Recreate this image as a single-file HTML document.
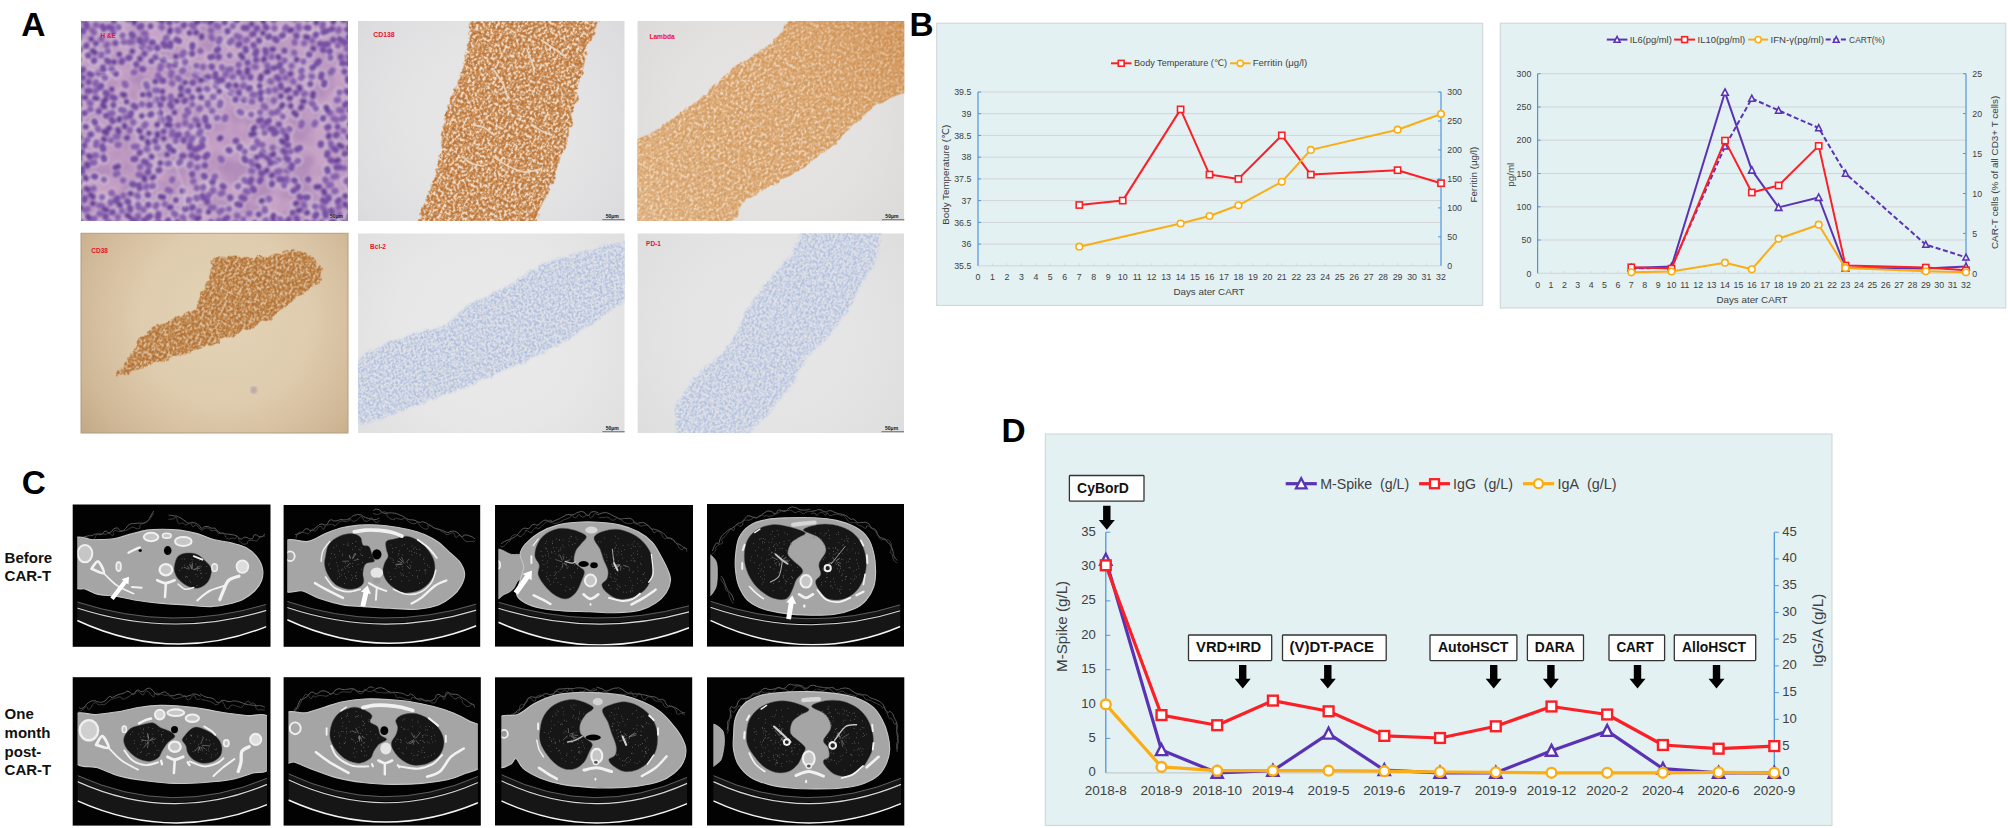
<!DOCTYPE html>
<html lang="en"><head><meta charset="utf-8"><title>Figure</title>
<style>
html,body{margin:0;padding:0;background:#fff;}
body{width:2008px;height:828px;overflow:hidden;font-family:'Liberation Sans','DejaVu Sans',sans-serif;}
svg{display:block;}
svg text{font-family:'Liberation Sans','DejaVu Sans',sans-serif;}
</style></head><body>
<svg width="2008" height="828" viewBox="0 0 2008 828">
<defs>
<clipPath id="c1"><rect x="81" y="21" width="267" height="200"/></clipPath>
<filter id="fHEbg" x="-5%" y="-5%" width="110%" height="110%" color-interpolation-filters="sRGB"><feTurbulence type="fractalNoise" baseFrequency="0.045" numOctaves="2" seed="5" result="n"/><feColorMatrix in="n" type="matrix" values="1 0 0 0 0 1 0 0 0 0 1 0 0 0 0 0 0 0 0 1" result="g"/><feComponentTransfer in="g" result="c"><feFuncR type="table" tableValues="0.678 0.682 0.690 0.694 0.698 0.702 0.710 0.714 0.725 0.737 0.749 0.761 0.769 0.780 0.784 0.788 0.792 0.792 0.796 0.800 0.804"/><feFuncG type="table" tableValues="0.529 0.533 0.541 0.545 0.549 0.553 0.561 0.565 0.576 0.588 0.600 0.612 0.624 0.635 0.639 0.643 0.647 0.655 0.659 0.663 0.667"/><feFuncB type="table" tableValues="0.718 0.722 0.722 0.725 0.729 0.733 0.733 0.737 0.745 0.749 0.757 0.765 0.769 0.776 0.780 0.780 0.784 0.784 0.788 0.788 0.792"/></feComponentTransfer><feComposite in="c" in2="SourceGraphic" operator="in"/></filter>
<filter id="fsoft" x="-2%" y="-2%" width="104%" height="104%"><feGaussianBlur stdDeviation="0.55"/></filter>
<filter id="fsoft2" x="-2%" y="-2%" width="104%" height="104%"><feGaussianBlur stdDeviation="0.8"/></filter>
<filter id="fCD138" x="-5%" y="-5%" width="110%" height="110%" color-interpolation-filters="sRGB"><feTurbulence type="fractalNoise" baseFrequency="0.40 0.36" numOctaves="2" seed="3" result="n"/><feColorMatrix in="n" type="matrix" values="1 0 0 0 0 1 0 0 0 0 1 0 0 0 0 0 0 0 0 1" result="g"/><feComponentTransfer in="g" result="c"><feFuncR type="table" tableValues="0.671 0.678 0.690 0.698 0.706 0.718 0.725 0.741 0.757 0.780 0.808 0.847 0.890 0.933 0.937 0.937 0.941 0.945 0.949 0.949 0.953"/><feFuncG type="table" tableValues="0.400 0.408 0.420 0.427 0.435 0.447 0.455 0.475 0.502 0.529 0.580 0.655 0.749 0.863 0.871 0.878 0.886 0.890 0.898 0.906 0.914"/><feFuncB type="table" tableValues="0.192 0.200 0.204 0.212 0.220 0.227 0.231 0.251 0.271 0.302 0.369 0.478 0.620 0.796 0.804 0.816 0.824 0.835 0.843 0.855 0.863"/></feComponentTransfer><feGaussianBlur in="c" stdDeviation="0.45" result="c"/><feTurbulence type="fractalNoise" baseFrequency="0.12" numOctaves="2" seed="14" result="n2"/><feDisplacementMap in="SourceGraphic" in2="n2" scale="7" xChannelSelector="R" yChannelSelector="G" result="d"/><feComposite in="c" in2="d" operator="in"/></filter>
<radialGradient id="g2" gradientUnits="userSpaceOnUse" cx="491" cy="121" r="190"><stop offset="0" stop-color="#e8e7e8"/><stop offset="0.45" stop-color="#e5e4e5"/><stop offset="0.8" stop-color="#dddcde"/><stop offset="1" stop-color="#d5d4d6"/></radialGradient>
<clipPath id="c2"><rect x="358" y="21" width="266.7" height="200"/></clipPath>
<filter id="fLam" x="-5%" y="-5%" width="110%" height="110%" color-interpolation-filters="sRGB"><feTurbulence type="fractalNoise" baseFrequency="0.38 0.34" numOctaves="2" seed="9" result="n"/><feColorMatrix in="n" type="matrix" values="1 0 0 0 0 1 0 0 0 0 1 0 0 0 0 0 0 0 0 1" result="g"/><feComponentTransfer in="g" result="c"><feFuncR type="table" tableValues="0.788 0.796 0.800 0.808 0.812 0.820 0.824 0.831 0.843 0.851 0.863 0.878 0.894 0.914 0.933 0.933 0.937 0.941 0.941 0.941 0.945"/><feFuncG type="table" tableValues="0.549 0.557 0.569 0.576 0.584 0.592 0.604 0.612 0.631 0.647 0.667 0.702 0.737 0.792 0.847 0.855 0.859 0.867 0.875 0.878 0.886"/><feFuncB type="table" tableValues="0.306 0.318 0.329 0.341 0.349 0.361 0.373 0.384 0.412 0.439 0.467 0.518 0.573 0.663 0.753 0.765 0.776 0.784 0.796 0.808 0.820"/></feComponentTransfer><feGaussianBlur in="c" stdDeviation="0.45" result="c"/><feTurbulence type="fractalNoise" baseFrequency="0.12" numOctaves="2" seed="20" result="n2"/><feDisplacementMap in="SourceGraphic" in2="n2" scale="6" xChannelSelector="R" yChannelSelector="G" result="d"/><feComposite in="c" in2="d" operator="in"/></filter>
<linearGradient id="g3" gradientUnits="userSpaceOnUse" x1="637" y1="221" x2="905" y2="21"><stop offset="0" stop-color="rgba(242,220,190,0.22)"/><stop offset="0.5" stop-color="rgba(220,170,110,0)"/><stop offset="1" stop-color="rgba(190,110,40,0.34)"/></linearGradient>
<radialGradient id="g3b" gradientUnits="userSpaceOnUse" cx="770" cy="121" r="190"><stop offset="0" stop-color="#e6e5e4"/><stop offset="0.5" stop-color="#e3e2e1"/><stop offset="0.85" stop-color="#dcdbda"/><stop offset="1" stop-color="#d6d5d4"/></radialGradient>
<clipPath id="c3"><rect x="637.3" y="21" width="267" height="200"/></clipPath>
<filter id="fCD38" x="-5%" y="-5%" width="110%" height="110%" color-interpolation-filters="sRGB"><feTurbulence type="fractalNoise" baseFrequency="0.40 0.36" numOctaves="2" seed="13" result="n"/><feColorMatrix in="n" type="matrix" values="1 0 0 0 0 1 0 0 0 0 1 0 0 0 0 0 0 0 0 1" result="g"/><feComponentTransfer in="g" result="c"><feFuncR type="table" tableValues="0.643 0.651 0.659 0.667 0.675 0.686 0.694 0.706 0.722 0.737 0.761 0.788 0.820 0.843 0.855 0.863 0.863 0.863 0.863 0.863 0.863"/><feFuncG type="table" tableValues="0.388 0.396 0.408 0.416 0.424 0.431 0.443 0.455 0.478 0.502 0.541 0.588 0.659 0.714 0.741 0.769 0.769 0.773 0.773 0.776 0.776"/><feFuncB type="table" tableValues="0.169 0.176 0.184 0.192 0.200 0.208 0.216 0.227 0.251 0.271 0.322 0.384 0.486 0.565 0.608 0.651 0.655 0.659 0.659 0.663 0.667"/></feComponentTransfer><feGaussianBlur in="c" stdDeviation="0.45" result="c"/><feTurbulence type="fractalNoise" baseFrequency="0.13" numOctaves="2" seed="24" result="n2"/><feDisplacementMap in="SourceGraphic" in2="n2" scale="8" xChannelSelector="R" yChannelSelector="G" result="d"/><feComposite in="c" in2="d" operator="in"/></filter>
<radialGradient id="g4" gradientUnits="userSpaceOnUse" cx="225" cy="318" r="190"><stop offset="0" stop-color="#e3d2b6"/><stop offset="0.45" stop-color="#dfccae"/><stop offset="0.8" stop-color="#cfb796"/><stop offset="1" stop-color="#bfa583"/></radialGradient>
<clipPath id="c4"><rect x="81" y="233.3" width="267" height="199.7"/></clipPath>
<filter id="fBcl" x="-5%" y="-5%" width="110%" height="110%" color-interpolation-filters="sRGB"><feTurbulence type="fractalNoise" baseFrequency="0.46 0.41" numOctaves="2" seed="21" result="n"/><feColorMatrix in="n" type="matrix" values="1 0 0 0 0 1 0 0 0 0 1 0 0 0 0 0 0 0 0 1" result="g"/><feComponentTransfer in="g" result="c"><feFuncR type="table" tableValues="0.627 0.639 0.647 0.659 0.671 0.678 0.690 0.702 0.733 0.761 0.800 0.839 0.875 0.886 0.886 0.890 0.894 0.898 0.898 0.902 0.906"/><feFuncG type="table" tableValues="0.702 0.710 0.718 0.725 0.733 0.741 0.749 0.761 0.784 0.804 0.831 0.855 0.882 0.890 0.890 0.894 0.894 0.898 0.902 0.902 0.906"/><feFuncB type="table" tableValues="0.855 0.859 0.863 0.867 0.871 0.871 0.875 0.878 0.886 0.890 0.894 0.898 0.902 0.902 0.902 0.906 0.906 0.906 0.906 0.910 0.910"/></feComponentTransfer><feGaussianBlur in="c" stdDeviation="0.4" result="c"/><feTurbulence type="fractalNoise" baseFrequency="0.12" numOctaves="2" seed="32" result="n2"/><feDisplacementMap in="SourceGraphic" in2="n2" scale="6" xChannelSelector="R" yChannelSelector="G" result="d"/><feGaussianBlur in="d" stdDeviation="0.8" result="db"/><feComposite in="c" in2="db" operator="in"/></filter>
<radialGradient id="g5" gradientUnits="userSpaceOnUse" cx="491" cy="333" r="190"><stop offset="0" stop-color="#eaeaea"/><stop offset="0.5" stop-color="#e7e7e7"/><stop offset="0.85" stop-color="#e0e0e0"/><stop offset="1" stop-color="#d9d9d9"/></radialGradient>
<clipPath id="c5"><rect x="358" y="233.3" width="266.7" height="199.7"/></clipPath>
<filter id="fPD1" x="-5%" y="-5%" width="110%" height="110%" color-interpolation-filters="sRGB"><feTurbulence type="fractalNoise" baseFrequency="0.45 0.41" numOctaves="2" seed="33" result="n"/><feColorMatrix in="n" type="matrix" values="1 0 0 0 0 1 0 0 0 0 1 0 0 0 0 0 0 0 0 1" result="g"/><feComponentTransfer in="g" result="c"><feFuncR type="table" tableValues="0.643 0.651 0.663 0.675 0.682 0.690 0.702 0.714 0.741 0.769 0.804 0.839 0.871 0.882 0.882 0.886 0.886 0.890 0.894 0.894 0.898"/><feFuncG type="table" tableValues="0.714 0.722 0.729 0.737 0.745 0.753 0.757 0.769 0.788 0.808 0.835 0.859 0.878 0.882 0.886 0.886 0.890 0.890 0.894 0.894 0.898"/><feFuncB type="table" tableValues="0.863 0.867 0.867 0.871 0.875 0.878 0.878 0.882 0.886 0.890 0.894 0.898 0.902 0.902 0.902 0.902 0.902 0.906 0.906 0.906 0.906"/></feComponentTransfer><feGaussianBlur in="c" stdDeviation="0.4" result="c"/><feTurbulence type="fractalNoise" baseFrequency="0.12" numOctaves="2" seed="44" result="n2"/><feDisplacementMap in="SourceGraphic" in2="n2" scale="6" xChannelSelector="R" yChannelSelector="G" result="d"/><feGaussianBlur in="d" stdDeviation="0.8" result="db"/><feComposite in="c" in2="db" operator="in"/></filter>
<radialGradient id="g6" gradientUnits="userSpaceOnUse" cx="770" cy="333" r="190"><stop offset="0" stop-color="#e7e7e8"/><stop offset="0.5" stop-color="#e4e4e5"/><stop offset="0.85" stop-color="#dededf"/><stop offset="1" stop-color="#d8d8d9"/></radialGradient>
<clipPath id="c6"><rect x="637.4" y="233.3" width="266.6" height="199.7"/></clipPath>
<filter id="fct" x="-2%" y="-2%" width="104%" height="104%"><feGaussianBlur stdDeviation="0.45"/></filter>
<clipPath id="ct1"><rect x="77.2" y="505.7" width="189.2" height="139.9"/></clipPath>
<clipPath id="ct2"><rect x="287.2" y="506.2" width="189.2" height="139.4"/></clipPath>
<clipPath id="ct3"><rect x="498.3" y="506.2" width="190.8" height="139.2"/></clipPath>
<clipPath id="ct4"><rect x="710.3" y="505.2" width="190.1" height="140.2"/></clipPath>
<clipPath id="ct5"><rect x="77.5" y="678.4" width="189.5" height="146"/></clipPath>
<clipPath id="ct6"><rect x="288.4" y="678.4" width="189.5" height="146"/></clipPath>
<clipPath id="ct7"><rect x="501.3" y="678.5" width="185.9" height="145.8"/></clipPath>
<clipPath id="ct8"><rect x="713.3" y="678.5" width="187.7" height="145.8"/></clipPath>
</defs>
<g clip-path="url(#c1)">
<rect x="81" y="21" width="267" height="200" fill="#c59bc7" filter="url(#fHEbg)"/>
<g filter="url(#fsoft2)" fill="none" stroke-linecap="round">
<path d="M97.8 128.4l0.5 1.1M177.8 29.9l0.5 1.1M216.5 25.7l1.7 1M249.3 213.2l-0.5 0.3M252.4 94.7l2 0.2M263.7 106.1l1.6 1.2M94.6 162.5l-3 0.3M302.4 76.6l-1.4 1.4M123.9 42.1l-0 0M200.6 131.2l-1.6 2.6M78.1 49.2l1.9 0.6M111.5 192.9l0.5 0.4M101.4 39.1l-0 0M171.5 72.5l-0.5 3M339.1 110.1l2.9 0.7M133.8 146.6l3 0.1M282.8 116.5l-0 0M221.8 210.3l-2.4 1.7M196.4 197.6l0.4 1.1M303.5 61.5l-0 0M231 69.2l-3 0.4M268.9 198.6l0.2 0.6M335.5 191l-1.2 0.1M143.7 33.1l1.9 0.5M338 100l-1.2 0.2M211 221.9l1.2 1.6M346.9 180.4l-0.6 1M148.6 48.8l1.2 0.3M229 208.9l-0 0M221.8 67.1l0.4 1.1M107.9 51.3l-0 0M285.3 77.7l-0 0M213.1 189.9l-0.4 1.1M185.3 122.4l0 1.2M265.8 220.4l0 0M251.6 101.4l0.6 0.2M113.4 32.6l-0 0M122.6 35.4l-0.2 0.6M121 109.8l2.9 0.8M343.5 130.7l0.5 0.3M78.3 96.6l2.8 0.9M132.9 122l0.4 0.4M161.1 66l-1.1 2.8M346.8 48.8l-0 0M267.3 65.4l0.9 2.9M98.3 72.7l0.1 0.6M280 219l0.8 0.9M212.8 96.8l0.6 0.2M110.4 202.1l0.3 1.2M203.3 186.9l-0.4 1.1M338.1 45.3l-0.3 0.5M301.9 122.8l-0.8 2.9M212.2 110.9l0 0M171.9 83.1l0.4 0.5M194.9 74.7l1.6 1.2M274.4 28.2l0 0M277.9 110.9l-1.5 1.4M206.9 88.8l0.5 0.3M138.1 204.7l0.6 2.9M191 126l-0.2 0.5M187.1 109.8l1.5 2.6M220.6 158.5l1.1 1.6M291.6 65.9l0 0M146.7 149.1l0.5 0.3M270.4 81.3l0.6 0.2M138.5 174.7l2 0.3M185.4 61.9l-0.4 0.4M92.2 30.4l2 2.2M154.4 90.4l3 0M322.9 24.2l-0.4 3M149.6 165.6l-0.7 1M339.2 214.5l0 0M183.5 69.7l-1.3 1.6M195.4 119.7l1.6 1.2M243.8 85.5l-1.1 0.6M95.7 25l0.6 0.2M141.9 103.9l0.2 0.6M188.9 199.9l-0.4 0.5M344.3 117.4l-2.7 1.4M111.6 68.9l0.7 1M192.7 138l-1.8 2.4M200 108.3l-0.9 0.8M286.5 178.7l0.1 2M107.2 44.5l-0.7 1M339.2 206.7l-0.8 0.9M123.1 180.4l-0 0M95.9 90.3l-0.6 1M153.1 186l-1.2 0.2M216.1 83.7l-0.1 2M122 210.9l0 0M301.8 70.3l-0.8 0.9M118.8 144.9l-1.2 0.1M199.1 211.1l0 0M79.7 192l-0.8 0.9M197.4 167.3l0 0M99.2 205.6l3 0.5M251 161.6l1.5 2.6M314.9 206.4l0.6 0.1M284.8 60.2l-0.3 0.5M137.1 195.6l1 0.7M79.2 119.1l0.3 0.5M134.3 72.2l-0.5 0.3M112.4 113.2l-2.9 0.8M344.2 168.1l-0 0M140.4 166.8l-0.5 0.4M272.7 147.7l-0 0M219.7 38.8l-1 2.8M220.4 102.5l-0.6 2.9M192.3 104.6l-0 0M268.6 90.5l0.1 1.2M251.2 114.6l-0 0M93.6 188.5l0 0M325.3 179.5l0.5 1.1M146.3 38.9l-1.8 2.4M294.1 52.6l0.3 0.5M192.3 215.9l2.5 1.6M217.4 117.8l-0.5 0.3M260.1 112.3l-0 0M232.9 26.1l-0 0M207.8 103l0.1 2M102.1 197.1l0 0M271.6 112.9l0.6 0.2M332.5 70.3l-1.8 2.4M273.8 20.3l0 0M123.3 195.4l0.1 0.6M210.8 30.3l0.4 0.4M254.1 147.7l-1.2 0.3M94.6 218.6l-3 0.4M243.4 219.4l0 0M238.2 186.1l-0.4 0.4M118.7 27.2l-0 0M336.4 176.1l-2.9 0.8M200.4 50.9l-0 0M117.5 173.5l-1.8 0.9M87.8 209.1l-2.8 1M164.8 204.1l-0 0M104.6 77.6l0.5 0.3M305 93.6l-1 0.6M146.4 186.3l-0.6 1M110.9 140.4l-0 0M315.9 108.6l0 0M262.4 145l0 0M279.7 171.1l-2.9 0.7M117.6 136.5l-2 0.3M236.8 36.1l2.8 1.1M213.8 207.6l-3 0M289.2 128.9l0.5 0.4M175.7 140.5l-0.1 0.6M173.9 213.3l1.5 1.3M262.7 126.2l0.4 0.4M187.4 133.6l0.1 2M124.6 83.5l1.1 1.7M89.6 102.8l0.9 0.7M293 81.2l0.3 0.5M237.1 215.7l0.5 0.3M226.1 73.7l-0.7 1M101.5 54.5l-0.4 1.1M231.4 92.5l-0.6 0.2M96 82.1l-0.6 1.9M286 27l-1 1.7M231.9 40.4l-2.1 2.2M129.8 129.9l-0.2 0.6M303.5 204.2l0.7 1.9M109.3 222.1l-1 0.6M185.2 116l0 0M286.4 170.3l2 0.1M204.5 20.8l-0 0M229.6 55.5l-0 0M196.4 65.7l-0 0M159.5 222.8l-2.9 0.6M177 20.2l-0.3 0.5M273.9 100.3l-0.1 0.6M132.2 41.9l-3 0.2M178.2 125.3l0 0M170.8 96.5l0.4 3M193.5 181.2l-0.5 0.3M90 109.2l0.6 0.1M330.5 57.5l-0.1 0.6M350.5 186.3l0.5 0.3M239.6 111.7l1.7 1M104 179.6l0 0M304.2 43.2l-0 0M196.8 188l0 0M203 66.7l-0.1 0.6M294.5 18.9l0 0M347.9 57l2.5 1.6M339.5 92.5l-0 0M264.6 132.8l-0 0M182.6 217.2l0.9 0.8M156.7 147.8l1.2 0M96.4 142.3l-0.5 3M298.4 26.2l0.4 2M238.7 64.6l-0.2 0.6M161.5 27.1l0.5 0.4M251.1 170.8l1.2 0.2M143.6 209.7l0 0M271.8 56.5l-0.2 0.6M244.8 151.6l-0 0M166.6 37.5l-1 0.7M156.5 204.7l-0.7 1.9M257.1 141.2l1.3 2.7M312.2 40.7l0 0M330.3 113l-0.6 0.1M222.5 192.9l-1.8 0.9M125.9 117.2l-0.5 0.3M246.9 39.6l-0.9 0.7M242.9 77.5l0 0M284.1 185.5l-0 0M87.5 139.7l-0.9 0.8M244.3 179.9l1.5 1.3M264.8 208.9l0.2 2M275.4 89.7l-0.5 0.3M218.9 220.3l-0.1 2M138 215.9l0.2 2M157.9 75.4l1.6 2.5M330.9 185l-2 0.4M191.6 25l2.2 2M321.7 222l-1.4 2.7M180.3 161.4l-1.3 1.6M169 163.5l-1.2 0.2M161.2 119.2l0.3 1.2M145.5 124.3l-1.2 1.6M167.5 189.8l2.8 1.1M215 176.3l-0.5 1.1M172.4 179.2l-0.4 1.1M96.1 155.5l-2 0.1M169.3 65.5l-0.1 0.6M298.2 160.7l-1 0.6M278.6 160l-2.6 1.4M311.7 103.2l1.5 1.3M146.1 84.1l1.1 2.8M225.4 117.2l-0.6 1.9M294.5 42.2l0.1 0.6M80.8 20l-0.9 0.8M333.7 118.5l2.7 1.4M311.5 76.3l0.6 0.2M290.6 151.4l-0 0M99.1 213.7l2 0.1M190.4 163.9l-0.8 1.8M209 194.8l-1.1 1.6M349.5 215.5l-0.5 2.9M322.1 206.8l2 2.2M118 217.1l-0 0M183.7 52.6l-1.7 2.4M245.8 191.1l1.8 0.8M211.3 36.8l1 1.7M177.7 77.9l1.5 1.3M282.6 130.4l1.5 2.6M330.8 143.2l0.7 2.9M203.1 139l-1.1 2.8M282.8 70.8l-0.7 1M172.4 131.8l-0.5 3M315.2 122.7l-0.9 1.8M254.7 66.7l1.1 0.4M338.9 29.6l-0.6 1.1M232.9 76.5l-0.5 0.4M156.2 99.3l0.2 1.2M235.5 99.7l-0 0M157.1 47.7l0.4 0.5M227.5 30.9l0.1 0.6M94.3 60.4l-0.3 0.5M277.1 77.3l1.5 1.4M345.6 42.3l-0.8 0.9M192.1 174l0.1 0.6M207.4 154.8l-2.1 2.2M183.3 155.7l-1.1 0.4M84.2 113.1l0.6 0M94.1 176.3l1.1 0.4M315.9 34.6l-0.2 0.6M175.9 200.1l0 0M238.8 72.1l0.5 0.3M79.1 104.3l-0.3 0.5M178.8 134.7l-1.8 0.8M185.1 100.2l-0.7 1M105.7 92.9l1.4 1.4M85 198.1l-0.6 1.9M245.6 48.6l0.3 2M205.2 117.7l0.3 3M337.6 126.8l0 0M138.9 185.2l0.7 2.9M298.1 186.6l-1 1.7M280 64.7l-0.7 1.9M85.9 23.8l1 2.8M296.3 35.5l0.3 0.5M296.6 218.2l0.6 1.9M336.5 167.3l3 0.1M345.6 153.4l-1.1 0.4M113.8 20.9l0 0M192.4 45l-0.1 2M237.3 204.3l2.9 0.8M192.8 207.1l-0.9 0.8M128 18.8l0.3 0.5M276 132.6l-1.8 0.8M115.4 43.1l-0 0M260.8 179.5l-1 1.7M322.9 49.8l0.5 0.4M342.1 63.2l1.2 0.1M168.5 146.5l1.7 2.4M150.5 26.2l0 0M113.4 105l0 0M269.2 36.4l-1 0.7M334.2 148.7l1.6 1.2M163.2 80.8l-0.6 0.1M83 69.6l-1.7 1.1M82.2 169l-0.1 3M333.2 39.9l-0 0M307.7 197.3l-2 0.2M149.9 216.1l-2.4 1.8M86.5 45.4l-0.3 0.5M176.5 39.6l2.6 1.5M78.9 182.3l-0 0M287.4 145.1l0.6 0M253.5 34l-1.2 0.3M81.4 30.5l1.8 0.8M267 157.2l1.5 1.3M132.4 219.5l2.3 1.9M151.3 61.2l0 0M323.1 118.1l-0.1 0.6M185.3 223.8l0.1 3M238.8 92.3l-0.2 2M339 200.2l-1.4 1.4M299.7 148l-2.6 1.5M283.5 150.8l1.5 1.4M159.3 170.2l-0.6 0.1M344.5 71.6l0 0M122.1 60.8l-0.4 1.1M350 110.7l0.6 0.1M102.9 67.3l0.4 3M180.9 87.7l0.1 1.2M184.9 208.9l0.6 0.2M160.3 112.9l0 0M142.1 68.9l1.1 0.4M170.3 104.6l1.1 1.7M158.5 214.1l-0.5 3M191.8 155.1l-0.4 0.4M148.2 171.9l-0.4 0.4M228.9 85.1l-0.8 0.9M105.9 115.8l-0 0M255.9 59.9l0.6 0.1M163.2 59.9l0.6 0M228.6 150l1 0.7M102.3 146.2l1 2.8M112.6 212.3l-0.6 0.1M84.4 145.5l-0 0M211.6 66.5l0.3 0.5M284.4 50.7l-0 0M88.1 55.5l-0 0M349.1 147.7l0.6 0.1M348.4 136.9l0.6 0.1M140 152.5l-0.5 0.4M175.5 64.2l-0.2 0.6M291.8 165.4l-0.6 2.9M139.7 39.7l0.2 2M141.4 26l-1.7 1.1M250.4 77.2l-0 0M270.4 128.8l3 0.5M78.4 59.6l-1 0.7M212.2 182.1l0.6 0M269 120.7l-2.3 1.9M105.8 216.3l-0.2 1.2M107.2 60.5l1.6 1.2M184 25l-0.3 0.5M202.3 146l-2.6 1.5M135.4 159l-2 0.1M346.8 91.2l0.8 0.9M195 149.3l1.2 0.1M141.9 46.7l0.6 0.2M244.4 158.6l1 1.7M168.2 220.2l-1 1.8M207.5 126.3l1.2 0.2M215.5 74l-0.1 3M251.3 179.5l-1.1 2.8M129.9 207.8l0.3 2M327.5 153.1l-0.3 2M160.5 104.9l-0.6 0.1M183.7 139.9l-0 0.6M274.4 67.9l-0.6 0.1M82 152l-2.3 1.9M197.8 157.4l-1.1 0.6M192.1 97.5l0 0M292.6 212.7l0 0M149.8 105l-0.6 0.2M299.6 196.6l0.8 0.9M322.9 200.3l2.7 1.2M129.6 57.6l-1.2 0.3M230.2 197.4l0.1 0.6M326.4 31.2l-2.8 1M260.8 99l0 0M348.7 63.7l2 0.1M306.6 27.7l2 0.2M347 29.5l0.6 0.2M208.3 77l-1.8 0.8M177.4 222.2l-0 0M350.5 208.6l0.4 0.4M131.7 34.3l1.2 1.6M316.3 214.5l-1.1 1.7M224.7 22.3l0 0M111.6 119.7l1.3 1.5M151.3 114.1l-1 0.6M313.3 67.1l-1 0.7M347.6 78.9l0.3 2M327.7 44.2l-3 0.2M133.8 105.8l1.6 1.2M91 134.4l-0.6 0.1M222.7 186.1l0.9 0.8M144.4 53.7l0 0M95.9 43.4l0 0M162.8 98.3l0.4 0.4M310.3 84.1l0 0M258.9 40.4l0.4 0.4M327.2 169.2l0.5 1.9M88.7 82l0 0M243.8 27.8l3 0.2M227.2 217.7l-2.4 1.8M203.9 175.8l0.9 0.8M81 222.4l0.1 0.6M282.9 35.3l-1.1 0.4M280.7 85.3l0.4 2M325.1 212.7l0.6 2.9M102.5 26.2l1.2 2.7M127.3 201.3l1 0.7M275 39l1.5 1.3M328.5 197.4l0.2 1.2M286.5 158.2l1.5 1.3M117.4 198.3l-1.9 2.4M79.6 137.3l-0.6 0.2M169.1 22.2l0.4 0.5M288.9 219.3l-1.6 2.6M94.4 121.4l0.6 1M144.2 220.4l-0.3 0.5M168.5 118l1.2 1.6M319 61.2l-2.1 2.2M117.1 223.7l0.7 1M308.2 179.5l0 0M252.9 188.5l1 1.7M207.3 201.4l-0.4 0.5M147.6 194.9l0.6 0.1M272 183.3l-0.1 1.2M148.3 204.6l-0.1 0.6M265.3 49.9l0.5 3M116.1 73.9l-0 0M257.2 28.3l-0.5 0.3M320.9 143.7l-0.2 1.2M340.7 56.6l0 0.6M261.1 173l1.1 0.5M328.5 127l-1.1 0.5M293.3 190.7l-0 0M270.2 163l0.6 0M136.2 64.1l0.2 0.6M103.6 157.3l0.6 1.9M249.8 88.1l-1.1 0.6M278.9 124.3l0 0M239.4 44l-0.9 0.8M306.5 222.8l-0.3 0.5M273.4 221.9l0 0M247.6 62.6l0 0M82.8 77.7l0 0M212.3 56.8l-2 0.4M218.3 49.2l-1.6 1.2M331.2 210.4l0.9 1.8M170.3 43.4l-0.1 3M205 165.5l0 0M262.8 152.4l-1.2 2.7M190 145.4l-0 2M188.1 90.9l0 0M149.1 94.3l0.5 0.3M294.3 180.4l0.5 0.4M202.5 195.9l0.8 1.8M330 51.1l-0.5 0.4M260.9 92.2l-0.6 1M258.7 214.4l-0 0M256.4 51.2l-0.9 2.9M260.9 120.1l-1.9 0.7M89.6 90.8l-2 0.1M336.8 134.6l-0.9 0.8M193 82.7l-0.6 0.1M163.7 131.4l-0 0M308.9 54.5l0.6 0.2M321.7 74.4l-0.7 2.9M131 113.3l-1 2.8M265.6 26.9l0.9 0.8M218.7 56.7l-0.1 0.6M320.1 43.7l0 0M98.8 111.2l-0 0M241.6 197.4l2.8 1.1M144.1 161.6l1.8 0.8M182.4 190.9l-0 0M192.1 53.4l0.1 0.6M152.8 42.3l-1.1 0.4M339.6 39.1l2.5 1.7M163.5 43.5l1.6 2.5M109 27.2l2.8 1M132.3 184l1.1 0.5M112.6 97.3l1.9 0.8M295.9 93l-0 0M222.2 79.9l-3 0.5M346.3 103.5l-1.3 1.5M332.3 28.8l-1.1 0.5M155.6 56.5l0.3 0.5M89.5 74l1.8 0.8M244 99.8l-0 0M236.2 140.7l-0.6 0.2M253.6 45.2l-0 0M330.7 160.3l1.1 0.4M279.4 179.1l2.9 0.6M349.7 23.2l-0.2 0.6M324.5 82.6l-0.4 2M101.3 85.9l-1.4 1.4M155 140.7l0.4 0.5M239.9 146.8l-0.6 1M196.4 32.4l-0.5 0.4M102.8 105.5l1.6 1.2M90.7 194.8l2.2 2.1M127.3 137.8l-0.6 0.2M163.8 138.6l-0 0M201.7 79.8l-1.1 0.3M119.5 118.7l-0.4 1.1M88.7 155.7l1.3 1.5M286.7 136l0.3 3M307.3 212.6l-0.5 0.3M254.7 222.6l0.2 0.6M319.2 186.8l-3 0.3M119.2 54.3l0 0M338.2 160.2l-1.8 0.8M92.7 203.3l0.5 0.4M118 129.9l0.6 1.9M85.4 126.8l0.6 0.1M345.1 195.8l0.3 0.5M268.1 71.8l-2 0.1M219.3 91.2l0 0M333.8 221.5l-2 0.1M139.9 58.5l0.1 0.6M323.8 191.1l0.7 1.9M119.3 204.4l0.8 0.9M174.6 112.4l0 0M167 124.8l3 0.4M153.6 177.1l-1.1 0.6M208.5 211.9l-0 0M148.9 133.3l-0 0M273.5 154l-2.3 2M198.2 21.7l-1.9 0.7M290.7 73.7l-0.5 0.3M328.9 135.5l-0.3 1.2M301.6 107l-0.8 0.9M261.1 76.1l-0.8 2.9M162.5 91.5l-0 0M257.5 165.5l1.3 1.5M151.4 156.4l0.4 0.4M157.4 124.4l-0.4 0.5M333.6 21.6l-0.4 0.4M307.4 18.4l-0.3 0.5M91.2 39l-0 0M316.3 22.5l0 0M86.8 164.2l0.8 1.8M238.3 18l-1.7 2.5M264.3 58.8l-0.6 1.1M181.4 95l-1.1 0.5M339.4 145.1l2.6 1.5M141.8 115.9l-0 0M235.9 85.2l0.2 0.6M147.6 141.5l0.5 1.9M81.1 85.4l-1.2 0M105.7 99.4l-2 2.3M155.3 81.4l-0 0M313.9 223.3l-2.8 1.1M254.1 133.8l-2.9 0.7M173.6 151l0 0M289 89.4l-2.7 1.3M160.3 162.9l-0 0M282.5 104.8l-1 1.7M290.4 98.1l-1.2 0.2M251.7 23.9l0 0M313.2 93.4l-0.4 3M304 101.2l-1.2 0M160 19.3l2.3 1.9M79.3 158.9l-1.7 1M278.3 56.6l0.5 1.1M294.1 112.7l2.1 2.1M141.6 137.4l0.4 0.4M290.7 105.7l-0 0.6M263 20.6l0.4 1.1M104.5 209.3l1.9 0.5M299.3 87.1l0.7 1.9M122.6 94.5l1.9 0.7M313.1 48.3l0.4 0.4M247.6 69.6l-0.5 3M94.9 97.9l2 0.3M350.5 124.6l-0.6 0.1M254.6 127.5l-1.4 1.5M124.6 125.6l0.3 1.2M200.8 97.4l0.6 0.1M175.8 56.4l0 0M157.4 133.7l0.1 2M109.4 128l-1.5 1.3M266.8 170.2l-0.2 0.6M80.3 207.4l0.5 0.4M85.6 177.5l0.5 1.1M199 217.8l-1.7 1.1M189.4 33.1l0 0M142.7 94.7l0 0M170.2 29.8l-0.4 2M272.2 175.2l-0.5 0.4M344 19.9l-0.6 0.2M170.7 207.2l-1.2 0.2M280.9 96l0 0M201.6 36.1l0 1.2M305.7 36.8l1.9 0.6M259.7 85.9l-0 0M296.8 59.3l-0.3 0.5M240.8 55.1l1.8 2.4M139 130.4l1 0.7M104.1 131.6l2.4 1.7M211.5 21.4l-1.7 1.1M134.1 20.7l0.2 2M86.4 188.7l1.7 1M220.6 137.8l-0.9 0.8M296.7 203.1l-1.1 0.5M262.9 33.1l-0 0M127.2 215.4l1.7 1M103.7 138.8l0.9 0.8M273.5 215.5l-0.5 1.9M132.3 51.2l0 0M344.1 222.9l-0.6 1M79 36.8l-0.3 0.5M256.7 157.3l-0 0M349.1 36.7l-0.5 0.3M176.5 100.8l0.4 0.4M185.1 82.4l0 0M126.6 101.7l-0 0M78.1 215.8l-0.8 1.8M92.7 50.8l2.3 1.9M114 62l-0 0M111.8 89.2l0 0M345 204l0.4 1.1M199.2 89.7l-0.6 0M167.1 154.4l0 0M160.5 196.6l2.9 0.7M262 200.7l-0.5 0.3M281.6 140.8l1.4 1.5M87.9 216.3l0.9 1.8M291.6 29.9l-1.9 0.6M85.4 97.4l-0 0M234.2 223.5l2 0.1M118.2 166.4l-2.8 1.1M273.2 49.2l-1.2 0.2M144.2 177.6l0.4 2M326.3 107.4l1.2 2.8M130.2 193.5l0.6 0.2M300.2 210l-1.9 0.7M198.5 125.2l-0 0" stroke="#e0d9e6" stroke-width="10.4" opacity="0.3"/>
<path d="M97.8 128.4l0.5 1.1M94.6 162.5l-3 0.3M302.4 76.6l-1.4 1.4M123.9 42.1l-0 0M200.6 131.2l-1.6 2.6M78.1 49.2l1.9 0.6M282.8 116.5l-0 0M221.8 210.3l-2.4 1.7M196.4 197.6l0.4 1.1M303.5 61.5l-0 0M231 69.2l-3 0.4M346.9 180.4l-0.6 1M148.6 48.8l1.2 0.3M229 208.9l-0 0M221.8 67.1l0.4 1.1M107.9 51.3l-0 0M113.4 32.6l-0 0M122.6 35.4l-0.2 0.6M121 109.8l2.9 0.8M343.5 130.7l0.5 0.3M78.3 96.6l2.8 0.9M280 219l0.8 0.9M212.8 96.8l0.6 0.2M110.4 202.1l0.3 1.2M203.3 186.9l-0.4 1.1M338.1 45.3l-0.3 0.5M277.9 110.9l-1.5 1.4M206.9 88.8l0.5 0.3M138.1 204.7l0.6 2.9M191 126l-0.2 0.5M187.1 109.8l1.5 2.6M185.4 61.9l-0.4 0.4M92.2 30.4l2 2.2M154.4 90.4l3 0M322.9 24.2l-0.4 3M149.6 165.6l-0.7 1M141.9 103.9l0.2 0.6M188.9 199.9l-0.4 0.5M344.3 117.4l-2.7 1.4M111.6 68.9l0.7 1M192.7 138l-1.8 2.4M95.9 90.3l-0.6 1M153.1 186l-1.2 0.2M216.1 83.7l-0.1 2M122 210.9l0 0M301.8 70.3l-0.8 0.9M251 161.6l1.5 2.6M314.9 206.4l0.6 0.1M284.8 60.2l-0.3 0.5M137.1 195.6l1 0.7M79.2 119.1l0.3 0.5M219.7 38.8l-1 2.8M220.4 102.5l-0.6 2.9M192.3 104.6l-0 0M268.6 90.5l0.1 1.2M251.2 114.6l-0 0M217.4 117.8l-0.5 0.3M260.1 112.3l-0 0M232.9 26.1l-0 0M207.8 103l0.1 2M102.1 197.1l0 0M254.1 147.7l-1.2 0.3M94.6 218.6l-3 0.4M243.4 219.4l0 0M238.2 186.1l-0.4 0.4M118.7 27.2l-0 0M104.6 77.6l0.5 0.3M305 93.6l-1 0.6M146.4 186.3l-0.6 1M110.9 140.4l-0 0M315.9 108.6l0 0M289.2 128.9l0.5 0.4M175.7 140.5l-0.1 0.6M173.9 213.3l1.5 1.3M262.7 126.2l0.4 0.4M187.4 133.6l0.1 2M101.5 54.5l-0.4 1.1M231.4 92.5l-0.6 0.2M96 82.1l-0.6 1.9M286 27l-1 1.7M231.9 40.4l-2.1 2.2M204.5 20.8l-0 0M229.6 55.5l-0 0M196.4 65.7l-0 0M159.5 222.8l-2.9 0.6M177 20.2l-0.3 0.5M90 109.2l0.6 0.1M330.5 57.5l-0.1 0.6M350.5 186.3l0.5 0.3M239.6 111.7l1.7 1M104 179.6l0 0M339.5 92.5l-0 0M264.6 132.8l-0 0M182.6 217.2l0.9 0.8M156.7 147.8l1.2 0M96.4 142.3l-0.5 3M271.8 56.5l-0.2 0.6M244.8 151.6l-0 0M166.6 37.5l-1 0.7M156.5 204.7l-0.7 1.9M257.1 141.2l1.3 2.7M242.9 77.5l0 0M284.1 185.5l-0 0M87.5 139.7l-0.9 0.8M244.3 179.9l1.5 1.3M264.8 208.9l0.2 2M191.6 25l2.2 2M321.7 222l-1.4 2.7M180.3 161.4l-1.3 1.6M169 163.5l-1.2 0.2M161.2 119.2l0.3 1.2M169.3 65.5l-0.1 0.6M298.2 160.7l-1 0.6M278.6 160l-2.6 1.4M311.7 103.2l1.5 1.3M146.1 84.1l1.1 2.8M290.6 151.4l-0 0M99.1 213.7l2 0.1M190.4 163.9l-0.8 1.8M209 194.8l-1.1 1.6M349.5 215.5l-0.5 2.9M177.7 77.9l1.5 1.3M282.6 130.4l1.5 2.6M330.8 143.2l0.7 2.9M203.1 139l-1.1 2.8M282.8 70.8l-0.7 1M156.2 99.3l0.2 1.2M235.5 99.7l-0 0M157.1 47.7l0.4 0.5M227.5 30.9l0.1 0.6M94.3 60.4l-0.3 0.5M84.2 113.1l0.6 0M94.1 176.3l1.1 0.4M315.9 34.6l-0.2 0.6M175.9 200.1l0 0M238.8 72.1l0.5 0.3M245.6 48.6l0.3 2M205.2 117.7l0.3 3M337.6 126.8l0 0M138.9 185.2l0.7 2.9M298.1 186.6l-1 1.7M345.6 153.4l-1.1 0.4M113.8 20.9l0 0M192.4 45l-0.1 2M237.3 204.3l2.9 0.8M192.8 207.1l-0.9 0.8M342.1 63.2l1.2 0.1M168.5 146.5l1.7 2.4M150.5 26.2l0 0M113.4 105l0 0M269.2 36.4l-1 0.7M307.7 197.3l-2 0.2M149.9 216.1l-2.4 1.8M86.5 45.4l-0.3 0.5M176.5 39.6l2.6 1.5M78.9 182.3l-0 0M151.3 61.2l0 0M323.1 118.1l-0.1 0.6M185.3 223.8l0.1 3M238.8 92.3l-0.2 2M339 200.2l-1.4 1.4M350 110.7l0.6 0.1M102.9 67.3l0.4 3M180.9 87.7l0.1 1.2M184.9 208.9l0.6 0.2M160.3 112.9l0 0M228.9 85.1l-0.8 0.9M105.9 115.8l-0 0M255.9 59.9l0.6 0.1M163.2 59.9l0.6 0M228.6 150l1 0.7M88.1 55.5l-0 0M349.1 147.7l0.6 0.1M348.4 136.9l0.6 0.1M140 152.5l-0.5 0.4M175.5 64.2l-0.2 0.6M78.4 59.6l-1 0.7M212.2 182.1l0.6 0M269 120.7l-2.3 1.9M105.8 216.3l-0.2 1.2M107.2 60.5l1.6 1.2M141.9 46.7l0.6 0.2M244.4 158.6l1 1.7M168.2 220.2l-1 1.8M207.5 126.3l1.2 0.2M215.5 74l-0.1 3M274.4 67.9l-0.6 0.1M82 152l-2.3 1.9M197.8 157.4l-1.1 0.6M192.1 97.5l0 0M292.6 212.7l0 0M326.4 31.2l-2.8 1M260.8 99l0 0M348.7 63.7l2 0.1M306.6 27.7l2 0.2M347 29.5l0.6 0.2M224.7 22.3l0 0M111.6 119.7l1.3 1.5M151.3 114.1l-1 0.6M313.3 67.1l-1 0.7M347.6 78.9l0.3 2M95.9 43.4l0 0M162.8 98.3l0.4 0.4M310.3 84.1l0 0M258.9 40.4l0.4 0.4M327.2 169.2l0.5 1.9M282.9 35.3l-1.1 0.4M280.7 85.3l0.4 2M325.1 212.7l0.6 2.9M102.5 26.2l1.2 2.7M127.3 201.3l1 0.7M169.1 22.2l0.4 0.5M288.9 219.3l-1.6 2.6M94.4 121.4l0.6 1M144.2 220.4l-0.3 0.5M168.5 118l1.2 1.6M147.6 194.9l0.6 0.1M272 183.3l-0.1 1.2M148.3 204.6l-0.1 0.6M265.3 49.9l0.5 3M116.1 73.9l-0 0M293.3 190.7l-0 0M270.2 163l0.6 0M136.2 64.1l0.2 0.6M103.6 157.3l0.6 1.9M249.8 88.1l-1.1 0.6M82.8 77.7l0 0M212.3 56.8l-2 0.4M218.3 49.2l-1.6 1.2M331.2 210.4l0.9 1.8M170.3 43.4l-0.1 3M294.3 180.4l0.5 0.4M202.5 195.9l0.8 1.8M330 51.1l-0.5 0.4M260.9 92.2l-0.6 1M258.7 214.4l-0 0M163.7 131.4l-0 0M308.9 54.5l0.6 0.2M321.7 74.4l-0.7 2.9M131 113.3l-1 2.8M265.6 26.9l0.9 0.8M182.4 190.9l-0 0M192.1 53.4l0.1 0.6M152.8 42.3l-1.1 0.4M339.6 39.1l2.5 1.7M163.5 43.5l1.6 2.5M346.3 103.5l-1.3 1.5M332.3 28.8l-1.1 0.5M155.6 56.5l0.3 0.5M89.5 74l1.8 0.8M244 99.8l-0 0M324.5 82.6l-0.4 2M101.3 85.9l-1.4 1.4M155 140.7l0.4 0.5M239.9 146.8l-0.6 1M196.4 32.4l-0.5 0.4M119.5 118.7l-0.4 1.1M88.7 155.7l1.3 1.5M286.7 136l0.3 3M307.3 212.6l-0.5 0.3M254.7 222.6l0.2 0.6M85.4 126.8l0.6 0.1M345.1 195.8l0.3 0.5M268.1 71.8l-2 0.1M219.3 91.2l0 0M333.8 221.5l-2 0.1M153.6 177.1l-1.1 0.6M208.5 211.9l-0 0M148.9 133.3l-0 0M273.5 154l-2.3 2M198.2 21.7l-1.9 0.7M257.5 165.5l1.3 1.5M151.4 156.4l0.4 0.4M157.4 124.4l-0.4 0.5M333.6 21.6l-0.4 0.4M307.4 18.4l-0.3 0.5M181.4 95l-1.1 0.5M339.4 145.1l2.6 1.5M141.8 115.9l-0 0M235.9 85.2l0.2 0.6M147.6 141.5l0.5 1.9M173.6 151l0 0M289 89.4l-2.7 1.3M160.3 162.9l-0 0M282.5 104.8l-1 1.7M290.4 98.1l-1.2 0.2M278.3 56.6l0.5 1.1M294.1 112.7l2.1 2.1M141.6 137.4l0.4 0.4M290.7 105.7l-0 0.6M263 20.6l0.4 1.1M94.9 97.9l2 0.3M350.5 124.6l-0.6 0.1M254.6 127.5l-1.4 1.5M124.6 125.6l0.3 1.2M200.8 97.4l0.6 0.1M85.6 177.5l0.5 1.1M199 217.8l-1.7 1.1M189.4 33.1l0 0M142.7 94.7l0 0M170.2 29.8l-0.4 2M305.7 36.8l1.9 0.6M259.7 85.9l-0 0M296.8 59.3l-0.3 0.5M240.8 55.1l1.8 2.4M139 130.4l1 0.7M296.7 203.1l-1.1 0.5M262.9 33.1l-0 0M127.2 215.4l1.7 1M103.7 138.8l0.9 0.8M273.5 215.5l-0.5 1.9M176.5 100.8l0.4 0.4M185.1 82.4l0 0M126.6 101.7l-0 0M78.1 215.8l-0.8 1.8M92.7 50.8l2.3 1.9M160.5 196.6l2.9 0.7M262 200.7l-0.5 0.3M281.6 140.8l1.4 1.5M87.9 216.3l0.9 1.8M291.6 29.9l-1.9 0.6M326.3 107.4l1.2 2.8M130.2 193.5l0.6 0.2M300.2 210l-1.9 0.7M198.5 125.2l-0 0" stroke="#ddd7e2" stroke-width="10.0" opacity="0.75"/>
<path d="M97.8 128.4l0.5 1.1M177.8 29.9l0.5 1.1M216.5 25.7l1.7 1M249.3 213.2l-0.5 0.3M252.4 94.7l2 0.2M263.7 106.1l1.6 1.2M94.6 162.5l-3 0.3M302.4 76.6l-1.4 1.4M123.9 42.1l-0 0M200.6 131.2l-1.6 2.6M78.1 49.2l1.9 0.6M111.5 192.9l0.5 0.4M101.4 39.1l-0 0M171.5 72.5l-0.5 3M339.1 110.1l2.9 0.7M133.8 146.6l3 0.1M282.8 116.5l-0 0M221.8 210.3l-2.4 1.7M196.4 197.6l0.4 1.1M303.5 61.5l-0 0M231 69.2l-3 0.4M268.9 198.6l0.2 0.6M335.5 191l-1.2 0.1M143.7 33.1l1.9 0.5M338 100l-1.2 0.2M211 221.9l1.2 1.6M346.9 180.4l-0.6 1M148.6 48.8l1.2 0.3M229 208.9l-0 0M221.8 67.1l0.4 1.1M107.9 51.3l-0 0M285.3 77.7l-0 0M213.1 189.9l-0.4 1.1M185.3 122.4l0 1.2M265.8 220.4l0 0M251.6 101.4l0.6 0.2M113.4 32.6l-0 0M122.6 35.4l-0.2 0.6M121 109.8l2.9 0.8M343.5 130.7l0.5 0.3M78.3 96.6l2.8 0.9M132.9 122l0.4 0.4M161.1 66l-1.1 2.8M346.8 48.8l-0 0M267.3 65.4l0.9 2.9M98.3 72.7l0.1 0.6M280 219l0.8 0.9M212.8 96.8l0.6 0.2M110.4 202.1l0.3 1.2M203.3 186.9l-0.4 1.1M338.1 45.3l-0.3 0.5M301.9 122.8l-0.8 2.9M212.2 110.9l0 0M171.9 83.1l0.4 0.5M194.9 74.7l1.6 1.2M274.4 28.2l0 0M277.9 110.9l-1.5 1.4M206.9 88.8l0.5 0.3M138.1 204.7l0.6 2.9M191 126l-0.2 0.5M187.1 109.8l1.5 2.6M220.6 158.5l1.1 1.6M291.6 65.9l0 0M146.7 149.1l0.5 0.3M270.4 81.3l0.6 0.2M138.5 174.7l2 0.3M185.4 61.9l-0.4 0.4M92.2 30.4l2 2.2M154.4 90.4l3 0M322.9 24.2l-0.4 3M149.6 165.6l-0.7 1M339.2 214.5l0 0M183.5 69.7l-1.3 1.6M195.4 119.7l1.6 1.2M243.8 85.5l-1.1 0.6M95.7 25l0.6 0.2M141.9 103.9l0.2 0.6M188.9 199.9l-0.4 0.5M344.3 117.4l-2.7 1.4M111.6 68.9l0.7 1M192.7 138l-1.8 2.4M200 108.3l-0.9 0.8M286.5 178.7l0.1 2M107.2 44.5l-0.7 1M339.2 206.7l-0.8 0.9M123.1 180.4l-0 0M95.9 90.3l-0.6 1M153.1 186l-1.2 0.2M216.1 83.7l-0.1 2M122 210.9l0 0M301.8 70.3l-0.8 0.9M118.8 144.9l-1.2 0.1M199.1 211.1l0 0M79.7 192l-0.8 0.9M197.4 167.3l0 0M99.2 205.6l3 0.5M251 161.6l1.5 2.6M314.9 206.4l0.6 0.1M284.8 60.2l-0.3 0.5M137.1 195.6l1 0.7M79.2 119.1l0.3 0.5M134.3 72.2l-0.5 0.3M112.4 113.2l-2.9 0.8M344.2 168.1l-0 0M140.4 166.8l-0.5 0.4M272.7 147.7l-0 0M219.7 38.8l-1 2.8M220.4 102.5l-0.6 2.9M192.3 104.6l-0 0M268.6 90.5l0.1 1.2M251.2 114.6l-0 0M93.6 188.5l0 0M325.3 179.5l0.5 1.1M146.3 38.9l-1.8 2.4M294.1 52.6l0.3 0.5M192.3 215.9l2.5 1.6M217.4 117.8l-0.5 0.3M260.1 112.3l-0 0M232.9 26.1l-0 0M207.8 103l0.1 2M102.1 197.1l0 0M271.6 112.9l0.6 0.2M332.5 70.3l-1.8 2.4M273.8 20.3l0 0M123.3 195.4l0.1 0.6M210.8 30.3l0.4 0.4M254.1 147.7l-1.2 0.3M94.6 218.6l-3 0.4M243.4 219.4l0 0M238.2 186.1l-0.4 0.4M118.7 27.2l-0 0M336.4 176.1l-2.9 0.8M200.4 50.9l-0 0M117.5 173.5l-1.8 0.9M87.8 209.1l-2.8 1M164.8 204.1l-0 0M104.6 77.6l0.5 0.3M305 93.6l-1 0.6M146.4 186.3l-0.6 1M110.9 140.4l-0 0M315.9 108.6l0 0M262.4 145l0 0M279.7 171.1l-2.9 0.7M117.6 136.5l-2 0.3M236.8 36.1l2.8 1.1M213.8 207.6l-3 0M289.2 128.9l0.5 0.4M175.7 140.5l-0.1 0.6M173.9 213.3l1.5 1.3M262.7 126.2l0.4 0.4M187.4 133.6l0.1 2M124.6 83.5l1.1 1.7M89.6 102.8l0.9 0.7M293 81.2l0.3 0.5M237.1 215.7l0.5 0.3M226.1 73.7l-0.7 1M101.5 54.5l-0.4 1.1M231.4 92.5l-0.6 0.2M96 82.1l-0.6 1.9M286 27l-1 1.7M231.9 40.4l-2.1 2.2M129.8 129.9l-0.2 0.6M303.5 204.2l0.7 1.9M109.3 222.1l-1 0.6M185.2 116l0 0M286.4 170.3l2 0.1M204.5 20.8l-0 0M229.6 55.5l-0 0M196.4 65.7l-0 0M159.5 222.8l-2.9 0.6M177 20.2l-0.3 0.5M273.9 100.3l-0.1 0.6M132.2 41.9l-3 0.2M178.2 125.3l0 0M170.8 96.5l0.4 3M193.5 181.2l-0.5 0.3M90 109.2l0.6 0.1M330.5 57.5l-0.1 0.6M350.5 186.3l0.5 0.3M239.6 111.7l1.7 1M104 179.6l0 0M304.2 43.2l-0 0M196.8 188l0 0M203 66.7l-0.1 0.6M294.5 18.9l0 0M347.9 57l2.5 1.6M339.5 92.5l-0 0M264.6 132.8l-0 0M182.6 217.2l0.9 0.8M156.7 147.8l1.2 0M96.4 142.3l-0.5 3M298.4 26.2l0.4 2M238.7 64.6l-0.2 0.6M161.5 27.1l0.5 0.4M251.1 170.8l1.2 0.2M143.6 209.7l0 0M271.8 56.5l-0.2 0.6M244.8 151.6l-0 0M166.6 37.5l-1 0.7M156.5 204.7l-0.7 1.9M257.1 141.2l1.3 2.7M312.2 40.7l0 0M330.3 113l-0.6 0.1M222.5 192.9l-1.8 0.9M125.9 117.2l-0.5 0.3M246.9 39.6l-0.9 0.7M242.9 77.5l0 0M284.1 185.5l-0 0M87.5 139.7l-0.9 0.8M244.3 179.9l1.5 1.3M264.8 208.9l0.2 2M275.4 89.7l-0.5 0.3M218.9 220.3l-0.1 2M138 215.9l0.2 2M157.9 75.4l1.6 2.5M330.9 185l-2 0.4M191.6 25l2.2 2M321.7 222l-1.4 2.7M180.3 161.4l-1.3 1.6M169 163.5l-1.2 0.2M161.2 119.2l0.3 1.2M145.5 124.3l-1.2 1.6M167.5 189.8l2.8 1.1M215 176.3l-0.5 1.1M172.4 179.2l-0.4 1.1M96.1 155.5l-2 0.1M169.3 65.5l-0.1 0.6M298.2 160.7l-1 0.6M278.6 160l-2.6 1.4M311.7 103.2l1.5 1.3M146.1 84.1l1.1 2.8M225.4 117.2l-0.6 1.9M294.5 42.2l0.1 0.6M80.8 20l-0.9 0.8M333.7 118.5l2.7 1.4M311.5 76.3l0.6 0.2M290.6 151.4l-0 0M99.1 213.7l2 0.1M190.4 163.9l-0.8 1.8M209 194.8l-1.1 1.6M349.5 215.5l-0.5 2.9M322.1 206.8l2 2.2M118 217.1l-0 0M183.7 52.6l-1.7 2.4M245.8 191.1l1.8 0.8M211.3 36.8l1 1.7M177.7 77.9l1.5 1.3M282.6 130.4l1.5 2.6M330.8 143.2l0.7 2.9M203.1 139l-1.1 2.8M282.8 70.8l-0.7 1M172.4 131.8l-0.5 3M315.2 122.7l-0.9 1.8M254.7 66.7l1.1 0.4M338.9 29.6l-0.6 1.1M232.9 76.5l-0.5 0.4M156.2 99.3l0.2 1.2M235.5 99.7l-0 0M157.1 47.7l0.4 0.5M227.5 30.9l0.1 0.6M94.3 60.4l-0.3 0.5M277.1 77.3l1.5 1.4M345.6 42.3l-0.8 0.9M192.1 174l0.1 0.6M207.4 154.8l-2.1 2.2M183.3 155.7l-1.1 0.4M84.2 113.1l0.6 0M94.1 176.3l1.1 0.4M315.9 34.6l-0.2 0.6M175.9 200.1l0 0M238.8 72.1l0.5 0.3M79.1 104.3l-0.3 0.5M178.8 134.7l-1.8 0.8M185.1 100.2l-0.7 1M105.7 92.9l1.4 1.4M85 198.1l-0.6 1.9M245.6 48.6l0.3 2M205.2 117.7l0.3 3M337.6 126.8l0 0M138.9 185.2l0.7 2.9M298.1 186.6l-1 1.7M280 64.7l-0.7 1.9M85.9 23.8l1 2.8M296.3 35.5l0.3 0.5M296.6 218.2l0.6 1.9M336.5 167.3l3 0.1M345.6 153.4l-1.1 0.4M113.8 20.9l0 0M192.4 45l-0.1 2M237.3 204.3l2.9 0.8M192.8 207.1l-0.9 0.8M128 18.8l0.3 0.5M276 132.6l-1.8 0.8M115.4 43.1l-0 0M260.8 179.5l-1 1.7M322.9 49.8l0.5 0.4M342.1 63.2l1.2 0.1M168.5 146.5l1.7 2.4M150.5 26.2l0 0M113.4 105l0 0M269.2 36.4l-1 0.7M334.2 148.7l1.6 1.2M163.2 80.8l-0.6 0.1M83 69.6l-1.7 1.1M82.2 169l-0.1 3M333.2 39.9l-0 0M307.7 197.3l-2 0.2M149.9 216.1l-2.4 1.8M86.5 45.4l-0.3 0.5M176.5 39.6l2.6 1.5M78.9 182.3l-0 0M287.4 145.1l0.6 0M253.5 34l-1.2 0.3M81.4 30.5l1.8 0.8M267 157.2l1.5 1.3M132.4 219.5l2.3 1.9M151.3 61.2l0 0M323.1 118.1l-0.1 0.6M185.3 223.8l0.1 3M238.8 92.3l-0.2 2M339 200.2l-1.4 1.4M299.7 148l-2.6 1.5M283.5 150.8l1.5 1.4M159.3 170.2l-0.6 0.1M344.5 71.6l0 0M122.1 60.8l-0.4 1.1M350 110.7l0.6 0.1M102.9 67.3l0.4 3M180.9 87.7l0.1 1.2M184.9 208.9l0.6 0.2M160.3 112.9l0 0M142.1 68.9l1.1 0.4M170.3 104.6l1.1 1.7M158.5 214.1l-0.5 3M191.8 155.1l-0.4 0.4M148.2 171.9l-0.4 0.4M228.9 85.1l-0.8 0.9M105.9 115.8l-0 0M255.9 59.9l0.6 0.1M163.2 59.9l0.6 0M228.6 150l1 0.7M102.3 146.2l1 2.8M112.6 212.3l-0.6 0.1M84.4 145.5l-0 0M211.6 66.5l0.3 0.5M284.4 50.7l-0 0M88.1 55.5l-0 0M349.1 147.7l0.6 0.1M348.4 136.9l0.6 0.1M140 152.5l-0.5 0.4M175.5 64.2l-0.2 0.6M291.8 165.4l-0.6 2.9M139.7 39.7l0.2 2M141.4 26l-1.7 1.1M250.4 77.2l-0 0M270.4 128.8l3 0.5M78.4 59.6l-1 0.7M212.2 182.1l0.6 0M269 120.7l-2.3 1.9M105.8 216.3l-0.2 1.2M107.2 60.5l1.6 1.2M184 25l-0.3 0.5M202.3 146l-2.6 1.5M135.4 159l-2 0.1M346.8 91.2l0.8 0.9M195 149.3l1.2 0.1M141.9 46.7l0.6 0.2M244.4 158.6l1 1.7M168.2 220.2l-1 1.8M207.5 126.3l1.2 0.2M215.5 74l-0.1 3M251.3 179.5l-1.1 2.8M129.9 207.8l0.3 2M327.5 153.1l-0.3 2M160.5 104.9l-0.6 0.1M183.7 139.9l-0 0.6M274.4 67.9l-0.6 0.1M82 152l-2.3 1.9M197.8 157.4l-1.1 0.6M192.1 97.5l0 0M292.6 212.7l0 0M149.8 105l-0.6 0.2M299.6 196.6l0.8 0.9M322.9 200.3l2.7 1.2M129.6 57.6l-1.2 0.3M230.2 197.4l0.1 0.6M326.4 31.2l-2.8 1M260.8 99l0 0M348.7 63.7l2 0.1M306.6 27.7l2 0.2M347 29.5l0.6 0.2M208.3 77l-1.8 0.8M177.4 222.2l-0 0M350.5 208.6l0.4 0.4M131.7 34.3l1.2 1.6M316.3 214.5l-1.1 1.7M224.7 22.3l0 0M111.6 119.7l1.3 1.5M151.3 114.1l-1 0.6M313.3 67.1l-1 0.7M347.6 78.9l0.3 2M327.7 44.2l-3 0.2M133.8 105.8l1.6 1.2M91 134.4l-0.6 0.1M222.7 186.1l0.9 0.8M144.4 53.7l0 0M95.9 43.4l0 0M162.8 98.3l0.4 0.4M310.3 84.1l0 0M258.9 40.4l0.4 0.4M327.2 169.2l0.5 1.9M88.7 82l0 0M243.8 27.8l3 0.2M227.2 217.7l-2.4 1.8M203.9 175.8l0.9 0.8M81 222.4l0.1 0.6M282.9 35.3l-1.1 0.4M280.7 85.3l0.4 2M325.1 212.7l0.6 2.9M102.5 26.2l1.2 2.7M127.3 201.3l1 0.7M275 39l1.5 1.3M328.5 197.4l0.2 1.2M286.5 158.2l1.5 1.3M117.4 198.3l-1.9 2.4M79.6 137.3l-0.6 0.2M169.1 22.2l0.4 0.5M288.9 219.3l-1.6 2.6M94.4 121.4l0.6 1M144.2 220.4l-0.3 0.5M168.5 118l1.2 1.6M319 61.2l-2.1 2.2M117.1 223.7l0.7 1M308.2 179.5l0 0M252.9 188.5l1 1.7M207.3 201.4l-0.4 0.5M147.6 194.9l0.6 0.1M272 183.3l-0.1 1.2M148.3 204.6l-0.1 0.6M265.3 49.9l0.5 3M116.1 73.9l-0 0M257.2 28.3l-0.5 0.3M320.9 143.7l-0.2 1.2M340.7 56.6l0 0.6M261.1 173l1.1 0.5M328.5 127l-1.1 0.5M293.3 190.7l-0 0M270.2 163l0.6 0M136.2 64.1l0.2 0.6M103.6 157.3l0.6 1.9M249.8 88.1l-1.1 0.6M278.9 124.3l0 0M239.4 44l-0.9 0.8M306.5 222.8l-0.3 0.5M273.4 221.9l0 0M247.6 62.6l0 0M82.8 77.7l0 0M212.3 56.8l-2 0.4M218.3 49.2l-1.6 1.2M331.2 210.4l0.9 1.8M170.3 43.4l-0.1 3M205 165.5l0 0M262.8 152.4l-1.2 2.7M190 145.4l-0 2M188.1 90.9l0 0M149.1 94.3l0.5 0.3M294.3 180.4l0.5 0.4M202.5 195.9l0.8 1.8M330 51.1l-0.5 0.4M260.9 92.2l-0.6 1M258.7 214.4l-0 0M256.4 51.2l-0.9 2.9M260.9 120.1l-1.9 0.7M89.6 90.8l-2 0.1M336.8 134.6l-0.9 0.8M193 82.7l-0.6 0.1M163.7 131.4l-0 0M308.9 54.5l0.6 0.2M321.7 74.4l-0.7 2.9M131 113.3l-1 2.8M265.6 26.9l0.9 0.8M218.7 56.7l-0.1 0.6M320.1 43.7l0 0M98.8 111.2l-0 0M241.6 197.4l2.8 1.1M144.1 161.6l1.8 0.8M182.4 190.9l-0 0M192.1 53.4l0.1 0.6M152.8 42.3l-1.1 0.4M339.6 39.1l2.5 1.7M163.5 43.5l1.6 2.5M109 27.2l2.8 1M132.3 184l1.1 0.5M112.6 97.3l1.9 0.8M295.9 93l-0 0M222.2 79.9l-3 0.5M346.3 103.5l-1.3 1.5M332.3 28.8l-1.1 0.5M155.6 56.5l0.3 0.5M89.5 74l1.8 0.8M244 99.8l-0 0M236.2 140.7l-0.6 0.2M253.6 45.2l-0 0M330.7 160.3l1.1 0.4M279.4 179.1l2.9 0.6M349.7 23.2l-0.2 0.6M324.5 82.6l-0.4 2M101.3 85.9l-1.4 1.4M155 140.7l0.4 0.5M239.9 146.8l-0.6 1M196.4 32.4l-0.5 0.4M102.8 105.5l1.6 1.2M90.7 194.8l2.2 2.1M127.3 137.8l-0.6 0.2M163.8 138.6l-0 0M201.7 79.8l-1.1 0.3M119.5 118.7l-0.4 1.1M88.7 155.7l1.3 1.5M286.7 136l0.3 3M307.3 212.6l-0.5 0.3M254.7 222.6l0.2 0.6M319.2 186.8l-3 0.3M119.2 54.3l0 0M338.2 160.2l-1.8 0.8M92.7 203.3l0.5 0.4M118 129.9l0.6 1.9M85.4 126.8l0.6 0.1M345.1 195.8l0.3 0.5M268.1 71.8l-2 0.1M219.3 91.2l0 0M333.8 221.5l-2 0.1M139.9 58.5l0.1 0.6M323.8 191.1l0.7 1.9M119.3 204.4l0.8 0.9M174.6 112.4l0 0M167 124.8l3 0.4M153.6 177.1l-1.1 0.6M208.5 211.9l-0 0M148.9 133.3l-0 0M273.5 154l-2.3 2M198.2 21.7l-1.9 0.7M290.7 73.7l-0.5 0.3M328.9 135.5l-0.3 1.2M301.6 107l-0.8 0.9M261.1 76.1l-0.8 2.9M162.5 91.5l-0 0M257.5 165.5l1.3 1.5M151.4 156.4l0.4 0.4M157.4 124.4l-0.4 0.5M333.6 21.6l-0.4 0.4M307.4 18.4l-0.3 0.5M91.2 39l-0 0M316.3 22.5l0 0M86.8 164.2l0.8 1.8M238.3 18l-1.7 2.5M264.3 58.8l-0.6 1.1M181.4 95l-1.1 0.5M339.4 145.1l2.6 1.5M141.8 115.9l-0 0M235.9 85.2l0.2 0.6M147.6 141.5l0.5 1.9M81.1 85.4l-1.2 0M105.7 99.4l-2 2.3M155.3 81.4l-0 0M313.9 223.3l-2.8 1.1M254.1 133.8l-2.9 0.7M173.6 151l0 0M289 89.4l-2.7 1.3M160.3 162.9l-0 0M282.5 104.8l-1 1.7M290.4 98.1l-1.2 0.2M251.7 23.9l0 0M313.2 93.4l-0.4 3M304 101.2l-1.2 0M160 19.3l2.3 1.9M79.3 158.9l-1.7 1M278.3 56.6l0.5 1.1M294.1 112.7l2.1 2.1M141.6 137.4l0.4 0.4M290.7 105.7l-0 0.6M263 20.6l0.4 1.1M104.5 209.3l1.9 0.5M299.3 87.1l0.7 1.9M122.6 94.5l1.9 0.7M313.1 48.3l0.4 0.4M247.6 69.6l-0.5 3M94.9 97.9l2 0.3M350.5 124.6l-0.6 0.1M254.6 127.5l-1.4 1.5M124.6 125.6l0.3 1.2M200.8 97.4l0.6 0.1M175.8 56.4l0 0M157.4 133.7l0.1 2M109.4 128l-1.5 1.3M266.8 170.2l-0.2 0.6M80.3 207.4l0.5 0.4M85.6 177.5l0.5 1.1M199 217.8l-1.7 1.1M189.4 33.1l0 0M142.7 94.7l0 0M170.2 29.8l-0.4 2M272.2 175.2l-0.5 0.4M344 19.9l-0.6 0.2M170.7 207.2l-1.2 0.2M280.9 96l0 0M201.6 36.1l0 1.2M305.7 36.8l1.9 0.6M259.7 85.9l-0 0M296.8 59.3l-0.3 0.5M240.8 55.1l1.8 2.4M139 130.4l1 0.7M104.1 131.6l2.4 1.7M211.5 21.4l-1.7 1.1M134.1 20.7l0.2 2M86.4 188.7l1.7 1M220.6 137.8l-0.9 0.8M296.7 203.1l-1.1 0.5M262.9 33.1l-0 0M127.2 215.4l1.7 1M103.7 138.8l0.9 0.8M273.5 215.5l-0.5 1.9M132.3 51.2l0 0M344.1 222.9l-0.6 1M79 36.8l-0.3 0.5M256.7 157.3l-0 0M349.1 36.7l-0.5 0.3M176.5 100.8l0.4 0.4M185.1 82.4l0 0M126.6 101.7l-0 0M78.1 215.8l-0.8 1.8M92.7 50.8l2.3 1.9M114 62l-0 0M111.8 89.2l0 0M345 204l0.4 1.1M199.2 89.7l-0.6 0M167.1 154.4l0 0M160.5 196.6l2.9 0.7M262 200.7l-0.5 0.3M281.6 140.8l1.4 1.5M87.9 216.3l0.9 1.8M291.6 29.9l-1.9 0.6M85.4 97.4l-0 0M234.2 223.5l2 0.1M118.2 166.4l-2.8 1.1M273.2 49.2l-1.2 0.2M144.2 177.6l0.4 2M326.3 107.4l1.2 2.8M130.2 193.5l0.6 0.2M300.2 210l-1.9 0.7M198.5 125.2l-0 0" stroke="#a27cb9" stroke-width="8.3" opacity="0.8"/>
<path d="M97.8 128.4l0.5 1.1M177.8 29.9l0.5 1.1M216.5 25.7l1.7 1M249.3 213.2l-0.5 0.3M252.4 94.7l2 0.2M263.7 106.1l1.6 1.2M94.6 162.5l-3 0.3M302.4 76.6l-1.4 1.4M123.9 42.1l-0 0M200.6 131.2l-1.6 2.6M78.1 49.2l1.9 0.6M111.5 192.9l0.5 0.4M101.4 39.1l-0 0M171.5 72.5l-0.5 3M339.1 110.1l2.9 0.7M133.8 146.6l3 0.1M282.8 116.5l-0 0M221.8 210.3l-2.4 1.7M196.4 197.6l0.4 1.1M303.5 61.5l-0 0M231 69.2l-3 0.4M268.9 198.6l0.2 0.6M335.5 191l-1.2 0.1M143.7 33.1l1.9 0.5M338 100l-1.2 0.2M211 221.9l1.2 1.6M346.9 180.4l-0.6 1M148.6 48.8l1.2 0.3M229 208.9l-0 0M221.8 67.1l0.4 1.1M107.9 51.3l-0 0M285.3 77.7l-0 0M213.1 189.9l-0.4 1.1M185.3 122.4l0 1.2M265.8 220.4l0 0M251.6 101.4l0.6 0.2M113.4 32.6l-0 0M122.6 35.4l-0.2 0.6M121 109.8l2.9 0.8M343.5 130.7l0.5 0.3M78.3 96.6l2.8 0.9M132.9 122l0.4 0.4M161.1 66l-1.1 2.8M346.8 48.8l-0 0M267.3 65.4l0.9 2.9M98.3 72.7l0.1 0.6M280 219l0.8 0.9M212.8 96.8l0.6 0.2M110.4 202.1l0.3 1.2M203.3 186.9l-0.4 1.1M338.1 45.3l-0.3 0.5M301.9 122.8l-0.8 2.9M212.2 110.9l0 0M171.9 83.1l0.4 0.5M194.9 74.7l1.6 1.2M274.4 28.2l0 0M277.9 110.9l-1.5 1.4M206.9 88.8l0.5 0.3M138.1 204.7l0.6 2.9M191 126l-0.2 0.5M187.1 109.8l1.5 2.6M220.6 158.5l1.1 1.6M291.6 65.9l0 0M146.7 149.1l0.5 0.3M270.4 81.3l0.6 0.2M138.5 174.7l2 0.3M185.4 61.9l-0.4 0.4M92.2 30.4l2 2.2M154.4 90.4l3 0M322.9 24.2l-0.4 3M149.6 165.6l-0.7 1M339.2 214.5l0 0M183.5 69.7l-1.3 1.6M195.4 119.7l1.6 1.2M243.8 85.5l-1.1 0.6M95.7 25l0.6 0.2M141.9 103.9l0.2 0.6M188.9 199.9l-0.4 0.5M344.3 117.4l-2.7 1.4M111.6 68.9l0.7 1M192.7 138l-1.8 2.4M200 108.3l-0.9 0.8M286.5 178.7l0.1 2M107.2 44.5l-0.7 1M339.2 206.7l-0.8 0.9M123.1 180.4l-0 0M95.9 90.3l-0.6 1M153.1 186l-1.2 0.2M216.1 83.7l-0.1 2M122 210.9l0 0M301.8 70.3l-0.8 0.9M118.8 144.9l-1.2 0.1M199.1 211.1l0 0M79.7 192l-0.8 0.9M197.4 167.3l0 0M99.2 205.6l3 0.5M251 161.6l1.5 2.6M314.9 206.4l0.6 0.1M284.8 60.2l-0.3 0.5M137.1 195.6l1 0.7M79.2 119.1l0.3 0.5M134.3 72.2l-0.5 0.3M112.4 113.2l-2.9 0.8M344.2 168.1l-0 0M140.4 166.8l-0.5 0.4M272.7 147.7l-0 0M219.7 38.8l-1 2.8M220.4 102.5l-0.6 2.9M192.3 104.6l-0 0M268.6 90.5l0.1 1.2M251.2 114.6l-0 0M93.6 188.5l0 0M325.3 179.5l0.5 1.1M146.3 38.9l-1.8 2.4M294.1 52.6l0.3 0.5M192.3 215.9l2.5 1.6M217.4 117.8l-0.5 0.3M260.1 112.3l-0 0M232.9 26.1l-0 0M207.8 103l0.1 2M102.1 197.1l0 0M271.6 112.9l0.6 0.2M332.5 70.3l-1.8 2.4M273.8 20.3l0 0M123.3 195.4l0.1 0.6M210.8 30.3l0.4 0.4M254.1 147.7l-1.2 0.3M94.6 218.6l-3 0.4M243.4 219.4l0 0M238.2 186.1l-0.4 0.4M118.7 27.2l-0 0M336.4 176.1l-2.9 0.8M200.4 50.9l-0 0M117.5 173.5l-1.8 0.9M87.8 209.1l-2.8 1M164.8 204.1l-0 0M104.6 77.6l0.5 0.3M305 93.6l-1 0.6M146.4 186.3l-0.6 1M110.9 140.4l-0 0M315.9 108.6l0 0M262.4 145l0 0M279.7 171.1l-2.9 0.7M117.6 136.5l-2 0.3M236.8 36.1l2.8 1.1M213.8 207.6l-3 0M289.2 128.9l0.5 0.4M175.7 140.5l-0.1 0.6M173.9 213.3l1.5 1.3M262.7 126.2l0.4 0.4M187.4 133.6l0.1 2M124.6 83.5l1.1 1.7M89.6 102.8l0.9 0.7M293 81.2l0.3 0.5M237.1 215.7l0.5 0.3M226.1 73.7l-0.7 1M101.5 54.5l-0.4 1.1M231.4 92.5l-0.6 0.2M96 82.1l-0.6 1.9M286 27l-1 1.7M231.9 40.4l-2.1 2.2M129.8 129.9l-0.2 0.6M303.5 204.2l0.7 1.9M109.3 222.1l-1 0.6M185.2 116l0 0M286.4 170.3l2 0.1M204.5 20.8l-0 0M229.6 55.5l-0 0M196.4 65.7l-0 0M159.5 222.8l-2.9 0.6M177 20.2l-0.3 0.5M273.9 100.3l-0.1 0.6M132.2 41.9l-3 0.2M178.2 125.3l0 0M170.8 96.5l0.4 3M193.5 181.2l-0.5 0.3M90 109.2l0.6 0.1M330.5 57.5l-0.1 0.6M350.5 186.3l0.5 0.3M239.6 111.7l1.7 1M104 179.6l0 0M304.2 43.2l-0 0M196.8 188l0 0M203 66.7l-0.1 0.6M294.5 18.9l0 0M347.9 57l2.5 1.6M339.5 92.5l-0 0M264.6 132.8l-0 0M182.6 217.2l0.9 0.8M156.7 147.8l1.2 0M96.4 142.3l-0.5 3M298.4 26.2l0.4 2M238.7 64.6l-0.2 0.6M161.5 27.1l0.5 0.4M251.1 170.8l1.2 0.2M143.6 209.7l0 0M271.8 56.5l-0.2 0.6M244.8 151.6l-0 0M166.6 37.5l-1 0.7M156.5 204.7l-0.7 1.9M257.1 141.2l1.3 2.7M312.2 40.7l0 0M330.3 113l-0.6 0.1M222.5 192.9l-1.8 0.9M125.9 117.2l-0.5 0.3M246.9 39.6l-0.9 0.7M242.9 77.5l0 0M284.1 185.5l-0 0M87.5 139.7l-0.9 0.8M244.3 179.9l1.5 1.3M264.8 208.9l0.2 2M275.4 89.7l-0.5 0.3M218.9 220.3l-0.1 2M138 215.9l0.2 2M157.9 75.4l1.6 2.5M330.9 185l-2 0.4M191.6 25l2.2 2M321.7 222l-1.4 2.7M180.3 161.4l-1.3 1.6M169 163.5l-1.2 0.2M161.2 119.2l0.3 1.2M145.5 124.3l-1.2 1.6M167.5 189.8l2.8 1.1M215 176.3l-0.5 1.1M172.4 179.2l-0.4 1.1M96.1 155.5l-2 0.1M169.3 65.5l-0.1 0.6M298.2 160.7l-1 0.6M278.6 160l-2.6 1.4M311.7 103.2l1.5 1.3M146.1 84.1l1.1 2.8M225.4 117.2l-0.6 1.9M294.5 42.2l0.1 0.6M80.8 20l-0.9 0.8M333.7 118.5l2.7 1.4M311.5 76.3l0.6 0.2M290.6 151.4l-0 0M99.1 213.7l2 0.1M190.4 163.9l-0.8 1.8M209 194.8l-1.1 1.6M349.5 215.5l-0.5 2.9M322.1 206.8l2 2.2M118 217.1l-0 0M183.7 52.6l-1.7 2.4M245.8 191.1l1.8 0.8M211.3 36.8l1 1.7M177.7 77.9l1.5 1.3M282.6 130.4l1.5 2.6M330.8 143.2l0.7 2.9M203.1 139l-1.1 2.8M282.8 70.8l-0.7 1M172.4 131.8l-0.5 3M315.2 122.7l-0.9 1.8M254.7 66.7l1.1 0.4M338.9 29.6l-0.6 1.1M232.9 76.5l-0.5 0.4M156.2 99.3l0.2 1.2" stroke="#8660ae" stroke-width="5.3"/>
<path d="M235.5 99.7l-0 0M157.1 47.7l0.4 0.5M227.5 30.9l0.1 0.6M94.3 60.4l-0.3 0.5M277.1 77.3l1.5 1.4M345.6 42.3l-0.8 0.9M192.1 174l0.1 0.6M207.4 154.8l-2.1 2.2M183.3 155.7l-1.1 0.4M84.2 113.1l0.6 0M94.1 176.3l1.1 0.4M315.9 34.6l-0.2 0.6M175.9 200.1l0 0M238.8 72.1l0.5 0.3M79.1 104.3l-0.3 0.5M178.8 134.7l-1.8 0.8M185.1 100.2l-0.7 1M105.7 92.9l1.4 1.4M85 198.1l-0.6 1.9M245.6 48.6l0.3 2M205.2 117.7l0.3 3M337.6 126.8l0 0M138.9 185.2l0.7 2.9M298.1 186.6l-1 1.7M280 64.7l-0.7 1.9M85.9 23.8l1 2.8M296.3 35.5l0.3 0.5M296.6 218.2l0.6 1.9M336.5 167.3l3 0.1M345.6 153.4l-1.1 0.4M113.8 20.9l0 0M192.4 45l-0.1 2M237.3 204.3l2.9 0.8M192.8 207.1l-0.9 0.8M128 18.8l0.3 0.5M276 132.6l-1.8 0.8M115.4 43.1l-0 0M260.8 179.5l-1 1.7M322.9 49.8l0.5 0.4M342.1 63.2l1.2 0.1M168.5 146.5l1.7 2.4M150.5 26.2l0 0M113.4 105l0 0M269.2 36.4l-1 0.7M334.2 148.7l1.6 1.2M163.2 80.8l-0.6 0.1M83 69.6l-1.7 1.1M82.2 169l-0.1 3M333.2 39.9l-0 0M307.7 197.3l-2 0.2M149.9 216.1l-2.4 1.8M86.5 45.4l-0.3 0.5M176.5 39.6l2.6 1.5M78.9 182.3l-0 0M287.4 145.1l0.6 0M253.5 34l-1.2 0.3M81.4 30.5l1.8 0.8M267 157.2l1.5 1.3M132.4 219.5l2.3 1.9M151.3 61.2l0 0M323.1 118.1l-0.1 0.6M185.3 223.8l0.1 3M238.8 92.3l-0.2 2M339 200.2l-1.4 1.4M299.7 148l-2.6 1.5M283.5 150.8l1.5 1.4M159.3 170.2l-0.6 0.1M344.5 71.6l0 0M122.1 60.8l-0.4 1.1M350 110.7l0.6 0.1M102.9 67.3l0.4 3M180.9 87.7l0.1 1.2M184.9 208.9l0.6 0.2M160.3 112.9l0 0M142.1 68.9l1.1 0.4M170.3 104.6l1.1 1.7M158.5 214.1l-0.5 3M191.8 155.1l-0.4 0.4M148.2 171.9l-0.4 0.4M228.9 85.1l-0.8 0.9M105.9 115.8l-0 0M255.9 59.9l0.6 0.1M163.2 59.9l0.6 0M228.6 150l1 0.7M102.3 146.2l1 2.8M112.6 212.3l-0.6 0.1M84.4 145.5l-0 0M211.6 66.5l0.3 0.5M284.4 50.7l-0 0M88.1 55.5l-0 0M349.1 147.7l0.6 0.1M348.4 136.9l0.6 0.1M140 152.5l-0.5 0.4M175.5 64.2l-0.2 0.6M291.8 165.4l-0.6 2.9M139.7 39.7l0.2 2M141.4 26l-1.7 1.1M250.4 77.2l-0 0M270.4 128.8l3 0.5M78.4 59.6l-1 0.7M212.2 182.1l0.6 0M269 120.7l-2.3 1.9M105.8 216.3l-0.2 1.2M107.2 60.5l1.6 1.2M184 25l-0.3 0.5M202.3 146l-2.6 1.5M135.4 159l-2 0.1M346.8 91.2l0.8 0.9M195 149.3l1.2 0.1M141.9 46.7l0.6 0.2M244.4 158.6l1 1.7M168.2 220.2l-1 1.8M207.5 126.3l1.2 0.2M215.5 74l-0.1 3M251.3 179.5l-1.1 2.8M129.9 207.8l0.3 2M327.5 153.1l-0.3 2M160.5 104.9l-0.6 0.1M183.7 139.9l-0 0.6M274.4 67.9l-0.6 0.1M82 152l-2.3 1.9M197.8 157.4l-1.1 0.6M192.1 97.5l0 0M292.6 212.7l0 0M149.8 105l-0.6 0.2M299.6 196.6l0.8 0.9M322.9 200.3l2.7 1.2M129.6 57.6l-1.2 0.3M230.2 197.4l0.1 0.6M326.4 31.2l-2.8 1M260.8 99l0 0M348.7 63.7l2 0.1M306.6 27.7l2 0.2M347 29.5l0.6 0.2M208.3 77l-1.8 0.8M177.4 222.2l-0 0M350.5 208.6l0.4 0.4M131.7 34.3l1.2 1.6M316.3 214.5l-1.1 1.7M224.7 22.3l0 0M111.6 119.7l1.3 1.5M151.3 114.1l-1 0.6M313.3 67.1l-1 0.7M347.6 78.9l0.3 2M327.7 44.2l-3 0.2M133.8 105.8l1.6 1.2M91 134.4l-0.6 0.1M222.7 186.1l0.9 0.8M144.4 53.7l0 0M95.9 43.4l0 0M162.8 98.3l0.4 0.4M310.3 84.1l0 0M258.9 40.4l0.4 0.4M327.2 169.2l0.5 1.9M88.7 82l0 0M243.8 27.8l3 0.2M227.2 217.7l-2.4 1.8M203.9 175.8l0.9 0.8M81 222.4l0.1 0.6M282.9 35.3l-1.1 0.4M280.7 85.3l0.4 2M325.1 212.7l0.6 2.9M102.5 26.2l1.2 2.7M127.3 201.3l1 0.7M275 39l1.5 1.3M328.5 197.4l0.2 1.2M286.5 158.2l1.5 1.3M117.4 198.3l-1.9 2.4M79.6 137.3l-0.6 0.2M169.1 22.2l0.4 0.5M288.9 219.3l-1.6 2.6M94.4 121.4l0.6 1M144.2 220.4l-0.3 0.5M168.5 118l1.2 1.6M319 61.2l-2.1 2.2M117.1 223.7l0.7 1M308.2 179.5l0 0M252.9 188.5l1 1.7M207.3 201.4l-0.4 0.5M147.6 194.9l0.6 0.1M272 183.3l-0.1 1.2M148.3 204.6l-0.1 0.6M265.3 49.9l0.5 3M116.1 73.9l-0 0M257.2 28.3l-0.5 0.3M320.9 143.7l-0.2 1.2M340.7 56.6l0 0.6M261.1 173l1.1 0.5M328.5 127l-1.1 0.5M293.3 190.7l-0 0M270.2 163l0.6 0M136.2 64.1l0.2 0.6M103.6 157.3l0.6 1.9M249.8 88.1l-1.1 0.6M278.9 124.3l0 0M239.4 44l-0.9 0.8M306.5 222.8l-0.3 0.5M273.4 221.9l0 0M247.6 62.6l0 0M82.8 77.7l0 0M212.3 56.8l-2 0.4M218.3 49.2l-1.6 1.2M331.2 210.4l0.9 1.8M170.3 43.4l-0.1 3M205 165.5l0 0M262.8 152.4l-1.2 2.7M190 145.4l-0 2M188.1 90.9l0 0M149.1 94.3l0.5 0.3M294.3 180.4l0.5 0.4M202.5 195.9l0.8 1.8M330 51.1l-0.5 0.4M260.9 92.2l-0.6 1M258.7 214.4l-0 0M256.4 51.2l-0.9 2.9M260.9 120.1l-1.9 0.7M89.6 90.8l-2 0.1M336.8 134.6l-0.9 0.8M193 82.7l-0.6 0.1M163.7 131.4l-0 0M308.9 54.5l0.6 0.2M321.7 74.4l-0.7 2.9M131 113.3l-1 2.8M265.6 26.9l0.9 0.8M218.7 56.7l-0.1 0.6M320.1 43.7l0 0M98.8 111.2l-0 0M241.6 197.4l2.8 1.1M144.1 161.6l1.8 0.8M182.4 190.9l-0 0M192.1 53.4l0.1 0.6M152.8 42.3l-1.1 0.4M339.6 39.1l2.5 1.7M163.5 43.5l1.6 2.5M109 27.2l2.8 1M132.3 184l1.1 0.5M112.6 97.3l1.9 0.8M295.9 93l-0 0M222.2 79.9l-3 0.5M346.3 103.5l-1.3 1.5M332.3 28.8l-1.1 0.5M155.6 56.5l0.3 0.5M89.5 74l1.8 0.8M244 99.8l-0 0M236.2 140.7l-0.6 0.2M253.6 45.2l-0 0M330.7 160.3l1.1 0.4M279.4 179.1l2.9 0.6M349.7 23.2l-0.2 0.6M324.5 82.6l-0.4 2M101.3 85.9l-1.4 1.4M155 140.7l0.4 0.5M239.9 146.8l-0.6 1" stroke="#7750a4" stroke-width="5.8"/>
<path d="M196.4 32.4l-0.5 0.4M102.8 105.5l1.6 1.2M90.7 194.8l2.2 2.1M127.3 137.8l-0.6 0.2M163.8 138.6l-0 0M201.7 79.8l-1.1 0.3M119.5 118.7l-0.4 1.1M88.7 155.7l1.3 1.5M286.7 136l0.3 3M307.3 212.6l-0.5 0.3M254.7 222.6l0.2 0.6M319.2 186.8l-3 0.3M119.2 54.3l0 0M338.2 160.2l-1.8 0.8M92.7 203.3l0.5 0.4M118 129.9l0.6 1.9M85.4 126.8l0.6 0.1M345.1 195.8l0.3 0.5M268.1 71.8l-2 0.1M219.3 91.2l0 0M333.8 221.5l-2 0.1M139.9 58.5l0.1 0.6M323.8 191.1l0.7 1.9M119.3 204.4l0.8 0.9M174.6 112.4l0 0M167 124.8l3 0.4M153.6 177.1l-1.1 0.6M208.5 211.9l-0 0M148.9 133.3l-0 0M273.5 154l-2.3 2M198.2 21.7l-1.9 0.7M290.7 73.7l-0.5 0.3M328.9 135.5l-0.3 1.2M301.6 107l-0.8 0.9M261.1 76.1l-0.8 2.9M162.5 91.5l-0 0M257.5 165.5l1.3 1.5M151.4 156.4l0.4 0.4M157.4 124.4l-0.4 0.5M333.6 21.6l-0.4 0.4M307.4 18.4l-0.3 0.5M91.2 39l-0 0M316.3 22.5l0 0M86.8 164.2l0.8 1.8M238.3 18l-1.7 2.5M264.3 58.8l-0.6 1.1M181.4 95l-1.1 0.5M339.4 145.1l2.6 1.5M141.8 115.9l-0 0M235.9 85.2l0.2 0.6M147.6 141.5l0.5 1.9M81.1 85.4l-1.2 0M105.7 99.4l-2 2.3M155.3 81.4l-0 0M313.9 223.3l-2.8 1.1M254.1 133.8l-2.9 0.7M173.6 151l0 0M289 89.4l-2.7 1.3M160.3 162.9l-0 0M282.5 104.8l-1 1.7M290.4 98.1l-1.2 0.2M251.7 23.9l0 0M313.2 93.4l-0.4 3M304 101.2l-1.2 0M160 19.3l2.3 1.9M79.3 158.9l-1.7 1M278.3 56.6l0.5 1.1M294.1 112.7l2.1 2.1M141.6 137.4l0.4 0.4M290.7 105.7l-0 0.6M263 20.6l0.4 1.1M104.5 209.3l1.9 0.5M299.3 87.1l0.7 1.9M122.6 94.5l1.9 0.7M313.1 48.3l0.4 0.4M247.6 69.6l-0.5 3M94.9 97.9l2 0.3M350.5 124.6l-0.6 0.1M254.6 127.5l-1.4 1.5M124.6 125.6l0.3 1.2M200.8 97.4l0.6 0.1M175.8 56.4l0 0M157.4 133.7l0.1 2M109.4 128l-1.5 1.3M266.8 170.2l-0.2 0.6M80.3 207.4l0.5 0.4M85.6 177.5l0.5 1.1M199 217.8l-1.7 1.1M189.4 33.1l0 0M142.7 94.7l0 0M170.2 29.8l-0.4 2M272.2 175.2l-0.5 0.4M344 19.9l-0.6 0.2M170.7 207.2l-1.2 0.2M280.9 96l0 0M201.6 36.1l0 1.2M305.7 36.8l1.9 0.6M259.7 85.9l-0 0M296.8 59.3l-0.3 0.5M240.8 55.1l1.8 2.4M139 130.4l1 0.7M104.1 131.6l2.4 1.7M211.5 21.4l-1.7 1.1M134.1 20.7l0.2 2M86.4 188.7l1.7 1M220.6 137.8l-0.9 0.8M296.7 203.1l-1.1 0.5M262.9 33.1l-0 0M127.2 215.4l1.7 1M103.7 138.8l0.9 0.8M273.5 215.5l-0.5 1.9M132.3 51.2l0 0M344.1 222.9l-0.6 1M79 36.8l-0.3 0.5M256.7 157.3l-0 0M349.1 36.7l-0.5 0.3M176.5 100.8l0.4 0.4M185.1 82.4l0 0M126.6 101.7l-0 0M78.1 215.8l-0.8 1.8M92.7 50.8l2.3 1.9M114 62l-0 0M111.8 89.2l0 0M345 204l0.4 1.1M199.2 89.7l-0.6 0M167.1 154.4l0 0M160.5 196.6l2.9 0.7M262 200.7l-0.5 0.3M281.6 140.8l1.4 1.5M87.9 216.3l0.9 1.8M291.6 29.9l-1.9 0.6M85.4 97.4l-0 0M234.2 223.5l2 0.1M118.2 166.4l-2.8 1.1M273.2 49.2l-1.2 0.2M144.2 177.6l0.4 2M326.3 107.4l1.2 2.8M130.2 193.5l0.6 0.2M300.2 210l-1.9 0.7M198.5 125.2l-0 0" stroke="#694398" stroke-width="5.0"/>
</g>
<path d="M136.2 43.5 C140.6 45.9 154.1 53.9 162.3 58 C170.5 62.1 175.8 63.3 185.5 68.1 C195.2 72.9 209.7 81.4 220.3 87 C230.9 92.5 244.4 99 249.3 101.4" fill="none" stroke="#d8d2e4" stroke-width="1.5" opacity="0.5" filter="url(#fsoft2)"/>
<path d="M150.7 87 C151.9 90.8 156 103.4 158 110.1 C159.9 116.9 161.6 124.6 162.3 127.5" fill="none" stroke="#d8d2e4" stroke-width="1.5" opacity="0.5" filter="url(#fsoft2)"/>
<path d="M173.9 162.3 C175.4 166.2 180.7 177.8 182.6 185.5 C184.5 193.2 185 204.8 185.5 208.7" fill="none" stroke="#d8d2e4" stroke-width="1.5" opacity="0.5" filter="url(#fsoft2)"/>
<path d="M87 66.7 C89.4 67.6 96.6 71.7 101.4 72.5 C106.3 73.2 113.5 71.3 115.9 71" fill="none" stroke="#d8d2e4" stroke-width="1.5" opacity="0.5" filter="url(#fsoft2)"/>
<path d="M260.9 150.7 C263.8 152.7 272.9 158.5 278.3 162.3 C283.6 166.2 290.3 172 292.8 173.9" fill="none" stroke="#d8d2e4" stroke-width="1.5" opacity="0.5" filter="url(#fsoft2)"/>
</g>
<text x="100.6" y="37.6" font-size="6.4" fill="#e8122d" text-anchor="start" font-weight="bold" >H &amp;E</text>
<text x="336.5" y="218" font-size="5.0" fill="#222" text-anchor="middle" font-weight="bold" >50μm</text>
<g clip-path="url(#c2)">
<rect x="358" y="21" width="266.7" height="200" fill="url(#g2)"/>

<g transform="rotate(27 491.4 121)"><path d="M423.9 35 L541.3 -24.8 L544.8 14.1 L552.6 45.3 L559.3 69.1 L567.1 100.3 L571.6 130.6 L575 153.2 L574.1 172.7 L578.6 197.5 L473.1 251.2 L468.6 226.4 L466.3 200.5 L461.8 175.7 L450.7 146.1 L445.1 121.8 L442.8 95.9 L436.1 64.1Z" fill="#000" filter="url(#fCD138)"/></g>
<path d="M493.3 69.3 C494.9 71.7 500.5 79 503 83.8 C505.4 88.6 507 95.9 507.8 98.3" fill="none" stroke="#ead9c6" stroke-width="1.8" stroke-linecap="round" opacity="0.85"/><path d="M471.6 124.9 C473.6 125.3 480 125.7 483.6 127.3 C487.3 128.9 491.7 133.3 493.3 134.6" fill="none" stroke="#ead9c6" stroke-width="1.8" stroke-linecap="round" opacity="0.85"/><path d="M493.3 156.3 C495.7 157.9 502.6 163.3 507.8 166 C513 168.6 519.1 171.6 524.7 172 C530.3 172.4 538.8 169 541.6 168.4" fill="none" stroke="#ead9c6" stroke-width="1.8" stroke-linecap="round" opacity="0.85"/><path d="M527.1 50 C527.9 52 530.7 58.4 532 62.1 C533.2 65.7 534 70.1 534.4 71.7" fill="none" stroke="#ead9c6" stroke-width="1.8" stroke-linecap="round" opacity="0.85"/><path d="M541.6 40.3 C544 41.9 552.1 47.2 556.1 50 C560.1 52.8 564.2 56 565.8 57.2" fill="none" stroke="#ead9c6" stroke-width="1.8" stroke-linecap="round" opacity="0.85"/><path d="M461.9 156.3 C463.5 157.5 467.9 161.9 471.6 163.5 C475.2 165.2 481.6 165.6 483.6 166" fill="none" stroke="#ead9c6" stroke-width="1.8" stroke-linecap="round" opacity="0.85"/><path d="M532 124.9 C534 126.1 540.8 130.5 544 132.1 C547.3 133.7 550.1 134.2 551.3 134.6" fill="none" stroke="#ead9c6" stroke-width="1.8" stroke-linecap="round" opacity="0.85"/>
</g>
<text x="373.2" y="36.7" font-size="6.9" fill="#e8122d" text-anchor="start" font-weight="bold" >CD138</text>
<text x="612.3" y="217.9" font-size="5.0" fill="#111" text-anchor="middle" font-weight="bold" >50μm</text>
<path d="M602.3 219.7 H624.7" stroke="#555" stroke-width="0.8"/>
<g clip-path="url(#c3)">
<rect x="637.3" y="21" width="267" height="200" fill="url(#g3b)"/>

<g transform="rotate(27 770.8 121)"><path d="M742.7 14.9 L848.1 -38.8 L882.7 29 L858.6 56.2 L846.9 86.5 L838.5 112.5 L822.5 145 L801.2 177.5 L784.1 202.5 L782.2 236 L694 280.9 L655.1 204.6 L675.9 176.3 L689.8 150.3 L702.5 122.1 L712 92.9 L723.7 73.4 L736.5 50.6Z" fill="#000" filter="url(#fLam)"/></g>
<path d="M793.9 13.8 L912.2 13.8 L912.2 89.8 L878.4 103.1 L854.3 124.8 L835 144.1 L806 165.9 L772.2 185.2 L745.6 199.7 L728.7 228.6 L629.8 228.6 L629.8 142.9 L661.1 127.2 L685.3 110.3 L709.4 91 L731.2 69.3 L750.5 57.2 L772.2 42.7Z" fill="url(#g3)"/>
</g>
<text x="649.4" y="39" font-size="6.6" fill="#e8122d" text-anchor="start" font-weight="bold" >Lambda</text>
<text x="891.9" y="217.9" font-size="5.0" fill="#111" text-anchor="middle" font-weight="bold" >50μm</text>
<path d="M881.9 219.7 H904.3" stroke="#555" stroke-width="0.8"/>
<g clip-path="url(#c4)">
<rect x="81" y="233.3" width="267" height="199.7" fill="url(#g4)"/>
<ellipse cx="253.7" cy="390" rx="3.4" ry="3.8" fill="#a892a8" opacity="0.6" filter="url(#fsoft2)"/>
<g transform="rotate(27 214.5 333.1)"><path d="M145.5 417.3 L150.2 394.5 L150 372.9 L157.4 355.6 L174.6 336 L186.4 321.9 L185.1 303.5 L183.9 285.1 L178.9 267.3 L194 257 L216 247.1 L232.2 236.1 L247.2 223.1 L267.7 220.8 L280.7 225 L285.1 239 L275.6 257.4 L266 275.9 L258.5 293.2 L243.6 311.7 L230.7 329.1 L213.6 348.7 L192.1 370.4 L173.9 387.9 L156.8 407.4Z" fill="#000" filter="url(#fCD38)"/></g>

</g>
<rect x="81" y="233.3" width="267" height="199.7" fill="none" stroke="#b39c7c" stroke-width="1"/>
<text x="91.3" y="252.8" font-size="6.5" fill="#e8122d" text-anchor="start" font-weight="bold" >CD38</text>
<g clip-path="url(#c5)">
<rect x="358" y="233.3" width="266.7" height="199.7" fill="url(#g5)"/>

<g transform="rotate(27 491.4 333.1)"><path d="M384.2 432.6 L389.4 405.6 L406.6 386 L425.9 365.3 L448.4 345.7 L456.8 319.7 L471.8 301.2 L488.9 276.2 L504.9 249.1 L526.4 227.3 L548.9 207.7 L574.7 183.7 L601 235.4 L580.7 270.1 L566.9 296.2 L555.1 315.7 L535.9 341.8 L512.3 370 L492 394 L467.3 420.1 L441.6 449.5 L420.2 471.2 L407.3 477.8Z" fill="#000" filter="url(#fBcl)"/></g>

</g>
<text x="370.1" y="249.3" font-size="6.5" fill="#e8122d" text-anchor="start" font-weight="bold" >Bcl-2</text>
<text x="612.3" y="429.9" font-size="5.0" fill="#111" text-anchor="middle" font-weight="bold" >50μm</text>
<path d="M602.3 431.7 H624.7" stroke="#555" stroke-width="0.8"/>
<g clip-path="url(#c6)">
<rect x="637.4" y="233.3" width="266.6" height="199.7" fill="url(#g6)"/>

<g transform="rotate(27 770.7 333.1)"><path d="M753 221.7 L821.4 186.8 L832.1 223.7 L829.7 250.9 L828.6 280.8 L823.6 309.3 L813.5 340.5 L813.7 366.4 L803.7 410.6 L793.5 441.8 L735.4 471.4 L718.3 441 L723.3 406 L734.7 377.4 L741 351.4 L738.2 320.3 L745.7 284 L752 258Z" fill="#000" filter="url(#fPD1)"/></g>

</g>
<text x="646.1" y="245.8" font-size="6.5" fill="#e8122d" text-anchor="start" font-weight="bold" >PD-1</text>
<text x="891.6" y="429.9" font-size="5.0" fill="#111" text-anchor="middle" font-weight="bold" >50μm</text>
<path d="M881.6 431.7 H904" stroke="#555" stroke-width="0.8"/>
<text x="21.2" y="36" font-size="33.5" fill="#000" text-anchor="start" font-weight="bold" >A</text>
<text x="909.6" y="35.9" font-size="33.3" fill="#000" text-anchor="start" font-weight="bold" >B</text>
<text x="21.7" y="493.7" font-size="33.3" fill="#000" text-anchor="start" font-weight="bold" >C</text>
<text x="1001.4" y="442" font-size="33.4" fill="#000" text-anchor="start" font-weight="bold" >D</text>
<rect x="936.7" y="23.2" width="546" height="282.2" fill="#e3f1f3" stroke="#ccd3d6" stroke-width="1"/>
<path d="M978 265.8 H1441" stroke="#d2d3d8" stroke-width="1"/>
<path d="M978 244.1 H1441" stroke="#d2d3d8" stroke-width="1"/>
<path d="M978 222.4 H1441" stroke="#d2d3d8" stroke-width="1"/>
<path d="M978 200.6 H1441" stroke="#d2d3d8" stroke-width="1"/>
<path d="M978 178.9 H1441" stroke="#d2d3d8" stroke-width="1"/>
<path d="M978 157.2 H1441" stroke="#d2d3d8" stroke-width="1"/>
<path d="M978 135.4 H1441" stroke="#d2d3d8" stroke-width="1"/>
<path d="M978 113.7 H1441" stroke="#d2d3d8" stroke-width="1"/>
<path d="M978 92 H1441" stroke="#d2d3d8" stroke-width="1"/>
<path d="M978 265.8 v-2.5" stroke="#d2d3d8" stroke-width="0.8"/>
<text x="978" y="280.2" font-size="8.8" fill="#404040" text-anchor="middle" font-weight="normal" >0</text>
<path d="M992.5 265.8 v-2.5" stroke="#d2d3d8" stroke-width="0.8"/>
<text x="992.5" y="280.2" font-size="8.8" fill="#404040" text-anchor="middle" font-weight="normal" >1</text>
<path d="M1006.9 265.8 v-2.5" stroke="#d2d3d8" stroke-width="0.8"/>
<text x="1006.9" y="280.2" font-size="8.8" fill="#404040" text-anchor="middle" font-weight="normal" >2</text>
<path d="M1021.4 265.8 v-2.5" stroke="#d2d3d8" stroke-width="0.8"/>
<text x="1021.4" y="280.2" font-size="8.8" fill="#404040" text-anchor="middle" font-weight="normal" >3</text>
<path d="M1035.9 265.8 v-2.5" stroke="#d2d3d8" stroke-width="0.8"/>
<text x="1035.9" y="280.2" font-size="8.8" fill="#404040" text-anchor="middle" font-weight="normal" >4</text>
<path d="M1050.3 265.8 v-2.5" stroke="#d2d3d8" stroke-width="0.8"/>
<text x="1050.3" y="280.2" font-size="8.8" fill="#404040" text-anchor="middle" font-weight="normal" >5</text>
<path d="M1064.8 265.8 v-2.5" stroke="#d2d3d8" stroke-width="0.8"/>
<text x="1064.8" y="280.2" font-size="8.8" fill="#404040" text-anchor="middle" font-weight="normal" >6</text>
<path d="M1079.3 265.8 v-2.5" stroke="#d2d3d8" stroke-width="0.8"/>
<text x="1079.3" y="280.2" font-size="8.8" fill="#404040" text-anchor="middle" font-weight="normal" >7</text>
<path d="M1093.8 265.8 v-2.5" stroke="#d2d3d8" stroke-width="0.8"/>
<text x="1093.8" y="280.2" font-size="8.8" fill="#404040" text-anchor="middle" font-weight="normal" >8</text>
<path d="M1108.2 265.8 v-2.5" stroke="#d2d3d8" stroke-width="0.8"/>
<text x="1108.2" y="280.2" font-size="8.8" fill="#404040" text-anchor="middle" font-weight="normal" >9</text>
<path d="M1122.7 265.8 v-2.5" stroke="#d2d3d8" stroke-width="0.8"/>
<text x="1122.7" y="280.2" font-size="8.8" fill="#404040" text-anchor="middle" font-weight="normal" >10</text>
<path d="M1137.2 265.8 v-2.5" stroke="#d2d3d8" stroke-width="0.8"/>
<text x="1137.2" y="280.2" font-size="8.8" fill="#404040" text-anchor="middle" font-weight="normal" >11</text>
<path d="M1151.6 265.8 v-2.5" stroke="#d2d3d8" stroke-width="0.8"/>
<text x="1151.6" y="280.2" font-size="8.8" fill="#404040" text-anchor="middle" font-weight="normal" >12</text>
<path d="M1166.1 265.8 v-2.5" stroke="#d2d3d8" stroke-width="0.8"/>
<text x="1166.1" y="280.2" font-size="8.8" fill="#404040" text-anchor="middle" font-weight="normal" >13</text>
<path d="M1180.6 265.8 v-2.5" stroke="#d2d3d8" stroke-width="0.8"/>
<text x="1180.6" y="280.2" font-size="8.8" fill="#404040" text-anchor="middle" font-weight="normal" >14</text>
<path d="M1195 265.8 v-2.5" stroke="#d2d3d8" stroke-width="0.8"/>
<text x="1195" y="280.2" font-size="8.8" fill="#404040" text-anchor="middle" font-weight="normal" >15</text>
<path d="M1209.5 265.8 v-2.5" stroke="#d2d3d8" stroke-width="0.8"/>
<text x="1209.5" y="280.2" font-size="8.8" fill="#404040" text-anchor="middle" font-weight="normal" >16</text>
<path d="M1224 265.8 v-2.5" stroke="#d2d3d8" stroke-width="0.8"/>
<text x="1224" y="280.2" font-size="8.8" fill="#404040" text-anchor="middle" font-weight="normal" >17</text>
<path d="M1238.4 265.8 v-2.5" stroke="#d2d3d8" stroke-width="0.8"/>
<text x="1238.4" y="280.2" font-size="8.8" fill="#404040" text-anchor="middle" font-weight="normal" >18</text>
<path d="M1252.9 265.8 v-2.5" stroke="#d2d3d8" stroke-width="0.8"/>
<text x="1252.9" y="280.2" font-size="8.8" fill="#404040" text-anchor="middle" font-weight="normal" >19</text>
<path d="M1267.4 265.8 v-2.5" stroke="#d2d3d8" stroke-width="0.8"/>
<text x="1267.4" y="280.2" font-size="8.8" fill="#404040" text-anchor="middle" font-weight="normal" >20</text>
<path d="M1281.8 265.8 v-2.5" stroke="#d2d3d8" stroke-width="0.8"/>
<text x="1281.8" y="280.2" font-size="8.8" fill="#404040" text-anchor="middle" font-weight="normal" >21</text>
<path d="M1296.3 265.8 v-2.5" stroke="#d2d3d8" stroke-width="0.8"/>
<text x="1296.3" y="280.2" font-size="8.8" fill="#404040" text-anchor="middle" font-weight="normal" >22</text>
<path d="M1310.8 265.8 v-2.5" stroke="#d2d3d8" stroke-width="0.8"/>
<text x="1310.8" y="280.2" font-size="8.8" fill="#404040" text-anchor="middle" font-weight="normal" >23</text>
<path d="M1325.2 265.8 v-2.5" stroke="#d2d3d8" stroke-width="0.8"/>
<text x="1325.2" y="280.2" font-size="8.8" fill="#404040" text-anchor="middle" font-weight="normal" >24</text>
<path d="M1339.7 265.8 v-2.5" stroke="#d2d3d8" stroke-width="0.8"/>
<text x="1339.7" y="280.2" font-size="8.8" fill="#404040" text-anchor="middle" font-weight="normal" >25</text>
<path d="M1354.2 265.8 v-2.5" stroke="#d2d3d8" stroke-width="0.8"/>
<text x="1354.2" y="280.2" font-size="8.8" fill="#404040" text-anchor="middle" font-weight="normal" >26</text>
<path d="M1368.7 265.8 v-2.5" stroke="#d2d3d8" stroke-width="0.8"/>
<text x="1368.7" y="280.2" font-size="8.8" fill="#404040" text-anchor="middle" font-weight="normal" >27</text>
<path d="M1383.1 265.8 v-2.5" stroke="#d2d3d8" stroke-width="0.8"/>
<text x="1383.1" y="280.2" font-size="8.8" fill="#404040" text-anchor="middle" font-weight="normal" >28</text>
<path d="M1397.6 265.8 v-2.5" stroke="#d2d3d8" stroke-width="0.8"/>
<text x="1397.6" y="280.2" font-size="8.8" fill="#404040" text-anchor="middle" font-weight="normal" >29</text>
<path d="M1412.1 265.8 v-2.5" stroke="#d2d3d8" stroke-width="0.8"/>
<text x="1412.1" y="280.2" font-size="8.8" fill="#404040" text-anchor="middle" font-weight="normal" >30</text>
<path d="M1426.5 265.8 v-2.5" stroke="#d2d3d8" stroke-width="0.8"/>
<text x="1426.5" y="280.2" font-size="8.8" fill="#404040" text-anchor="middle" font-weight="normal" >31</text>
<path d="M1441 265.8 v-2.5" stroke="#d2d3d8" stroke-width="0.8"/>
<text x="1441" y="280.2" font-size="8.8" fill="#404040" text-anchor="middle" font-weight="normal" >32</text>
<path d="M978 92 V265.8" stroke="#4f97dc" stroke-width="1.2"/>
<path d="M1441 92 V265.8" stroke="#4f97dc" stroke-width="1.2"/>
<text x="971.3" y="269" font-size="8.8" fill="#404040" text-anchor="end" font-weight="normal" >35.5</text>
<path d="M978 244.1 h3" stroke="#4f97dc" stroke-width="1"/>
<text x="971.3" y="247.3" font-size="8.8" fill="#404040" text-anchor="end" font-weight="normal" >36</text>
<path d="M978 222.4 h3" stroke="#4f97dc" stroke-width="1"/>
<text x="971.3" y="225.6" font-size="8.8" fill="#404040" text-anchor="end" font-weight="normal" >36.5</text>
<path d="M978 200.6 h3" stroke="#4f97dc" stroke-width="1"/>
<text x="971.3" y="203.8" font-size="8.8" fill="#404040" text-anchor="end" font-weight="normal" >37</text>
<path d="M978 178.9 h3" stroke="#4f97dc" stroke-width="1"/>
<text x="971.3" y="182.1" font-size="8.8" fill="#404040" text-anchor="end" font-weight="normal" >37.5</text>
<path d="M978 157.2 h3" stroke="#4f97dc" stroke-width="1"/>
<text x="971.3" y="160.4" font-size="8.8" fill="#404040" text-anchor="end" font-weight="normal" >38</text>
<path d="M978 135.4 h3" stroke="#4f97dc" stroke-width="1"/>
<text x="971.3" y="138.6" font-size="8.8" fill="#404040" text-anchor="end" font-weight="normal" >38.5</text>
<path d="M978 113.7 h3" stroke="#4f97dc" stroke-width="1"/>
<text x="971.3" y="116.9" font-size="8.8" fill="#404040" text-anchor="end" font-weight="normal" >39</text>
<path d="M978 92 h3" stroke="#4f97dc" stroke-width="1"/>
<text x="971.3" y="95.2" font-size="8.8" fill="#404040" text-anchor="end" font-weight="normal" >39.5</text>
<text x="1447.3" y="269" font-size="8.8" fill="#404040" text-anchor="start" font-weight="normal" >0</text>
<path d="M1441 236.8 h-3" stroke="#4f97dc" stroke-width="1"/>
<text x="1447.3" y="240" font-size="8.8" fill="#404040" text-anchor="start" font-weight="normal" >50</text>
<path d="M1441 207.9 h-3" stroke="#4f97dc" stroke-width="1"/>
<text x="1447.3" y="211.1" font-size="8.8" fill="#404040" text-anchor="start" font-weight="normal" >100</text>
<path d="M1441 178.9 h-3" stroke="#4f97dc" stroke-width="1"/>
<text x="1447.3" y="182.1" font-size="8.8" fill="#404040" text-anchor="start" font-weight="normal" >150</text>
<path d="M1441 149.9 h-3" stroke="#4f97dc" stroke-width="1"/>
<text x="1447.3" y="153.1" font-size="8.8" fill="#404040" text-anchor="start" font-weight="normal" >200</text>
<path d="M1441 121 h-3" stroke="#4f97dc" stroke-width="1"/>
<text x="1447.3" y="124.2" font-size="8.8" fill="#404040" text-anchor="start" font-weight="normal" >250</text>
<path d="M1441 92 h-3" stroke="#4f97dc" stroke-width="1"/>
<text x="1447.3" y="95.2" font-size="8.8" fill="#404040" text-anchor="start" font-weight="normal" >300</text>
<text x="1209" y="295.3" font-size="9.8" fill="#404040" text-anchor="middle" font-weight="normal" >Days ater CART</text>
<text transform="translate(948.8 174.7) rotate(-90)" font-size="9.8" fill="#404040" text-anchor="middle">Body Temperature (℃)</text>
<text transform="translate(1476.6 174.7) rotate(-90)" font-size="9.8" fill="#404040" text-anchor="middle">Ferritin (μg/l)</text>
<path d="M1079.3 205 L1122.7 200.6 L1180.6 109.4 L1209.5 174.6 L1238.4 178.9 L1281.8 135.4 L1310.8 174.6 L1397.6 170.2 L1441 183.2" fill="none" stroke="#fb1f26" stroke-width="2.0" stroke-linejoin="round" stroke-linecap="round"/>
<rect x="1076.2" y="201.9" width="6.2" height="6.2" fill="#fff" stroke="#fb1f26" stroke-width="1.6"/>
<rect x="1119.6" y="197.5" width="6.2" height="6.2" fill="#fff" stroke="#fb1f26" stroke-width="1.6"/>
<rect x="1177.5" y="106.3" width="6.2" height="6.2" fill="#fff" stroke="#fb1f26" stroke-width="1.6"/>
<rect x="1206.4" y="171.5" width="6.2" height="6.2" fill="#fff" stroke="#fb1f26" stroke-width="1.6"/>
<rect x="1235.3" y="175.8" width="6.2" height="6.2" fill="#fff" stroke="#fb1f26" stroke-width="1.6"/>
<rect x="1278.7" y="132.3" width="6.2" height="6.2" fill="#fff" stroke="#fb1f26" stroke-width="1.6"/>
<rect x="1307.7" y="171.5" width="6.2" height="6.2" fill="#fff" stroke="#fb1f26" stroke-width="1.6"/>
<rect x="1394.5" y="167.1" width="6.2" height="6.2" fill="#fff" stroke="#fb1f26" stroke-width="1.6"/>
<rect x="1437.9" y="180.1" width="6.2" height="6.2" fill="#fff" stroke="#fb1f26" stroke-width="1.6"/>
<path d="M1079.3 246.7 L1180.6 223.5 L1209.5 216 L1238.4 205.3 L1281.8 181.8 L1310.8 149.9 L1397.6 129.7 L1441 114" fill="none" stroke="#fbad14" stroke-width="2.0" stroke-linejoin="round" stroke-linecap="round"/>
<circle cx="1079.3" cy="246.7" r="3.3" fill="#fff" stroke="#fbad14" stroke-width="1.6"/>
<circle cx="1180.6" cy="223.5" r="3.3" fill="#fff" stroke="#fbad14" stroke-width="1.6"/>
<circle cx="1209.5" cy="216" r="3.3" fill="#fff" stroke="#fbad14" stroke-width="1.6"/>
<circle cx="1238.4" cy="205.3" r="3.3" fill="#fff" stroke="#fbad14" stroke-width="1.6"/>
<circle cx="1281.8" cy="181.8" r="3.3" fill="#fff" stroke="#fbad14" stroke-width="1.6"/>
<circle cx="1310.8" cy="149.9" r="3.3" fill="#fff" stroke="#fbad14" stroke-width="1.6"/>
<circle cx="1397.6" cy="129.7" r="3.3" fill="#fff" stroke="#fbad14" stroke-width="1.6"/>
<circle cx="1441" cy="114" r="3.3" fill="#fff" stroke="#fbad14" stroke-width="1.6"/>
<path d="M1111 63.3 L1131.5 63.3" stroke="#fb1f26" stroke-width="2.0" fill="none"/>
<rect x="1118.3" y="60.4" width="5.8" height="5.8" fill="#fff" stroke="#fb1f26" stroke-width="1.6"/>
<text x="1134" y="66.4" font-size="8.8" fill="#404040" text-anchor="start" font-weight="normal" textLength="93" lengthAdjust="spacingAndGlyphs">Body Temperature (℃)</text>
<path d="M1230 63.3 L1250.6 63.3" stroke="#fbad14" stroke-width="2.0" fill="none"/>
<circle cx="1240.3" cy="63.3" r="3.1" fill="#fff" stroke="#fbad14" stroke-width="1.6"/>
<text x="1252.7" y="66.4" font-size="8.8" fill="#404040" text-anchor="start" font-weight="normal" textLength="54.5" lengthAdjust="spacingAndGlyphs">Ferritin (μg/l)</text>
<rect x="1500.3" y="23.2" width="505.5" height="284.8" fill="#e3f1f3" stroke="#ccd3d6" stroke-width="1"/>
<path d="M1537.6 273.3 H1966" stroke="#d2d3d8" stroke-width="1"/>
<path d="M1537.6 240 H1966" stroke="#d2d3d8" stroke-width="1"/>
<path d="M1537.6 206.8 H1966" stroke="#d2d3d8" stroke-width="1"/>
<path d="M1537.6 173.5 H1966" stroke="#d2d3d8" stroke-width="1"/>
<path d="M1537.6 140.2 H1966" stroke="#d2d3d8" stroke-width="1"/>
<path d="M1537.6 107 H1966" stroke="#d2d3d8" stroke-width="1"/>
<path d="M1537.6 73.7 H1966" stroke="#d2d3d8" stroke-width="1"/>
<path d="M1537.6 273.3 v-2.5" stroke="#d2d3d8" stroke-width="0.8"/>
<text x="1537.6" y="287.5" font-size="8.8" fill="#404040" text-anchor="middle" font-weight="normal" >0</text>
<path d="M1551 273.3 v-2.5" stroke="#d2d3d8" stroke-width="0.8"/>
<text x="1551" y="287.5" font-size="8.8" fill="#404040" text-anchor="middle" font-weight="normal" >1</text>
<path d="M1564.4 273.3 v-2.5" stroke="#d2d3d8" stroke-width="0.8"/>
<text x="1564.4" y="287.5" font-size="8.8" fill="#404040" text-anchor="middle" font-weight="normal" >2</text>
<path d="M1577.8 273.3 v-2.5" stroke="#d2d3d8" stroke-width="0.8"/>
<text x="1577.8" y="287.5" font-size="8.8" fill="#404040" text-anchor="middle" font-weight="normal" >3</text>
<path d="M1591.1 273.3 v-2.5" stroke="#d2d3d8" stroke-width="0.8"/>
<text x="1591.1" y="287.5" font-size="8.8" fill="#404040" text-anchor="middle" font-weight="normal" >4</text>
<path d="M1604.5 273.3 v-2.5" stroke="#d2d3d8" stroke-width="0.8"/>
<text x="1604.5" y="287.5" font-size="8.8" fill="#404040" text-anchor="middle" font-weight="normal" >5</text>
<path d="M1617.9 273.3 v-2.5" stroke="#d2d3d8" stroke-width="0.8"/>
<text x="1617.9" y="287.5" font-size="8.8" fill="#404040" text-anchor="middle" font-weight="normal" >6</text>
<path d="M1631.3 273.3 v-2.5" stroke="#d2d3d8" stroke-width="0.8"/>
<text x="1631.3" y="287.5" font-size="8.8" fill="#404040" text-anchor="middle" font-weight="normal" >7</text>
<path d="M1644.7 273.3 v-2.5" stroke="#d2d3d8" stroke-width="0.8"/>
<text x="1644.7" y="287.5" font-size="8.8" fill="#404040" text-anchor="middle" font-weight="normal" >8</text>
<path d="M1658.1 273.3 v-2.5" stroke="#d2d3d8" stroke-width="0.8"/>
<text x="1658.1" y="287.5" font-size="8.8" fill="#404040" text-anchor="middle" font-weight="normal" >9</text>
<path d="M1671.5 273.3 v-2.5" stroke="#d2d3d8" stroke-width="0.8"/>
<text x="1671.5" y="287.5" font-size="8.8" fill="#404040" text-anchor="middle" font-weight="normal" >10</text>
<path d="M1684.9 273.3 v-2.5" stroke="#d2d3d8" stroke-width="0.8"/>
<text x="1684.9" y="287.5" font-size="8.8" fill="#404040" text-anchor="middle" font-weight="normal" >11</text>
<path d="M1698.2 273.3 v-2.5" stroke="#d2d3d8" stroke-width="0.8"/>
<text x="1698.2" y="287.5" font-size="8.8" fill="#404040" text-anchor="middle" font-weight="normal" >12</text>
<path d="M1711.6 273.3 v-2.5" stroke="#d2d3d8" stroke-width="0.8"/>
<text x="1711.6" y="287.5" font-size="8.8" fill="#404040" text-anchor="middle" font-weight="normal" >13</text>
<path d="M1725 273.3 v-2.5" stroke="#d2d3d8" stroke-width="0.8"/>
<text x="1725" y="287.5" font-size="8.8" fill="#404040" text-anchor="middle" font-weight="normal" >14</text>
<path d="M1738.4 273.3 v-2.5" stroke="#d2d3d8" stroke-width="0.8"/>
<text x="1738.4" y="287.5" font-size="8.8" fill="#404040" text-anchor="middle" font-weight="normal" >15</text>
<path d="M1751.8 273.3 v-2.5" stroke="#d2d3d8" stroke-width="0.8"/>
<text x="1751.8" y="287.5" font-size="8.8" fill="#404040" text-anchor="middle" font-weight="normal" >16</text>
<path d="M1765.2 273.3 v-2.5" stroke="#d2d3d8" stroke-width="0.8"/>
<text x="1765.2" y="287.5" font-size="8.8" fill="#404040" text-anchor="middle" font-weight="normal" >17</text>
<path d="M1778.6 273.3 v-2.5" stroke="#d2d3d8" stroke-width="0.8"/>
<text x="1778.6" y="287.5" font-size="8.8" fill="#404040" text-anchor="middle" font-weight="normal" >18</text>
<path d="M1792 273.3 v-2.5" stroke="#d2d3d8" stroke-width="0.8"/>
<text x="1792" y="287.5" font-size="8.8" fill="#404040" text-anchor="middle" font-weight="normal" >19</text>
<path d="M1805.3 273.3 v-2.5" stroke="#d2d3d8" stroke-width="0.8"/>
<text x="1805.3" y="287.5" font-size="8.8" fill="#404040" text-anchor="middle" font-weight="normal" >20</text>
<path d="M1818.7 273.3 v-2.5" stroke="#d2d3d8" stroke-width="0.8"/>
<text x="1818.7" y="287.5" font-size="8.8" fill="#404040" text-anchor="middle" font-weight="normal" >21</text>
<path d="M1832.1 273.3 v-2.5" stroke="#d2d3d8" stroke-width="0.8"/>
<text x="1832.1" y="287.5" font-size="8.8" fill="#404040" text-anchor="middle" font-weight="normal" >22</text>
<path d="M1845.5 273.3 v-2.5" stroke="#d2d3d8" stroke-width="0.8"/>
<text x="1845.5" y="287.5" font-size="8.8" fill="#404040" text-anchor="middle" font-weight="normal" >23</text>
<path d="M1858.9 273.3 v-2.5" stroke="#d2d3d8" stroke-width="0.8"/>
<text x="1858.9" y="287.5" font-size="8.8" fill="#404040" text-anchor="middle" font-weight="normal" >24</text>
<path d="M1872.3 273.3 v-2.5" stroke="#d2d3d8" stroke-width="0.8"/>
<text x="1872.3" y="287.5" font-size="8.8" fill="#404040" text-anchor="middle" font-weight="normal" >25</text>
<path d="M1885.7 273.3 v-2.5" stroke="#d2d3d8" stroke-width="0.8"/>
<text x="1885.7" y="287.5" font-size="8.8" fill="#404040" text-anchor="middle" font-weight="normal" >26</text>
<path d="M1899.1 273.3 v-2.5" stroke="#d2d3d8" stroke-width="0.8"/>
<text x="1899.1" y="287.5" font-size="8.8" fill="#404040" text-anchor="middle" font-weight="normal" >27</text>
<path d="M1912.5 273.3 v-2.5" stroke="#d2d3d8" stroke-width="0.8"/>
<text x="1912.5" y="287.5" font-size="8.8" fill="#404040" text-anchor="middle" font-weight="normal" >28</text>
<path d="M1925.8 273.3 v-2.5" stroke="#d2d3d8" stroke-width="0.8"/>
<text x="1925.8" y="287.5" font-size="8.8" fill="#404040" text-anchor="middle" font-weight="normal" >29</text>
<path d="M1939.2 273.3 v-2.5" stroke="#d2d3d8" stroke-width="0.8"/>
<text x="1939.2" y="287.5" font-size="8.8" fill="#404040" text-anchor="middle" font-weight="normal" >30</text>
<path d="M1952.6 273.3 v-2.5" stroke="#d2d3d8" stroke-width="0.8"/>
<text x="1952.6" y="287.5" font-size="8.8" fill="#404040" text-anchor="middle" font-weight="normal" >31</text>
<path d="M1966 273.3 v-2.5" stroke="#d2d3d8" stroke-width="0.8"/>
<text x="1966" y="287.5" font-size="8.8" fill="#404040" text-anchor="middle" font-weight="normal" >32</text>
<path d="M1537.6 73.7 V273.3" stroke="#4f97dc" stroke-width="1.2"/>
<path d="M1966 73.7 V273.3" stroke="#4f97dc" stroke-width="1.2"/>
<text x="1531.3" y="276.5" font-size="8.8" fill="#404040" text-anchor="end" font-weight="normal" >0</text>
<path d="M1537.6 240 h3" stroke="#4f97dc" stroke-width="1"/>
<text x="1531.3" y="243.2" font-size="8.8" fill="#404040" text-anchor="end" font-weight="normal" >50</text>
<path d="M1537.6 206.8 h3" stroke="#4f97dc" stroke-width="1"/>
<text x="1531.3" y="210" font-size="8.8" fill="#404040" text-anchor="end" font-weight="normal" >100</text>
<path d="M1537.6 173.5 h3" stroke="#4f97dc" stroke-width="1"/>
<text x="1531.3" y="176.7" font-size="8.8" fill="#404040" text-anchor="end" font-weight="normal" >150</text>
<path d="M1537.6 140.2 h3" stroke="#4f97dc" stroke-width="1"/>
<text x="1531.3" y="143.4" font-size="8.8" fill="#404040" text-anchor="end" font-weight="normal" >200</text>
<path d="M1537.6 107 h3" stroke="#4f97dc" stroke-width="1"/>
<text x="1531.3" y="110.2" font-size="8.8" fill="#404040" text-anchor="end" font-weight="normal" >250</text>
<path d="M1537.6 73.7 h3" stroke="#4f97dc" stroke-width="1"/>
<text x="1531.3" y="76.9" font-size="8.8" fill="#404040" text-anchor="end" font-weight="normal" >300</text>
<text x="1972.3" y="276.5" font-size="8.8" fill="#404040" text-anchor="start" font-weight="normal" >0</text>
<path d="M1966 233.4 h-3" stroke="#4f97dc" stroke-width="1"/>
<text x="1972.3" y="236.6" font-size="8.8" fill="#404040" text-anchor="start" font-weight="normal" >5</text>
<path d="M1966 193.5 h-3" stroke="#4f97dc" stroke-width="1"/>
<text x="1972.3" y="196.7" font-size="8.8" fill="#404040" text-anchor="start" font-weight="normal" >10</text>
<path d="M1966 153.5 h-3" stroke="#4f97dc" stroke-width="1"/>
<text x="1972.3" y="156.7" font-size="8.8" fill="#404040" text-anchor="start" font-weight="normal" >15</text>
<path d="M1966 113.6 h-3" stroke="#4f97dc" stroke-width="1"/>
<text x="1972.3" y="116.8" font-size="8.8" fill="#404040" text-anchor="start" font-weight="normal" >20</text>
<path d="M1966 73.7 h-3" stroke="#4f97dc" stroke-width="1"/>
<text x="1972.3" y="76.9" font-size="8.8" fill="#404040" text-anchor="start" font-weight="normal" >25</text>
<text x="1752" y="302.7" font-size="9.8" fill="#404040" text-anchor="middle" font-weight="normal" >Days ater CART</text>
<text transform="translate(1514 174.7) rotate(-90)" font-size="9.8" fill="#404040" text-anchor="middle">pg/ml</text>
<text transform="translate(1997.8 172.4) rotate(-90)" font-size="9.9" fill="#404040" text-anchor="middle">CAR-T cells (% of all CD3+ T cells)</text>
<path d="M1631.3 268.5 L1671.5 267.7 L1725 146.4 L1751.8 98.5 L1778.6 110.4 L1818.7 128 L1845.5 173.5 L1925.8 244.6 L1966 257.3" fill="none" stroke="#5a32b4" stroke-width="2.0" stroke-linejoin="round" stroke-linecap="butt" stroke-dasharray="5 2.6"/>
<path d="M1631.3 265.3 L1634.4 271.3 L1628.2 271.3 Z" fill="#e3f1f3" stroke="#5a32b4" stroke-width="1.5" stroke-linejoin="miter"/>
<path d="M1671.5 264.5 L1674.6 270.5 L1668.4 270.5 Z" fill="#e3f1f3" stroke="#5a32b4" stroke-width="1.5" stroke-linejoin="miter"/>
<path d="M1725 143.1 L1728.1 149.1 L1721.9 149.1 Z" fill="#e3f1f3" stroke="#5a32b4" stroke-width="1.5" stroke-linejoin="miter"/>
<path d="M1751.8 95.2 L1754.9 101.2 L1748.7 101.2 Z" fill="#e3f1f3" stroke="#5a32b4" stroke-width="1.5" stroke-linejoin="miter"/>
<path d="M1778.6 107.2 L1781.7 113.2 L1775.5 113.2 Z" fill="#e3f1f3" stroke="#5a32b4" stroke-width="1.5" stroke-linejoin="miter"/>
<path d="M1818.7 124.7 L1821.8 130.8 L1815.6 130.8 Z" fill="#e3f1f3" stroke="#5a32b4" stroke-width="1.5" stroke-linejoin="miter"/>
<path d="M1845.5 170.2 L1848.6 176.3 L1842.4 176.3 Z" fill="#e3f1f3" stroke="#5a32b4" stroke-width="1.5" stroke-linejoin="miter"/>
<path d="M1925.8 241.3 L1928.9 247.3 L1922.7 247.3 Z" fill="#e3f1f3" stroke="#5a32b4" stroke-width="1.5" stroke-linejoin="miter"/>
<path d="M1966 254.1 L1969.1 260.1 L1962.9 260.1 Z" fill="#e3f1f3" stroke="#5a32b4" stroke-width="1.5" stroke-linejoin="miter"/>
<path d="M1631.3 268 L1671.5 266.6 L1725 92.3 L1751.8 170.2 L1778.6 207.4 L1818.7 197.5 L1845.5 268 L1925.8 268.6 L1966 266.6" fill="none" stroke="#5a32b4" stroke-width="2.0" stroke-linejoin="round" stroke-linecap="round"/>
<path d="M1631.3 264.5 L1634.6 270.9 L1628 270.9 Z" fill="#fff" stroke="#5a32b4" stroke-width="1.6" stroke-linejoin="miter"/>
<path d="M1671.5 263.2 L1674.8 269.6 L1668.2 269.6 Z" fill="#fff" stroke="#5a32b4" stroke-width="1.6" stroke-linejoin="miter"/>
<path d="M1725 88.9 L1728.3 95.3 L1721.7 95.3 Z" fill="#fff" stroke="#5a32b4" stroke-width="1.6" stroke-linejoin="miter"/>
<path d="M1751.8 166.7 L1755.1 173.1 L1748.5 173.1 Z" fill="#fff" stroke="#5a32b4" stroke-width="1.6" stroke-linejoin="miter"/>
<path d="M1778.6 204 L1781.9 210.4 L1775.3 210.4 Z" fill="#fff" stroke="#5a32b4" stroke-width="1.6" stroke-linejoin="miter"/>
<path d="M1818.7 194 L1822 200.4 L1815.4 200.4 Z" fill="#fff" stroke="#5a32b4" stroke-width="1.6" stroke-linejoin="miter"/>
<path d="M1845.5 264.5 L1848.8 270.9 L1842.2 270.9 Z" fill="#fff" stroke="#5a32b4" stroke-width="1.6" stroke-linejoin="miter"/>
<path d="M1925.8 265.2 L1929.1 271.6 L1922.5 271.6 Z" fill="#fff" stroke="#5a32b4" stroke-width="1.6" stroke-linejoin="miter"/>
<path d="M1966 263.2 L1969.3 269.6 L1962.7 269.6 Z" fill="#fff" stroke="#5a32b4" stroke-width="1.6" stroke-linejoin="miter"/>
<path d="M1631.3 267.3 L1671.5 268.6 L1725 140.6 L1751.8 192.5 L1778.6 185.5 L1818.7 145.9 L1845.5 265.6 L1925.8 267.6 L1966 270.3" fill="none" stroke="#fb1f26" stroke-width="2.0" stroke-linejoin="round" stroke-linecap="round"/>
<rect x="1628.2" y="264.2" width="6.2" height="6.2" fill="#fff" stroke="#fb1f26" stroke-width="1.6"/>
<rect x="1668.4" y="265.5" width="6.2" height="6.2" fill="#fff" stroke="#fb1f26" stroke-width="1.6"/>
<rect x="1721.9" y="137.5" width="6.2" height="6.2" fill="#fff" stroke="#fb1f26" stroke-width="1.6"/>
<rect x="1748.7" y="189.4" width="6.2" height="6.2" fill="#fff" stroke="#fb1f26" stroke-width="1.6"/>
<rect x="1775.5" y="182.4" width="6.2" height="6.2" fill="#fff" stroke="#fb1f26" stroke-width="1.6"/>
<rect x="1815.6" y="142.8" width="6.2" height="6.2" fill="#fff" stroke="#fb1f26" stroke-width="1.6"/>
<rect x="1842.4" y="262.5" width="6.2" height="6.2" fill="#fff" stroke="#fb1f26" stroke-width="1.6"/>
<rect x="1922.7" y="264.5" width="6.2" height="6.2" fill="#fff" stroke="#fb1f26" stroke-width="1.6"/>
<rect x="1962.9" y="267.2" width="6.2" height="6.2" fill="#fff" stroke="#fb1f26" stroke-width="1.6"/>
<path d="M1631.3 272.3 L1671.5 271.5 L1725 262.7 L1751.8 269.3 L1778.6 238.7 L1818.7 224.7 L1845.5 268 L1925.8 271.3 L1966 272.3" fill="none" stroke="#fbad14" stroke-width="2.0" stroke-linejoin="round" stroke-linecap="round"/>
<circle cx="1631.3" cy="272.3" r="3.3" fill="#fff" stroke="#fbad14" stroke-width="1.6"/>
<circle cx="1671.5" cy="271.5" r="3.3" fill="#fff" stroke="#fbad14" stroke-width="1.6"/>
<circle cx="1725" cy="262.7" r="3.3" fill="#fff" stroke="#fbad14" stroke-width="1.6"/>
<circle cx="1751.8" cy="269.3" r="3.3" fill="#fff" stroke="#fbad14" stroke-width="1.6"/>
<circle cx="1778.6" cy="238.7" r="3.3" fill="#fff" stroke="#fbad14" stroke-width="1.6"/>
<circle cx="1818.7" cy="224.7" r="3.3" fill="#fff" stroke="#fbad14" stroke-width="1.6"/>
<circle cx="1845.5" cy="268" r="3.3" fill="#fff" stroke="#fbad14" stroke-width="1.6"/>
<circle cx="1925.8" cy="271.3" r="3.3" fill="#fff" stroke="#fbad14" stroke-width="1.6"/>
<circle cx="1966" cy="272.3" r="3.3" fill="#fff" stroke="#fbad14" stroke-width="1.6"/>
<path d="M1606.8 39.6 L1627.4 39.6" stroke="#5a32b4" stroke-width="2.0" fill="none"/>
<path d="M1617.1 36.5 L1620.1 42.3 L1614.1 42.3 Z" fill="#fff" stroke="#5a32b4" stroke-width="1.6" stroke-linejoin="miter"/>
<text x="1629.7" y="42.7" font-size="8.8" fill="#404040" text-anchor="start" font-weight="normal" textLength="42.1" lengthAdjust="spacingAndGlyphs">IL6(pg/ml)</text>
<path d="M1674.1 39.6 L1695.1 39.6" stroke="#fb1f26" stroke-width="2.0" fill="none"/>
<rect x="1681.7" y="36.7" width="5.8" height="5.8" fill="#fff" stroke="#fb1f26" stroke-width="1.6"/>
<text x="1697.6" y="42.7" font-size="8.8" fill="#404040" text-anchor="start" font-weight="normal" textLength="47.6" lengthAdjust="spacingAndGlyphs">IL10(pg/ml)</text>
<path d="M1748.2 39.6 L1768.1 39.6" stroke="#fbad14" stroke-width="2.0" fill="none"/>
<circle cx="1758.2" cy="39.6" r="3.1" fill="#fff" stroke="#fbad14" stroke-width="1.6"/>
<text x="1770.6" y="42.7" font-size="8.8" fill="#404040" text-anchor="start" font-weight="normal" textLength="53.3" lengthAdjust="spacingAndGlyphs">IFN-γ(pg/ml)</text>
<path d="M1825.7 39.6 L1846.7 39.6" stroke="#5a32b4" stroke-width="2.0" fill="none" stroke-dasharray="5 2.6"/>
<path d="M1836.2 36.6 L1839.1 42.2 L1833.3 42.2 Z" fill="#fff" stroke="#5a32b4" stroke-width="1.5" stroke-linejoin="miter"/>
<text x="1849.1" y="42.7" font-size="8.8" fill="#404040" text-anchor="start" font-weight="normal" textLength="35.8" lengthAdjust="spacingAndGlyphs">CART(%)</text>
<rect x="1045.3" y="434" width="786.7" height="391.4" fill="#e3f1f3" stroke="#ccd3d6" stroke-width="1"/>
<path d="M1105.8 772.8 H1774.3" stroke="#c9cace" stroke-width="1.2"/>
<path d="M1105.8 532.2 V772.8" stroke="#4f97dc" stroke-width="1.3"/>
<path d="M1774.3 532.2 V772.8" stroke="#4f97dc" stroke-width="1.3"/>
<text x="1095.8" y="776.2" font-size="13.1" fill="#404040" text-anchor="end" font-weight="normal" >0</text>
<path d="M1105.8 738.4 h4.5" stroke="#4f97dc" stroke-width="1"/>
<text x="1095.8" y="741.8" font-size="13.1" fill="#404040" text-anchor="end" font-weight="normal" >5</text>
<path d="M1105.8 704.1 h4.5" stroke="#4f97dc" stroke-width="1"/>
<text x="1095.8" y="707.5" font-size="13.1" fill="#404040" text-anchor="end" font-weight="normal" >10</text>
<path d="M1105.8 669.7 h4.5" stroke="#4f97dc" stroke-width="1"/>
<text x="1095.8" y="673.1" font-size="13.1" fill="#404040" text-anchor="end" font-weight="normal" >15</text>
<path d="M1105.8 635.3 h4.5" stroke="#4f97dc" stroke-width="1"/>
<text x="1095.8" y="638.7" font-size="13.1" fill="#404040" text-anchor="end" font-weight="normal" >20</text>
<path d="M1105.8 600.9 h4.5" stroke="#4f97dc" stroke-width="1"/>
<text x="1095.8" y="604.3" font-size="13.1" fill="#404040" text-anchor="end" font-weight="normal" >25</text>
<path d="M1105.8 566.6 h4.5" stroke="#4f97dc" stroke-width="1"/>
<text x="1095.8" y="570" font-size="13.1" fill="#404040" text-anchor="end" font-weight="normal" >30</text>
<path d="M1105.8 532.2 h4.5" stroke="#4f97dc" stroke-width="1"/>
<text x="1095.8" y="535.6" font-size="13.1" fill="#404040" text-anchor="end" font-weight="normal" >35</text>
<text x="1782.2" y="776.2" font-size="13.1" fill="#404040" text-anchor="start" font-weight="normal" >0</text>
<path d="M1774.3 746.1 h4.5" stroke="#4f97dc" stroke-width="1"/>
<text x="1782.2" y="749.5" font-size="13.1" fill="#404040" text-anchor="start" font-weight="normal" >5</text>
<path d="M1774.3 719.3 h4.5" stroke="#4f97dc" stroke-width="1"/>
<text x="1782.2" y="722.7" font-size="13.1" fill="#404040" text-anchor="start" font-weight="normal" >10</text>
<path d="M1774.3 692.6 h4.5" stroke="#4f97dc" stroke-width="1"/>
<text x="1782.2" y="696" font-size="13.1" fill="#404040" text-anchor="start" font-weight="normal" >15</text>
<path d="M1774.3 665.9 h4.5" stroke="#4f97dc" stroke-width="1"/>
<text x="1782.2" y="669.3" font-size="13.1" fill="#404040" text-anchor="start" font-weight="normal" >20</text>
<path d="M1774.3 639.1 h4.5" stroke="#4f97dc" stroke-width="1"/>
<text x="1782.2" y="642.5" font-size="13.1" fill="#404040" text-anchor="start" font-weight="normal" >25</text>
<path d="M1774.3 612.4 h4.5" stroke="#4f97dc" stroke-width="1"/>
<text x="1782.2" y="615.8" font-size="13.1" fill="#404040" text-anchor="start" font-weight="normal" >30</text>
<path d="M1774.3 585.7 h4.5" stroke="#4f97dc" stroke-width="1"/>
<text x="1782.2" y="589.1" font-size="13.1" fill="#404040" text-anchor="start" font-weight="normal" >35</text>
<path d="M1774.3 558.9 h4.5" stroke="#4f97dc" stroke-width="1"/>
<text x="1782.2" y="562.3" font-size="13.1" fill="#404040" text-anchor="start" font-weight="normal" >40</text>
<path d="M1774.3 532.2 h4.5" stroke="#4f97dc" stroke-width="1"/>
<text x="1782.2" y="535.6" font-size="13.1" fill="#404040" text-anchor="start" font-weight="normal" >45</text>
<text x="1105.8" y="794.5" font-size="13.5" fill="#404040" text-anchor="middle" font-weight="normal" >2018-8</text>
<text x="1161.5" y="794.5" font-size="13.5" fill="#404040" text-anchor="middle" font-weight="normal" >2018-9</text>
<text x="1217.2" y="794.5" font-size="13.5" fill="#404040" text-anchor="middle" font-weight="normal" >2018-10</text>
<text x="1272.9" y="794.5" font-size="13.5" fill="#404040" text-anchor="middle" font-weight="normal" >2019-4</text>
<text x="1328.6" y="794.5" font-size="13.5" fill="#404040" text-anchor="middle" font-weight="normal" >2019-5</text>
<text x="1384.3" y="794.5" font-size="13.5" fill="#404040" text-anchor="middle" font-weight="normal" >2019-6</text>
<text x="1440" y="794.5" font-size="13.5" fill="#404040" text-anchor="middle" font-weight="normal" >2019-7</text>
<text x="1495.8" y="794.5" font-size="13.5" fill="#404040" text-anchor="middle" font-weight="normal" >2019-9</text>
<text x="1551.5" y="794.5" font-size="13.5" fill="#404040" text-anchor="middle" font-weight="normal" >2019-12</text>
<text x="1607.2" y="794.5" font-size="13.5" fill="#404040" text-anchor="middle" font-weight="normal" >2020-2</text>
<text x="1662.9" y="794.5" font-size="13.5" fill="#404040" text-anchor="middle" font-weight="normal" >2020-4</text>
<text x="1718.6" y="794.5" font-size="13.5" fill="#404040" text-anchor="middle" font-weight="normal" >2020-6</text>
<text x="1774.3" y="794.5" font-size="13.5" fill="#404040" text-anchor="middle" font-weight="normal" >2020-9</text>
<text transform="translate(1066.5 626.4) rotate(-90)" font-size="15.2" fill="#404040" text-anchor="middle">M-Spike (g/L)</text>
<text transform="translate(1822.5 630.5) rotate(-90)" font-size="15.2" fill="#404040" text-anchor="middle">IgG/A (g/L)</text>
<path d="M1105.8 559.7 L1161.5 750.1 L1217.2 772.8 L1272.9 770.7 L1328.6 733.6 L1384.3 770.1 L1440 772.8 L1495.8 772.8 L1551.5 750.8 L1607.2 730.9 L1662.9 768.7 L1718.6 772.8 L1774.3 772.8" fill="none" stroke="#5a32b4" stroke-width="3.2" stroke-linejoin="round" stroke-linecap="round"/>
<path d="M1105.8 553.8 L1111.4 564.7 L1100.2 564.7 Z" fill="#fff" stroke="#5a32b4" stroke-width="2.4" stroke-linejoin="miter"/>
<path d="M1161.5 744.2 L1167.1 755.1 L1155.9 755.1 Z" fill="#fff" stroke="#5a32b4" stroke-width="2.4" stroke-linejoin="miter"/>
<path d="M1217.2 766.9 L1222.8 777.8 L1211.6 777.8 Z" fill="#fff" stroke="#5a32b4" stroke-width="2.4" stroke-linejoin="miter"/>
<path d="M1272.9 764.9 L1278.5 775.7 L1267.3 775.7 Z" fill="#fff" stroke="#5a32b4" stroke-width="2.4" stroke-linejoin="miter"/>
<path d="M1328.6 727.7 L1334.2 738.6 L1323 738.6 Z" fill="#fff" stroke="#5a32b4" stroke-width="2.4" stroke-linejoin="miter"/>
<path d="M1384.3 764.2 L1389.9 775 L1378.7 775 Z" fill="#fff" stroke="#5a32b4" stroke-width="2.4" stroke-linejoin="miter"/>
<path d="M1440 766.9 L1445.6 777.8 L1434.5 777.8 Z" fill="#fff" stroke="#5a32b4" stroke-width="2.4" stroke-linejoin="miter"/>
<path d="M1495.8 766.9 L1501.4 777.8 L1490.2 777.8 Z" fill="#fff" stroke="#5a32b4" stroke-width="2.4" stroke-linejoin="miter"/>
<path d="M1551.5 744.9 L1557.1 755.8 L1545.9 755.8 Z" fill="#fff" stroke="#5a32b4" stroke-width="2.4" stroke-linejoin="miter"/>
<path d="M1607.2 725 L1612.8 735.9 L1601.6 735.9 Z" fill="#fff" stroke="#5a32b4" stroke-width="2.4" stroke-linejoin="miter"/>
<path d="M1662.9 762.8 L1668.5 773.7 L1657.3 773.7 Z" fill="#fff" stroke="#5a32b4" stroke-width="2.4" stroke-linejoin="miter"/>
<path d="M1718.6 766.9 L1724.2 777.8 L1713 777.8 Z" fill="#fff" stroke="#5a32b4" stroke-width="2.4" stroke-linejoin="miter"/>
<path d="M1774.3 766.9 L1779.9 777.8 L1768.7 777.8 Z" fill="#fff" stroke="#5a32b4" stroke-width="2.4" stroke-linejoin="miter"/>
<path d="M1105.8 565.3 L1161.5 715.1 L1217.2 725.2 L1272.9 700.6 L1328.6 711.3 L1384.3 735.9 L1440 738 L1495.8 726.3 L1551.5 706.5 L1607.2 714.5 L1662.9 745 L1718.6 748.7 L1774.3 746.1" fill="none" stroke="#fb1f26" stroke-width="3.2" stroke-linejoin="round" stroke-linecap="round"/>
<rect x="1100.9" y="560.4" width="9.8" height="9.8" fill="#fff" stroke="#fb1f26" stroke-width="2.4"/>
<rect x="1156.6" y="710.2" width="9.8" height="9.8" fill="#fff" stroke="#fb1f26" stroke-width="2.4"/>
<rect x="1212.3" y="720.3" width="9.8" height="9.8" fill="#fff" stroke="#fb1f26" stroke-width="2.4"/>
<rect x="1268" y="695.7" width="9.8" height="9.8" fill="#fff" stroke="#fb1f26" stroke-width="2.4"/>
<rect x="1323.7" y="706.4" width="9.8" height="9.8" fill="#fff" stroke="#fb1f26" stroke-width="2.4"/>
<rect x="1379.4" y="731" width="9.8" height="9.8" fill="#fff" stroke="#fb1f26" stroke-width="2.4"/>
<rect x="1435.1" y="733.1" width="9.8" height="9.8" fill="#fff" stroke="#fb1f26" stroke-width="2.4"/>
<rect x="1490.9" y="721.4" width="9.8" height="9.8" fill="#fff" stroke="#fb1f26" stroke-width="2.4"/>
<rect x="1546.6" y="701.6" width="9.8" height="9.8" fill="#fff" stroke="#fb1f26" stroke-width="2.4"/>
<rect x="1602.3" y="709.6" width="9.8" height="9.8" fill="#fff" stroke="#fb1f26" stroke-width="2.4"/>
<rect x="1658" y="740.1" width="9.8" height="9.8" fill="#fff" stroke="#fb1f26" stroke-width="2.4"/>
<rect x="1713.7" y="743.8" width="9.8" height="9.8" fill="#fff" stroke="#fb1f26" stroke-width="2.4"/>
<rect x="1769.4" y="741.2" width="9.8" height="9.8" fill="#fff" stroke="#fb1f26" stroke-width="2.4"/>
<path d="M1105.8 704.4 L1161.5 766.9 L1217.2 770.7 L1272.9 770.7 L1328.6 770.7 L1384.3 771.2 L1440 772 L1495.8 772.3 L1551.5 772.8 L1607.2 772.8 L1662.9 772.8 L1718.6 772.3 L1774.3 772.8" fill="none" stroke="#fbad14" stroke-width="3.2" stroke-linejoin="round" stroke-linecap="round"/>
<circle cx="1105.8" cy="704.4" r="4.9" fill="#fff" stroke="#fbad14" stroke-width="2.4"/>
<circle cx="1161.5" cy="766.9" r="4.9" fill="#fff" stroke="#fbad14" stroke-width="2.4"/>
<circle cx="1217.2" cy="770.7" r="4.9" fill="#fff" stroke="#fbad14" stroke-width="2.4"/>
<circle cx="1272.9" cy="770.7" r="4.9" fill="#fff" stroke="#fbad14" stroke-width="2.4"/>
<circle cx="1328.6" cy="770.7" r="4.9" fill="#fff" stroke="#fbad14" stroke-width="2.4"/>
<circle cx="1384.3" cy="771.2" r="4.9" fill="#fff" stroke="#fbad14" stroke-width="2.4"/>
<circle cx="1440" cy="772" r="4.9" fill="#fff" stroke="#fbad14" stroke-width="2.4"/>
<circle cx="1495.8" cy="772.3" r="4.9" fill="#fff" stroke="#fbad14" stroke-width="2.4"/>
<circle cx="1551.5" cy="772.8" r="4.9" fill="#fff" stroke="#fbad14" stroke-width="2.4"/>
<circle cx="1607.2" cy="772.8" r="4.9" fill="#fff" stroke="#fbad14" stroke-width="2.4"/>
<circle cx="1662.9" cy="772.8" r="4.9" fill="#fff" stroke="#fbad14" stroke-width="2.4"/>
<circle cx="1718.6" cy="772.3" r="4.9" fill="#fff" stroke="#fbad14" stroke-width="2.4"/>
<circle cx="1774.3" cy="772.8" r="4.9" fill="#fff" stroke="#fbad14" stroke-width="2.4"/>
<path d="M1285.7 483.7 L1316.8 483.7" stroke="#5a32b4" stroke-width="3.2" fill="none"/>
<path d="M1301.2 478.2 L1306.5 488.3 L1296 488.3 Z" fill="#fff" stroke="#5a32b4" stroke-width="2.3" stroke-linejoin="miter"/>
<text x="1320.2" y="488.6" font-size="14" fill="#404040" text-anchor="start" font-weight="normal" textLength="89" lengthAdjust="spacingAndGlyphs">M-Spike&#160;&#160;(g/L)</text>
<path d="M1419.1 483.7 L1450 483.7" stroke="#fb1f26" stroke-width="3.2" fill="none"/>
<rect x="1430" y="479.2" width="9" height="9" fill="#fff" stroke="#fb1f26" stroke-width="2.3"/>
<text x="1453.1" y="488.6" font-size="14" fill="#404040" text-anchor="start" font-weight="normal" textLength="59.8" lengthAdjust="spacingAndGlyphs">IgG&#160;&#160;(g/L)</text>
<path d="M1523 483.7 L1554.1 483.7" stroke="#fbad14" stroke-width="3.2" fill="none"/>
<circle cx="1538.5" cy="483.7" r="4.5" fill="#fff" stroke="#fbad14" stroke-width="2.3"/>
<text x="1557.6" y="488.6" font-size="14" fill="#404040" text-anchor="start" font-weight="normal" textLength="59" lengthAdjust="spacingAndGlyphs">IgA&#160;&#160;(g/L)</text>
<rect x="1069.4" y="475.5" width="74.6" height="25.7" fill="#fff" stroke="#333" stroke-width="1.3" rx="0.8"/>
<text x="1077.1" y="493" font-size="14" font-weight="bold" fill="#111" textLength="51.8" lengthAdjust="spacingAndGlyphs">CyBorD</text>
<rect x="1188.5" y="635" width="83.2" height="25.6" fill="#fff" stroke="#333" stroke-width="1.3" rx="0.8"/>
<text x="1196.1" y="652.2" font-size="14" font-weight="bold" fill="#111" textLength="65.1" lengthAdjust="spacingAndGlyphs">VRD+IRD</text>
<rect x="1282.5" y="635" width="103.7" height="25.6" fill="#fff" stroke="#333" stroke-width="1.3" rx="0.8"/>
<text x="1289.6" y="652.2" font-size="14" font-weight="bold" fill="#111" textLength="84.3" lengthAdjust="spacingAndGlyphs">(V)DT-PACE</text>
<rect x="1430" y="635" width="86.9" height="25.6" fill="#fff" stroke="#333" stroke-width="1.3" rx="0.8"/>
<text x="1437.9" y="652.2" font-size="14" font-weight="bold" fill="#111" textLength="70.6" lengthAdjust="spacingAndGlyphs">AutoHSCT</text>
<rect x="1527.4" y="635" width="56.1" height="25.6" fill="#fff" stroke="#333" stroke-width="1.3" rx="0.8"/>
<text x="1534.8" y="652.2" font-size="14" font-weight="bold" fill="#111" textLength="40" lengthAdjust="spacingAndGlyphs">DARA</text>
<rect x="1609" y="635" width="55.6" height="25.6" fill="#fff" stroke="#333" stroke-width="1.3" rx="0.8"/>
<text x="1616.4" y="652.2" font-size="14" font-weight="bold" fill="#111" textLength="37.4" lengthAdjust="spacingAndGlyphs">CART</text>
<rect x="1674.3" y="635" width="81.4" height="25.6" fill="#fff" stroke="#333" stroke-width="1.3" rx="0.8"/>
<text x="1682" y="652.2" font-size="14" font-weight="bold" fill="#111" textLength="64" lengthAdjust="spacingAndGlyphs">AlloHSCT</text>
<path d="M1103.1 505.8 H1110.5 V520.1 H1114.8 L1106.8 529.7 L1098.8 520.1 H1103.1 Z" fill="#000"/>
<path d="M1239 665 H1246.4 V678.8 H1250.7 L1242.7 688.4 L1234.7 678.8 H1239 Z" fill="#000"/>
<path d="M1324.1 665 H1331.5 V678.8 H1335.8 L1327.8 688.4 L1319.8 678.8 H1324.1 Z" fill="#000"/>
<path d="M1490 665 H1497.4 V678.8 H1501.7 L1493.7 688.4 L1485.7 678.8 H1490 Z" fill="#000"/>
<path d="M1547.2 665 H1554.6 V678.8 H1558.9 L1550.9 688.4 L1542.9 678.8 H1547.2 Z" fill="#000"/>
<path d="M1633.8 665 H1641.2 V678.8 H1645.5 L1637.5 688.4 L1629.5 678.8 H1633.8 Z" fill="#000"/>
<path d="M1712.8 665 H1720.2 V678.8 H1724.5 L1716.5 688.4 L1708.5 678.8 H1712.8 Z" fill="#000"/>
<text x="4.6" y="562.8" font-size="15" fill="#111" text-anchor="start" font-weight="bold" >Before</text>
<text x="4.6" y="581.4" font-size="15" fill="#111" text-anchor="start" font-weight="bold" >CAR-T</text>
<text x="4.6" y="719.4" font-size="15" fill="#111" text-anchor="start" font-weight="bold" >One</text>
<text x="4.6" y="738" font-size="15" fill="#111" text-anchor="start" font-weight="bold" >month</text>
<text x="4.6" y="756.6" font-size="15" fill="#111" text-anchor="start" font-weight="bold" >post-</text>
<text x="4.6" y="775.2" font-size="15" fill="#111" text-anchor="start" font-weight="bold" >CAR-T</text>
<rect x="72.7" y="504.5" width="197.8" height="142.3" fill="#020202"/>
<g clip-path="url(#ct1)"><g filter="url(#fct)">
<path d="M77.2 608 Q172.2 638.8 266.4 610.4 L266.4 626.6 Q172.2 664.4 77.2 620.5Z" fill="#171717"/>
<path d="M77.2 608 Q172.2 638.8 266.4 610.4" fill="none" stroke="#161616" stroke-width="5" transform="translate(0 -4)"/>
<path d="M77.2 608 Q172.2 638.8 266.4 610.4" fill="none" stroke="#6f6f6f" stroke-width="0.8" transform="translate(0 -6)"/>
<path d="M77.2 608 Q172.2 638.8 266.4 610.4" fill="none" stroke="#d6d6d6" stroke-width="1.2"/>
<path d="M77.2 620.5 Q172.2 664.4 266.4 626.6" fill="none" stroke="#f6f6f6" stroke-width="1.5"/>
<path d="M82.3 537.3 C84.3 536.8 84.9 536.5 88.1 535.9 C91.3 535.3 89.3 536 91.9 535.5 C94.5 534.9 92.6 534.5 95.9 534.1 C99.1 533.8 98.5 535.4 101.6 534.4 C104.7 533.4 102.4 531.8 105.1 531.2 C107.9 530.5 106.2 533.5 109.8 532.5 C113.4 531.4 112 528.5 115.9 528 C119.8 527.5 118.2 530.9 121.5 531 C124.8 531.1 123 530.5 125.7 528.3 C128.3 526.1 126.3 526 129.5 524.4 C132.7 522.8 131.9 523.9 135.3 523.5 C138.6 523 136.5 523.3 139.4 523.1 C142.3 523 141.2 523.8 144 523 C146.8 522.1 145.5 523.1 147.8 520.6 C150.1 518.2 148.9 518.9 150.9 515.6 C152.9 512.4 152.8 512.5 153.7 511" fill="none" stroke="#666" stroke-width="0.9"/>
<path d="M82.4 540.4 C83.6 539.4 83.1 537.4 86 537.5 C88.9 537.6 88.4 540.4 91.2 540.7 C94 541 92.6 540.3 94.4 538.3 C96.2 536.4 94.7 536.6 96.6 534.9 C98.5 533.2 97.3 533.4 100.2 533.2 C103.1 533 102.2 534.2 105.2 534.3 C108.2 534.4 106.5 533.1 109.1 533.4 C111.7 533.7 111.4 536.1 113.1 535.2 C114.7 534.4 111.7 532.2 114.1 530.9 C116.5 529.7 116.9 531.7 120.3 531.5 C123.7 531.3 122.5 530.5 124.2 530.2 C125.9 529.9 123.1 531.4 125.4 530.6 C127.7 529.8 128.6 528.9 131 527.8 C133.5 526.6 130.2 526.9 132.8 527.2 C135.4 527.6 136.5 529.5 138.9 528.7 C141.4 528 138.6 526.9 140.3 525 C141.9 523.1 141.3 524.5 143.9 523.1 C146.5 521.7 146.2 522 148 520.7 C149.9 519.4 148.7 520.2 149.6 519.2 C150.4 518.2 149.3 519.7 150.7 517.7 C152.1 515.8 152.7 514.8 153.7 513.4" fill="none" stroke="#4c4c4c" stroke-width="0.8"/>
<path d="M168.6 515.1 C170.2 515.3 170.1 515.2 173.4 515.8 C176.7 516.4 174.6 515.1 178.5 516.9 C182.4 518.6 181.7 518.9 185.1 521 C188.4 523.1 185.8 522.6 188.4 523.1 C191.1 523.7 189.6 522 193.1 522.7 C196.6 523.3 196.1 523.4 198.9 525.2 C201.7 527.1 199.1 527.9 201.5 528.2 C203.9 528.6 202.7 526.4 206.1 526.4 C209.5 526.4 208.8 527.5 211.7 528.2 C214.7 528.8 212.6 527.1 215 528.4 C217.4 529.8 215.8 530.5 218.9 532.2 C222 533.9 220.8 532.9 224.5 533.7 C228.2 534.4 226 533.6 230 534.4 C234 535.1 232.9 534.4 236.5 535.9 C240.1 537.5 238 538.6 240.9 539 C243.8 539.5 241.6 537.3 245.2 537.2 C248.8 537.2 248.4 539.7 251.6 538.9 C254.9 538.1 251.9 535.5 254.9 534.8 C258 534.1 257.4 537.3 260.8 536.9 C264.2 536.5 263.6 534.7 265 533.6" fill="none" stroke="#666" stroke-width="0.9"/>
<path d="M168.5 519.4 C170.3 519.1 171.4 519.4 173.9 518.7 C176.5 517.9 174.6 515.7 176.1 517.1 C177.7 518.6 176.4 521.2 178.5 523.2 C180.7 525.1 180.1 522.4 182.6 523 C185.1 523.5 183.5 524.8 186.1 524.9 C188.8 524.9 188.3 522.5 190.5 523.2 C192.8 523.8 190.9 526.1 192.8 526.8 C194.7 527.5 193.4 524.2 196.3 525.3 C199.1 526.4 198.4 529.1 201.4 530 C204.3 530.9 202.4 528.4 205.2 528.1 C208.1 527.7 207.9 528.1 209.8 528.9 C211.7 529.7 209 529.9 211 530.5 C213.1 531.1 213.3 529.6 215.9 530.6 C218.6 531.6 216.3 532.7 218.9 533.5 C221.5 534.4 221.1 531.6 223.8 533.2 C226.4 534.8 224 536.8 226.9 538.4 C229.8 540.1 229.6 538 232.3 538.1 C235.1 538.2 233.6 539.2 235.3 538.7 C237 538.2 235.6 535.4 237.5 536.6 C239.3 537.9 237.8 540.1 240.8 542.5 C243.8 544.9 244 544.3 246.5 543.8 C249 543.3 246.1 542.1 248.4 540.9 C250.8 539.8 250.7 540.4 253.5 540.4 C256.3 540.4 254.7 541.9 256.9 540.9 C259.1 539.8 257.3 538.9 260 537.3 C262.8 535.7 263.4 536.4 265 536" fill="none" stroke="#4c4c4c" stroke-width="0.8"/>
<path d="M73.7 540.5 C76.9 533.1 86.2 539.9 92.9 539.7 C99.5 539.4 107.7 539.7 113.7 538.8 C119.8 537.9 123.9 535.9 129.4 534.4 C134.9 533 141.3 531 146.8 530.1 C152.3 529.2 156.9 529.2 162.4 529.2 C167.9 529.2 174 529.4 179.8 530.1 C185.6 530.8 191.4 532 197.2 533.6 C203 535.2 208.8 538.1 214.6 539.7 C220.4 541.2 226.8 541.8 232 543.1 C237.2 544.4 241.9 545.3 245.9 547.5 C250 549.7 253.6 552.7 256.3 556.2 C259.1 559.7 261.6 564.3 262.4 568.3 C263.3 572.4 262.9 576.8 261.6 580.5 C260.3 584.3 257.8 587.8 254.6 591 C251.4 594.1 246.8 597.5 242.4 599.7 C238.1 601.8 233.7 602.8 228.5 604 C223.3 605.2 218.4 606.5 211.1 606.6 C203.9 606.8 193.7 605.4 185 604.9 C176.3 604.3 166.8 603.9 159 603.1 C151.1 602.4 145.3 601.7 138.1 600.5 C130.8 599.4 122.1 597.2 115.5 596.2 C108.8 595.2 103 595.6 98.1 594.4 C93.2 593.3 90 591 85.9 589.2 C81.9 587.5 75.8 592.1 73.7 584 C71.7 575.9 70.6 547.9 73.7 540.5Z" fill="#a5a5a5" stroke="#c6c6c6" stroke-width="1.1"/>
<path d="M174.6 564.9 C175.2 562.3 176.1 558.1 178.1 556.2 C180.1 554.2 183.6 553.3 186.8 553 C190 552.8 194 553 197.2 554.4 C200.4 555.8 203.6 559.1 205.9 561.4 C208.2 563.7 210.4 565.7 211.1 568.3 C211.9 571 211.1 574.4 210.3 577 C209.4 579.7 208.1 582.1 205.9 584 C203.7 585.9 200.4 588.1 197.2 588.3 C194 588.6 190 587.3 186.8 585.7 C183.6 584.1 180.1 581.1 178.1 578.8 C176.1 576.5 175.2 574.1 174.6 571.8 C174 569.5 174 567.5 174.6 564.9Z" fill="#141414" stroke="#5a5a5a" stroke-width="0.5"/>
<path d="M201.5 577.9h0M187.5 577.2h0M189.8 581h0M206.1 573.3h0M197.4 566.5h0M195.9 574.5h0M201.2 566.8h0M201.5 573.6h0M190.7 582.6h0M192.2 561.2h0M200.1 570.6h0M197.1 585.5h0M185.6 577h0M182 559h0M186.5 576.6h0M181.9 568.3h0M206.8 566.6h0M195.9 564.2h0M179.6 570.6h0M184.7 559h0M191.1 562.8h0M182.4 567.7h0M197.5 570.5h0M200.5 573.2h0M185.9 581h0M197.6 568.8h0M197.6 576.2h0M199.6 560.1h0M192 559.4h0M184.6 565.2h0" stroke="#6e6e6e" stroke-width="0.9" stroke-linecap="round" fill="none"/>
<path d="M191.4 568.4L189.6 564.2M192.3 568.6L192.6 563.2M193.3 569.8L200.3 566M192 569.2L191 564.6M189.6 568.2L187.4 566.4M188.9 569.1L184.1 567.3M194.5 569.7L200 568.1" stroke="#8a8a8a" stroke-width="0.6" stroke-linecap="round" fill="none"/>
<ellipse cx="167.7" cy="550.6" rx="3.8" ry="4.5" fill="#060606"/>
<ellipse cx="140.2" cy="550.6" rx="1.7" ry="1.4" fill="#060606"/>
<ellipse cx="85" cy="553.6" rx="7.3" ry="8.7" fill="#c6c6c6" stroke="#f0f0f0" stroke-width="2"/>
<path d="M91.5 568.7 C92.6 567.5 96.1 560.6 98.1 561.4 C100.1 562.1 104.8 572 103.7 573.2 C102.6 574.4 93.5 569.4 91.5 568.7" fill="none" stroke="#f1f1f1" stroke-width="2.7" stroke-linecap="round" stroke-linejoin="round"/>
<path d="M103.7 573.2 C105.9 575.3 112.2 582.3 117.2 585.7 C122.2 589.1 131 592.3 133.7 593.6" fill="none" stroke="#f1f1f1" stroke-width="1.6" stroke-linecap="round" stroke-linejoin="round"/>
<ellipse cx="151.1" cy="537" rx="7.3" ry="4.2" fill="#c6c6c6" stroke="#f0f0f0" stroke-width="2"/>
<ellipse cx="166.8" cy="535.7" rx="4.3" ry="2.4" fill="#c6c6c6" stroke="#f0f0f0" stroke-width="1.6"/>
<ellipse cx="183.3" cy="541.4" rx="8.3" ry="4.5" fill="#c6c6c6" stroke="#f0f0f0" stroke-width="2"/>
<path d="M128.5 552.7 C129.5 552.2 132.7 550.4 134.6 549.6 C136.5 548.7 139 547.8 139.8 547.5" fill="none" stroke="#f1f1f1" stroke-width="2.3" stroke-linecap="round" stroke-linejoin="round"/>
<ellipse cx="118.6" cy="566.6" rx="2.4" ry="4.5" fill="#c6c6c6" stroke="#f0f0f0" stroke-width="1.6"/>
<ellipse cx="165.9" cy="569.7" rx="6.3" ry="5.6" fill="#c6c6c6" stroke="#f0f0f0" stroke-width="2.3"/>
<path d="M157.2 580.2 C158.7 580.7 163 583.1 165.9 583.1 C168.8 583.1 173.2 580.7 174.6 580.2" fill="none" stroke="#f1f1f1" stroke-width="2.7" stroke-linecap="round" stroke-linejoin="round"/>
<path d="M165.9 583.1 L165 597" fill="none" stroke="#f1f1f1" stroke-width="2.5" stroke-linecap="round" stroke-linejoin="round"/>
<ellipse cx="214.6" cy="567.5" rx="2.8" ry="3.8" fill="#c6c6c6" stroke="#f0f0f0" stroke-width="1.4"/>
<path d="M193.7 556.2 L202.4 559.7" fill="none" stroke="#f1f1f1" stroke-width="1.8" stroke-linecap="round" stroke-linejoin="round"/>
<path d="M197.2 600.5 C199.2 598.9 204.8 593.4 209.4 591 C214 588.5 222.4 586.6 225 585.7" fill="none" stroke="#f1f1f1" stroke-width="2" stroke-linecap="round" stroke-linejoin="round"/>
<path d="M239 576.2 C237.2 576.9 231.1 578.1 228.5 580.5 C225.9 583 224.8 587.8 223.3 591 C221.9 594.1 220.4 598.2 219.8 599.7" fill="none" stroke="#f1f1f1" stroke-width="3.2" stroke-linecap="round" stroke-linejoin="round"/>
<ellipse cx="242.4" cy="566.6" rx="5.9" ry="6.3" fill="#dcdcdc" stroke="#f0f0f0" stroke-width="1.8"/>
<path d="M132 587.1 L141.6 587.8" fill="none" stroke="#f1f1f1" stroke-width="2" stroke-linecap="round" stroke-linejoin="round"/>
<path d="M178.1 584 C179.2 584.9 182.4 588.6 185 589.2 C187.7 589.8 192.3 587.8 193.7 587.5" fill="none" stroke="#f1f1f1" stroke-width="1.6" stroke-linecap="round" stroke-linejoin="round"/>
</g>
<path d="M113.7 600.1 L126.7 583.2 L128.5 584.6 L129 576.7 L121.6 579.2 L123.4 580.6 L110.3 597.5Z" fill="#fff"/>
</g>
<rect x="283.6" y="505" width="196.6" height="141.8" fill="#020202"/>
<g clip-path="url(#ct2)"><g filter="url(#fct)">
<path d="M287.2 607.5 Q382.2 639.2 476.4 610.1 L476.4 625.7 Q382.2 663.6 287.2 619.7Z" fill="#171717"/>
<path d="M287.2 607.5 Q382.2 639.2 476.4 610.1" fill="none" stroke="#161616" stroke-width="5" transform="translate(0 -4)"/>
<path d="M287.2 607.5 Q382.2 639.2 476.4 610.1" fill="none" stroke="#6f6f6f" stroke-width="0.8" transform="translate(0 -6)"/>
<path d="M287.2 607.5 Q382.2 639.2 476.4 610.1" fill="none" stroke="#d6d6d6" stroke-width="1.2"/>
<path d="M287.2 619.7 Q382.2 663.6 476.4 625.7" fill="none" stroke="#f6f6f6" stroke-width="1.5"/>
<path d="M295.2 534.6 C297.4 533.9 297.9 534.4 301.6 532.5 C305.2 530.5 302.9 529.4 306.3 528.8 C309.6 528.1 308.1 531.2 311.6 530.5 C315.1 529.8 313.5 528.9 316.7 526.8 C319.9 524.6 318 524.7 321.2 524.1 C324.4 523.4 323.5 526.1 326.4 524.7 C329.4 523.4 327.1 521.3 330.1 520.1 C333 518.9 331.6 521.2 335.2 521 C338.8 520.9 337.9 520 340.9 519.6 C343.8 519.2 341.4 520.2 344.1 519.9 C346.9 519.6 345.7 520.2 349.1 518.7 C352.5 517.2 350.5 516.7 354.3 515.4 C358.1 514.2 357.3 514.4 360.6 514.9 C363.8 515.4 360.8 515.7 364 516.9 C367.2 518.2 366.5 517.9 370.2 518.8 C373.8 519.6 371.9 519.9 374.9 519.6 C378 519.3 377.9 518.5 379.4 517.9" fill="none" stroke="#666" stroke-width="0.9"/>
<path d="M295.9 538.5 C296.6 536.8 295.8 535.3 298 533.3 C300.3 531.3 299.8 532.5 302.6 532.5 C305.3 532.5 304.2 533 306.4 533.3 C308.6 533.5 307.1 534.7 309.1 533.3 C311.1 531.9 310.4 529.9 312.5 529.2 C314.6 528.4 312.8 531.9 315.3 531 C317.8 530 317.4 526.8 320 526.3 C322.6 525.7 321.3 529.4 323.2 529.3 C325 529.2 323.8 527.5 325.5 526 C327.3 524.5 325.9 525.4 328.3 524.9 C330.8 524.4 330.6 524.2 332.9 524.4 C335.2 524.6 332.8 526.5 335.3 525.6 C337.7 524.6 337.1 522.9 340.3 521.5 C343.5 520.2 342.4 521.6 344.8 521.6 C347.2 521.5 345.8 522 347.6 521.4 C349.4 520.8 347.7 519.8 350.1 519.7 C352.5 519.6 351.6 521.9 354.8 521.2 C358 520.4 357.3 518.9 359.7 517.6 C362.1 516.2 360.1 515.9 361.9 517 C363.8 518.2 362.6 520.3 365.3 521.1 C368 521.9 367.9 520.5 370.1 519.5 C372.3 518.5 369.9 517.1 371.9 518.1 C374 519.1 373.8 521.7 376.2 522.5 C378.7 523.2 378.3 521.1 379.4 520.3" fill="none" stroke="#4c4c4c" stroke-width="0.8"/>
<path d="M373.3 510.5 C374.9 510.1 374.7 508.5 378 509.3 C381.4 510.1 379.9 511.8 383.4 513 C386.9 514.2 385 512.8 388.6 512.9 C392.1 513 390.6 512.6 394.2 513.2 C397.7 513.8 396.1 513.6 399.3 514.8 C402.5 515.9 400.8 515.2 403.8 516.8 C406.7 518.3 404.9 518.3 408.3 519.4 C411.7 520.6 410.4 519.2 414 520.1 C417.7 521.1 415.9 521.6 419.2 522.2 C422.5 522.9 420.2 521 423.8 522.1 C427.5 523.2 426.7 523.6 430.1 525.5 C433.6 527.4 431.4 526.6 434.2 527.9 C437.1 529.2 436.1 528.6 438.8 529.4 C441.4 530.2 439.2 529.3 442.3 530.3 C445.3 531.3 445 532.2 447.9 532.5 C450.9 532.8 448.2 531.3 451.1 531.3 C454.1 531.2 453.3 530.5 456.9 532.3 C460.4 534.1 459.2 535.7 461.8 536.6 C464.4 537.5 461.7 535.1 464.7 535 C467.6 534.9 467.3 535.1 470.8 536.4 C474.2 537.7 473.6 538 475 538.8" fill="none" stroke="#666" stroke-width="0.9"/>
<path d="M373.1 513.5 C374.6 513.8 375.2 514.4 377.7 514.4 C380.1 514.3 377.8 514 380.5 513.3 C383.2 512.6 383.2 511 385.8 512.2 C388.3 513.5 385.5 514.5 388.1 517 C390.8 519.5 391.4 519.3 393.8 519.7 C396.2 520.1 393 518.3 395.3 518.2 C397.6 518.1 397.8 519.1 400.8 519.3 C403.8 519.4 402.4 518.7 404.3 518.6 C406.1 518.6 404.4 517.8 406.3 519.1 C408.2 520.5 407 521.1 409.9 522.6 C412.8 524.1 412.4 523.7 415 523.7 C417.5 523.7 415.5 521.4 417.7 522.6 C419.9 523.7 418.3 525.2 421.5 527.2 C424.8 529.2 425.1 529.5 427.5 528.7 C429.8 527.9 426.3 525 428.7 524.9 C431.1 524.7 431.7 527 434.8 528.3 C437.9 529.7 436 527.9 438 528.8 C440.1 529.8 438.7 529.8 440.9 531.1 C443.1 532.5 442.5 531.7 444.5 532.8 C446.6 534 444.2 534.6 447.1 534.6 C450 534.7 450.3 532.1 453.1 533 C456 533.9 453.7 536.5 455.8 537.3 C457.9 538.1 457.2 535.1 459.5 535.3 C461.8 535.6 460.4 536.2 462.6 538.2 C464.8 540.1 462.9 540.3 466 541.3 C469.2 542.4 469.1 541.3 472.1 541.3 C475.1 541.3 474 541.2 475 541.2" fill="none" stroke="#4c4c4c" stroke-width="0.8"/>
<path d="M283.7 543.1 C287.8 535.3 301.1 543 308.1 541.4 C315 539.8 319.7 535.9 325.5 533.6 C331.3 531.2 336.2 528.9 342.9 527.5 C349.5 526 358.2 525.2 365.5 524.9 C372.7 524.6 379.4 525 386.3 525.7 C393.3 526.5 400.8 527.8 407.2 529.2 C413.6 530.7 419.4 532.3 424.6 534.4 C429.8 536.6 434.5 539.4 438.5 542.3 C442.6 545.2 445.5 548.6 449 551.8 C452.4 555 456.8 557.8 459.4 561.4 C462 565 464.3 569.5 464.6 573.6 C464.9 577.6 463.2 582 461.1 585.7 C459.1 589.5 456.2 593 452.4 596.2 C448.7 599.4 444.3 602.7 438.5 604.9 C432.7 607 425.8 608.6 417.7 609.2 C409.5 609.8 398.8 608.8 389.8 608.3 C380.8 607.9 371.6 607.2 363.7 606.6 C355.9 606 350.1 606.2 342.9 604.9 C335.6 603.6 326.9 601.1 320.3 598.8 C313.6 596.5 309 592.7 302.9 591 C296.8 589.2 286.9 596.3 283.7 588.3 C280.6 580.4 279.7 551 283.7 543.1Z" fill="#a5a5a5" stroke="#c6c6c6" stroke-width="1.1"/>
<path d="M325.5 556.2 C326.2 552.7 326.6 547.3 329 544 C331.3 540.7 335.6 537.9 339.4 536.2 C343.2 534.4 348.1 533.4 351.6 533.6 C355 533.7 358.4 535.2 360.3 537 C362.1 538.9 361.4 543.3 362.9 544.9 C364.3 546.5 367.4 544.7 369 546.6 C370.6 548.5 371.6 553.7 372.4 556.2 C373.3 558.6 375.3 560.1 374.2 561.4 C373 562.7 367.4 562 365.5 564 C363.6 566 363.2 570.5 362.9 573.6 C362.6 576.6 364.5 579.9 363.7 582.3 C363 584.6 361.1 586.3 358.5 587.5 C355.9 588.6 351.9 589.7 348.1 589.2 C344.3 588.8 339.2 587.2 335.9 584.9 C332.6 582.6 330 578.6 328.1 575.3 C326.2 572 325 568.1 324.6 564.9 C324.2 561.7 324.8 559.7 325.5 556.2Z" fill="#141414" stroke="#5a5a5a" stroke-width="0.5"/>
<path d="M344.7 566.9h0M344.7 583.5h0M344.7 573.8h0M342.2 569.1h0M355.5 546.5h0M341.4 570.3h0M352.8 563.2h0M356.4 572.6h0M361.2 547.8h0M334.3 554.5h0M356.2 578.6h0M348 543h0M349.2 567.6h0M345.5 562.9h0M354.2 553.9h0M338.8 570h0M352.4 549.3h0M360.1 550h0M362 555.3h0M369.5 557.5h0M336.7 562.7h0M330.3 568.3h0M347.2 544.9h0M330.8 558.2h0M357.7 558.9h0M337.6 566h0M345.4 576.9h0M355.6 553.6h0M338.1 571.7h0M352.6 566.5h0M356 575.5h0M334 547.4h0M345.7 568.3h0M329.7 563.7h0M358.1 564.2h0M355.9 554.3h0M348.3 545.3h0M341.6 575h0M355.5 576.3h0M335.2 557.2h0M337.4 578.6h0M342.9 569.9h0M351.8 575.1h0M328.7 565h0M348.6 571.7h0M339.4 576.7h0M339.7 573.9h0M359 549.3h0M331.7 553.5h0M360.6 554h0M346.3 578.3h0M339.7 551.2h0M342.5 553.9h0M342.6 555.6h0M343.8 544.4h0M352.6 577.9h0M351.4 580.1h0M352.5 543.4h0M350.2 563.8h0M356.9 578.3h0M356 541.6h0M361.6 569.7h0M336.8 545.8h0M362.5 562.6h0M362.5 555.5h0" stroke="#6e6e6e" stroke-width="0.9" stroke-linecap="round" fill="none"/>
<path d="M349.2 563.7L346.9 566.7M348.6 561.1L342.7 561.3M350.3 558.1L349.4 555.6M352.6 558.9L355.5 554.5M352.5 558.4L354.5 553.9M354.1 560.4L358.6 559.4M350.4 558.4L349.5 555.5" stroke="#8a8a8a" stroke-width="0.6" stroke-linecap="round" fill="none"/>
<path d="M386.3 541.4 C387.8 539.7 391.6 539.7 395 538.8 C398.5 537.9 403.2 535.7 407.2 536.2 C411.3 536.6 415.9 539.1 419.4 541.4 C422.9 543.7 425.6 546.8 428.1 550.1 C430.6 553.4 433.2 557.5 434.2 561.4 C435.2 565.3 435.2 569.8 434.2 573.6 C433.2 577.3 430.8 581.1 428.1 584 C425.3 586.9 421.7 589.5 417.7 591 C413.6 592.4 407.8 593.3 403.7 592.7 C399.7 592.1 396.2 589.5 393.3 587.5 C390.4 585.4 388.1 583.1 386.3 580.5 C384.6 577.9 383.2 574.7 382.9 571.8 C382.6 568.9 383.7 565.7 384.6 563.1 C385.5 560.5 387.8 558.5 388.1 556.2 C388.4 553.9 386.6 551.7 386.3 549.2 C386.1 546.8 384.9 543.1 386.3 541.4Z" fill="#141414" stroke="#5a5a5a" stroke-width="0.5"/>
<path d="M404.4 544.4h0M402.1 545.7h0M393.4 560.2h0M388.8 572.8h0M392.3 548.5h0M394.9 576.7h0M413.4 548.8h0M392.4 552.1h0M391.7 579h0M398.9 567.2h0M424.8 563.3h0M407.6 548.7h0M424 557.9h0M409.9 565.3h0M416.6 549.6h0M401.9 581.2h0M419.5 570.4h0M390.9 545h0M399.4 550.8h0M427.5 565.3h0M396.5 566.4h0M390.6 579.7h0M407.5 562.7h0M423.4 559.7h0M410.7 565.9h0M398.8 553.7h0M406.8 576.6h0M401.3 575h0M425.4 573.1h0M419.3 549.6h0M411.8 562.1h0M414.5 552.6h0M402.2 566.7h0M398.2 555.2h0M403 573.9h0M396 547.5h0M420.4 554.8h0M420 554.9h0M417.6 576.2h0M392.1 558.9h0M425.8 569.7h0M409.1 572.8h0M422.2 582.6h0M402.7 554.9h0M403.4 575.7h0M416.7 570.6h0M400.4 573h0M409 580.7h0M425.2 570.7h0M391 579.5h0M429.2 567.2h0M401 564.5h0M390.1 576.5h0M419.6 583.4h0M415 547.4h0M412.4 575.6h0M401.4 562.3h0M410.7 567.9h0M411.6 551.1h0M424.8 570.2h0M395.2 568.6h0M416.6 553.6h0M417.3 577.9h0M402.4 569.6h0M393.1 562.6h0M390.2 558h0M412.1 546h0M409.5 551.1h0M412 554.9h0" stroke="#6e6e6e" stroke-width="0.9" stroke-linecap="round" fill="none"/>
<path d="M404 563L399.5 558.5M407.1 566.1L409.6 568.7M402.5 564L396.7 564.9M403.5 561.2L401.5 557.2M400.7 564L395.6 564.3M406.1 562.3L409.1 559.1M401.3 562.5L397.7 561.2" stroke="#8a8a8a" stroke-width="0.6" stroke-linecap="round" fill="none"/>
<ellipse cx="376.8" cy="554.4" rx="4.7" ry="5.2" fill="#060606"/>
<path d="M354.2 531.8 C356.1 531.5 361.3 530.3 365.5 530.1 C369.7 529.9 374.8 530 379.4 530.4 C384 530.9 389.5 531.7 393.3 532.7 C397.1 533.7 400.6 535.6 402 536.2" fill="none" stroke="#f1f1f1" stroke-width="3.6" stroke-linecap="round" stroke-linejoin="round"/>
<ellipse cx="290.2" cy="556.2" rx="4.5" ry="4.9" fill="#a5a5a5" stroke="#f0f0f0" stroke-width="1.8"/>
<path d="M315 583.1 C316.8 584.1 320.8 586.8 325.5 589.2 C330.1 591.7 340 596.5 342.9 597.9" fill="none" stroke="#f1f1f1" stroke-width="2.5" stroke-linecap="round" stroke-linejoin="round"/>
<path d="M446.3 580.5 C444.5 581.4 439.2 582.8 435 585.7 C430.8 588.6 425 595 421.1 597.9 C417.2 600.9 413.2 602.6 411.6 603.5" fill="none" stroke="#f1f1f1" stroke-width="2.3" stroke-linecap="round" stroke-linejoin="round"/>
<path d="M325.5 577 C326.9 578.8 330.4 585 334.2 587.5 C337.9 589.9 343.7 591.5 348.1 591.8 C352.4 592.1 358.2 589.7 360.3 589.2" fill="none" stroke="#f1f1f1" stroke-width="1.6" stroke-linecap="round" stroke-linejoin="round"/>
<path d="M393.3 589.2 C395.6 590.1 402.6 594 407.2 594.4 C411.9 594.9 417.1 593.9 421.1 591.8 C425.2 589.8 429.1 585.9 431.6 582.3 C434 578.6 435.2 572.1 435.9 570.1" fill="none" stroke="#f1f1f1" stroke-width="1.4" stroke-linecap="round" stroke-linejoin="round"/>
<path d="M321.1 561.4 C321.4 559.7 321.4 554.3 322.9 551 C324.3 547.6 328.7 543 329.8 541.4" fill="none" stroke="#f1f1f1" stroke-width="1.4" stroke-linecap="round" stroke-linejoin="round"/>
<path d="M417.7 539.7 C419.4 541 424.9 544.4 428.1 547.5 C431.3 550.5 435.3 556.2 436.8 557.9" fill="none" stroke="#f1f1f1" stroke-width="1.8" stroke-linecap="round" stroke-linejoin="round"/>
<ellipse cx="376.8" cy="572.7" rx="6.3" ry="5.2" fill="#e6e6e6" transform="rotate(0 376.8 572.7)"/>
<ellipse cx="376.8" cy="580.5" rx="3.8" ry="3.1" fill="#9a9a9a" transform="rotate(0 376.8 580.5)"/>
<path d="M369 583.1 C370.3 583.9 373.9 586.2 376.8 587.5 C379.7 588.8 384.8 590.4 386.3 591" fill="none" stroke="#f1f1f1" stroke-width="2" stroke-linecap="round" stroke-linejoin="round"/>
<path d="M376.8 587.5 L375.9 599.7" fill="none" stroke="#f1f1f1" stroke-width="2" stroke-linecap="round" stroke-linejoin="round"/>
</g>
<path d="M365.2 606.8 L368.3 593.4 L370.9 594 L367.6 585.4 L360.9 591.8 L363.5 592.3 L360.5 605.7Z" fill="#fff"/>
</g>
<rect x="495" y="505" width="198" height="141.6" fill="#020202"/>
<g clip-path="url(#ct3)"><g filter="url(#fct)">
<path d="M498.3 608.3 Q594.3 637.9 689.1 611.8 L689.1 627.8 Q594.3 664.7 498.3 622.3Z" fill="#171717"/>
<path d="M498.3 608.3 Q594.3 637.9 689.1 611.8" fill="none" stroke="#161616" stroke-width="5" transform="translate(0 -4)"/>
<path d="M498.3 608.3 Q594.3 637.9 689.1 611.8" fill="none" stroke="#6f6f6f" stroke-width="0.8" transform="translate(0 -6)"/>
<path d="M498.3 608.3 Q594.3 637.9 689.1 611.8" fill="none" stroke="#d6d6d6" stroke-width="1.2"/>
<path d="M498.3 622.3 Q594.3 664.7 689.1 627.8" fill="none" stroke="#f6f6f6" stroke-width="1.5"/>
<path d="M501 543.7 C502.6 542.7 503.5 541.9 505.7 540.8 C507.9 539.6 505.1 541.2 507.6 540.2 C510.1 539.1 510.4 539.3 513.3 537.7 C516.3 536.2 514.4 537.2 516.5 535.4 C518.6 533.6 517.3 534.6 519.6 532.2 C522 529.9 520.5 529.7 523.5 528.4 C526.5 527.1 525.5 529.6 528.7 528.4 C531.8 527.1 529.8 525.7 532.9 524.6 C536 523.5 535.1 525.8 537.9 525 C540.7 524.2 538.6 523.9 541.2 522.3 C543.9 520.7 542.9 520.3 545.9 520.2 C549 520.1 546.5 522.1 550.4 521.9 C554.3 521.6 553.6 521 557.7 519.4 C561.7 517.7 559.3 518.5 562.7 516.9 C566 515.3 564.3 515.3 567.7 514.6 C571.1 513.9 569.3 515.5 572.8 514.7 C576.4 514 574.9 513.2 578.4 512.3 C581.9 511.4 580.2 511 583.4 512 C586.6 513.1 585.1 515.5 588 515.4 C590.9 515.4 588.6 512.8 592 511.9 C595.5 511 596.2 512.4 598.3 512.7" fill="none" stroke="#666" stroke-width="0.9"/>
<path d="M500.4 545.5 C501.2 545.8 500.3 547.8 502.9 546.6 C505.5 545.4 505.8 543.7 508.2 541.8 C510.6 539.9 508.7 542.9 510.1 540.8 C511.5 538.8 509.8 537.6 512.4 535.7 C515.1 533.8 515.5 534.9 518 535.2 C520.6 535.5 517.9 537.5 520.1 536.7 C522.3 535.9 522.8 534.9 524.7 532.8 C526.6 530.8 523.7 530.6 525.8 530.5 C527.9 530.4 528.9 532.4 531 532.6 C533.2 532.7 530.6 532.6 532.3 530.9 C533.9 529.3 533.8 528.4 536 527.6 C538.1 526.8 536 529.9 538.7 528.5 C541.5 527.2 541.7 525.6 544.3 523.5 C546.9 521.3 544.3 523.2 546.5 522.1 C548.8 521.1 549 520 551 520.3 C553 520.7 550.6 522.2 552.5 523.1 C554.5 524 553.6 523.8 556.8 523.1 C560 522.4 559.8 522.1 562.1 521 C564.4 520 561.2 521.1 563.8 519.9 C566.3 518.8 567.3 519.1 569.8 517.6 C572.2 516 569.2 515.3 571.1 515.3 C573 515.4 572.9 518 575.5 517.8 C578 517.5 576.5 514.8 578.9 514.6 C581.3 514.3 579.7 516.9 582.7 517 C585.7 517.2 585.1 514.9 588 515.2 C590.9 515.4 589 518.2 591.3 517.8 C593.6 517.3 592.5 514.7 594.9 513.9 C597.2 513 597.2 514.7 598.3 515.1" fill="none" stroke="#4c4c4c" stroke-width="0.8"/>
<path d="M597.9 514.6 C599.7 514 600 513.3 603.4 512.8 C606.7 512.4 604.6 512.1 607.9 513.2 C611.3 514.2 610.3 514.5 613.4 515.9 C616.4 517.3 614.6 516.5 617 517.5 C619.3 518.5 617.6 518.6 620.5 518.9 C623.4 519.3 621.9 518.4 625.7 518.5 C629.4 518.6 628.5 517.5 631.7 519.2 C635 520.9 632.6 522.4 635.4 523.6 C638.3 524.8 636.8 522.8 640.2 522.8 C643.7 522.9 642 521.8 645.8 523.8 C649.5 525.8 648.7 527.1 651.4 528.8 C654.1 530.6 651 528.2 653.8 529 C656.6 529.9 656.2 529.5 659.8 531.3 C663.4 533.1 662.1 532.4 664.5 534.4 C667 536.4 664.7 535.8 667.2 537.3 C669.7 538.8 669.2 536.9 672.1 538.8 C675 540.8 673.5 541.3 675.9 543.2 C678.4 545 676.7 542.9 679.4 544.4 C682.1 545.8 681.5 546 684 547.6 C686.5 549.2 686 548.7 687 549.2" fill="none" stroke="#666" stroke-width="0.9"/>
<path d="M598.4 517.6 C599.2 517.6 598.9 517.6 600.9 517.6 C602.9 517.5 602 517.5 604.4 517.5 C606.7 517.4 605.2 516.5 608 517.4 C610.9 518.3 610.2 520 613 520.2 C615.9 520.4 614.5 518.5 616.5 518 C618.6 517.5 617.1 517.7 619.2 518.8 C621.3 519.9 621 519.9 622.9 521.2 C624.8 522.5 622.4 521.9 624.9 522.6 C627.3 523.4 627.2 523.6 630.2 523.5 C633.3 523.4 632.4 522.7 634.2 522.3 C636 521.9 633.7 521.2 635.6 522.4 C637.6 523.5 637.5 524.6 640.1 525.7 C642.7 526.8 640.8 525.7 643.4 525.7 C646 525.7 645.1 524.4 647.9 525.7 C650.6 526.9 649.6 527.1 651.7 529.4 C653.7 531.8 652.4 532.1 654.1 532.8 C655.8 533.4 654.6 531.2 656.7 531.2 C658.9 531.2 658 530.5 660.4 532.8 C662.8 535 661.4 536.3 663.9 538.1 C666.4 539.9 665.5 537.8 668 538.2 C670.5 538.6 668.9 538 671.3 539.2 C673.7 540.4 673.4 540.2 675.2 541.7 C677 543.2 674.8 541.1 676.8 543.7 C678.8 546.2 678.6 548.3 681.2 549.4 C683.8 550.6 682.7 546.4 684.7 547.2 C686.6 547.9 686.2 550.2 687 551.7" fill="none" stroke="#4c4c4c" stroke-width="0.8"/>
<path d="M494.9 551.8 C497.6 544.9 506.9 553.7 511.4 554.4 C515.9 555.2 518.9 553 521.8 556.2 C524.7 559.4 529.4 569.5 528.8 573.6 C528.2 577.6 521 577.9 518.3 580.5 C515.7 583.1 515.4 586.9 513.1 589.2 C510.8 591.5 507.5 593.3 504.4 594.4 C501.4 595.6 496.5 603.3 494.9 596.2 C493.3 589.1 492.1 558.8 494.9 551.8Z" fill="#a4a4a4" stroke="#bdbdbd" stroke-width="0.8"/>
<path d="M520.1 554.4 C520.4 550.7 522.1 547.6 525.3 544 C528.5 540.4 533.7 535.9 539.2 532.7 C544.7 529.5 552 526.6 558.3 524.9 C564.7 523.1 570.8 522.7 577.5 522.3 C584.1 521.8 591.4 521.8 598.3 522.3 C605.3 522.7 612.6 523.3 619.2 524.9 C625.9 526.5 632.8 528.9 638.3 531.8 C643.9 534.7 648.5 538.2 652.3 542.3 C656 546.3 658.3 551.5 661 556.2 C663.6 560.8 666.3 566 667.9 570.1 C669.5 574.1 670.8 576.8 670.5 580.5 C670.2 584.3 668.6 588.9 666.2 592.7 C663.7 596.5 660.1 600.2 655.7 603.1 C651.4 606 646.8 608.5 640.1 610.1 C633.4 611.7 624.1 612.4 615.7 612.7 C607.3 613 598.3 612.1 589.7 611.8 C581 611.5 571.7 611.5 563.6 611 C555.4 610.4 547.3 609.7 541 608.3 C534.6 607 529.4 605.4 525.3 603.1 C521.2 600.8 517.5 598.2 516.6 594.4 C515.7 590.7 518.9 585.2 520.1 580.5 C521.2 575.9 523.6 571 523.6 566.6 C523.6 562.3 519.8 558.2 520.1 554.4Z" fill="#a5a5a5" stroke="#c6c6c6" stroke-width="1.1"/>
<path d="M534.9 556.2 C534.6 552.7 535.6 547.8 537.5 544 C539.4 540.2 542.4 536.2 546.2 533.6 C549.9 531 555.4 528.9 560.1 528.3 C564.7 527.8 569.7 528.8 574 530.1 C578.3 531.4 585 533.9 586.2 536.2 C587.3 538.5 582.7 541.5 581 544 C579.2 546.5 576.9 548.1 575.7 551 C574.6 553.9 573.4 558.8 574 561.4 C574.6 564 577.5 564.9 579.2 566.6 C581 568.3 584.1 569.2 584.4 571.8 C584.7 574.4 582.4 578.8 581 582.3 C579.5 585.7 578.1 589.9 575.7 592.7 C573.4 595.4 570.2 598.2 567 598.8 C563.9 599.4 560.1 598.1 556.6 596.2 C553.1 594.3 549.2 591 546.2 587.5 C543.1 584 539.5 579.1 538.3 575.3 C537.2 571.5 539.8 568.1 539.2 564.9 C538.6 561.7 535.2 559.7 534.9 556.2Z" fill="#141414" stroke="#5a5a5a" stroke-width="0.5"/>
<path d="M555.9 554h0M542.3 560.4h0M542.1 556h0M550.2 558.2h0M572.5 544.5h0M547.9 567.2h0M547.3 560.9h0M555.5 574.1h0M570.5 589.2h0M565.2 590.8h0M558.6 556h0M575 543.5h0M552.7 541.3h0M563.1 539.9h0M545.3 543.5h0M558.9 550.1h0M569.7 589.1h0M545.4 555.3h0M553.5 547.7h0M548.3 556h0M548.7 553.8h0M553.3 582.3h0M574.4 564.9h0M542.6 570.3h0M556.6 566.7h0M548.2 579.4h0M569 538.7h0M545.4 548.1h0M571.4 556.9h0M546.5 548.9h0M552.6 543.5h0M567.2 568.2h0M550.2 575.6h0M570.2 575.3h0M546.9 572.9h0M554.5 551.5h0M560.4 548.1h0M543 556.7h0M559.3 540.1h0M569 545.2h0M556.5 539h0M564.8 577.7h0M563.3 577.7h0M560.3 569.6h0M558.9 551.3h0M563.9 546.8h0M569.1 541.4h0M558.9 571.7h0M574.4 572.5h0M566.7 557.3h0M556.2 547.8h0M560.9 550.1h0M546.6 576.3h0M562.8 556.1h0M547.1 563.1h0M568.2 567h0M566.9 567.8h0M552 552.8h0M571.6 577.3h0M577.2 539.6h0M566.8 562.9h0M563.8 554.4h0M549.5 581.1h0M562.3 545h0M547.7 551.2h0M544 564.5h0M571 536.3h0M558 582.7h0M559.5 539.8h0M560.9 584.4h0M555 578.8h0M547.8 578.8h0M551.6 551.9h0M573.8 587.7h0M577.4 568.3h0M556.4 578.1h0M566.8 586.9h0M576 537.2h0M554.2 575.5h0M546.7 541.4h0M556.4 572.8h0M571.5 536.7h0M541 551.6h0M559.7 554.7h0M550.7 584.7h0M555 571.9h0" stroke="#6e6e6e" stroke-width="0.9" stroke-linecap="round" fill="none"/>
<path d="M563.6 559.1L563.8 556.7M562.3 560.3L560.1 555.5M564.1 563.2L566.5 565.8M564.8 561.7L570 559.8M564.6 563.3L566.9 565.1M561.9 561.8L555.7 559.6M562.9 563.6L562.1 568.1" stroke="#8a8a8a" stroke-width="0.6" stroke-linecap="round" fill="none"/>
<path d="M594 537.9 C594.3 535 598.2 533.3 601.8 531.8 C605.4 530.4 611.1 529.1 615.7 529.2 C620.4 529.4 625.3 530.8 629.7 532.7 C634 534.6 638.3 537.2 641.8 540.5 C645.3 543.9 648.6 548.3 650.5 552.7 C652.4 557 653.1 562 653.1 566.6 C653.1 571.2 652.1 576.5 650.5 580.5 C648.9 584.6 646.8 588.1 643.6 591 C640.4 593.9 635.7 596.6 631.4 597.9 C627 599.2 621.5 599.7 617.5 598.8 C613.4 597.9 609.7 595 607 592.7 C604.4 590.4 601.8 587.2 601.8 584.9 C601.8 582.6 606 581.2 607 578.8 C608.1 576.3 608.5 573.3 607.9 570.1 C607.3 566.9 604.9 563.1 603.6 559.7 C602.3 556.2 601.7 552.8 600.1 549.2 C598.5 545.6 593.7 540.8 594 537.9Z" fill="#141414" stroke="#5a5a5a" stroke-width="0.5"/>
<path d="M615.6 547.3h0M598.6 541.9h0M622.6 558.1h0M641.7 556.8h0M632.8 572.6h0M620.2 587.2h0M615.2 581.6h0M612.3 565h0M625.2 585.6h0M640.8 580.4h0M617.6 585.1h0M642.9 582.6h0M635.7 546.6h0M628.1 545h0M617 554.9h0M632.8 585.6h0M615.6 573.6h0M614.9 548.6h0M637.9 543.9h0M637.9 567.2h0M634.2 541.6h0M614.7 559.2h0M617.9 551.6h0M613 581.7h0M607 557.6h0M610.2 576.3h0M604.8 554.1h0M631.5 555.5h0M632.1 544h0M630.4 591h0M644.6 572.9h0M623.9 568.7h0M634.8 560.7h0M633.3 558.4h0M616.7 545.2h0M629.5 569.1h0M631.1 560.3h0M629.1 570.6h0M637.6 551h0M617.8 589.6h0M623 545.5h0M643.7 574.4h0M641.2 564.8h0M645.4 578.7h0M608.8 585.4h0M620.8 566.5h0M610.5 574h0M640.5 563.4h0M608.3 584.9h0M626.5 592.2h0M615.6 536.2h0M600.9 541.9h0M617 588.3h0M630.5 592h0M614.1 551.2h0M631.2 548.6h0M629.7 577.6h0M604.7 538.1h0M635 561.7h0M615.1 542.9h0M637.5 554.3h0M612.3 557.6h0M619.1 586.3h0M618.2 561h0M614.5 578.2h0M610.9 588.7h0M634 560.9h0M638 571h0M618.8 548.8h0M611.3 577.6h0M633.7 546.2h0M618.3 538.4h0M618.9 553h0M628.9 567.2h0M616.1 579.5h0M633.6 553.1h0M621.7 554.4h0M621.5 551.2h0M633.7 571.3h0M643 574.4h0M617.7 574.9h0M606.4 555h0M630.8 580.8h0M609 585.7h0M637.2 583.2h0M625.7 566.3h0M611.8 564.5h0M624.3 549.7h0M640 546.4h0M606.9 560.6h0M627 561.2h0M618 571.8h0M637.4 578.8h0M632 588.2h0M613.4 563.2h0M632.7 590.9h0M623.6 592.1h0" stroke="#6e6e6e" stroke-width="0.9" stroke-linecap="round" fill="none"/>
<path d="M619.5 565.3L614.2 568.7M620.9 566.1L620.6 570.1M619 564.6L613.9 565.2M619.9 564.7L612.3 566.6M623.4 565.2L628.2 566.8M619.7 565.2L616.6 567M619.7 565.5L615.9 568.7" stroke="#8a8a8a" stroke-width="0.6" stroke-linecap="round" fill="none"/>
<ellipse cx="583.6" cy="564" rx="5.2" ry="3" fill="#060606"/>
<ellipse cx="594" cy="565.2" rx="3.8" ry="3" fill="#060606"/>
<ellipse cx="591.4" cy="530.1" rx="6.3" ry="3.5" fill="#d8d8d8" transform="rotate(0 591.4 530.1)"/>
<ellipse cx="590.5" cy="580.5" rx="5.6" ry="5.9" fill="#c6c6c6" stroke="#f0f0f0" stroke-width="2"/>
<path d="M583.6 594.4 C584.7 595.2 588.1 598.8 590.5 598.8 C593 598.8 597 595.2 598.3 594.4" fill="none" stroke="#f1f1f1" stroke-width="2.7" stroke-linecap="round" stroke-linejoin="round"/>
<path d="M590.5 604 L590.5 604.9" fill="none" stroke="#f1f1f1" stroke-width="1.8" stroke-linecap="round" stroke-linejoin="round"/>
<path d="M533.7 595.3 C535.2 596 539.9 598.2 542.7 599.7 C545.5 601.1 549.2 603.3 550.5 604" fill="none" stroke="#f1f1f1" stroke-width="2.5" stroke-linecap="round" stroke-linejoin="round"/>
<path d="M631.4 604.5 C633.4 603.4 639.5 600.4 643.6 597.9 C647.6 595.4 653.7 591 655.7 589.6" fill="none" stroke="#f1f1f1" stroke-width="2.5" stroke-linecap="round" stroke-linejoin="round"/>
<path d="M608.8 597.9 C611.1 598.4 618.6 600.9 622.7 601 C626.8 601.2 630.2 600 633.1 598.8 C636 597.5 638.9 594.4 640.1 593.6" fill="none" stroke="#f1f1f1" stroke-width="1.8" stroke-linecap="round" stroke-linejoin="round"/>
<path d="M531.4 556.2 L531.4 563.1" fill="none" stroke="#f1f1f1" stroke-width="2" stroke-linecap="round" stroke-linejoin="round"/>
<path d="M651.4 554.4 C651.7 557.6 653.6 568.9 653.1 573.6 C652.7 578.2 649.5 580.8 648.8 582.3" fill="none" stroke="#f1f1f1" stroke-width="1.4" stroke-linecap="round" stroke-linejoin="round"/>
<path d="M533.1 545.7 L538.3 538.8" fill="none" stroke="#f1f1f1" stroke-width="1.1" stroke-linecap="round" stroke-linejoin="round"/>
<path d="M565.3 561.4 C566.5 561.7 570.5 563.1 572.3 563.1 C574 563.1 575.2 561.7 575.7 561.4" fill="none" stroke="#bdbdbd" stroke-width="1.4" stroke-linecap="round" stroke-linejoin="round"/>
<path d="M614 563.1 L617.5 570.1" fill="none" stroke="#cfcfcf" stroke-width="2" stroke-linecap="round" stroke-linejoin="round"/>
<path d="M614 563.1 L612.3 549.2" fill="none" stroke="#b0b0b0" stroke-width="0.9" stroke-linecap="round" stroke-linejoin="round"/>
<ellipse cx="497.8" cy="564.9" rx="2.4" ry="3.8" fill="#c6c6c6" stroke="#f0f0f0" stroke-width="1.6"/>
</g>
<path d="M517.9 594.6 L529.3 578.6 L531.6 580.3 L531.9 570.4 L522.7 573.9 L525 575.6 L513.6 591.5Z" fill="#fff"/>
</g>
<rect x="707" y="504" width="197" height="142.6" fill="#020202"/>
<g clip-path="url(#ct4)"><g filter="url(#fct)">
<path d="M710.3 607.3 Q806.6 640.4 900.4 610.8 L900.4 626.5 Q806.6 666 710.3 620.4Z" fill="#171717"/>
<path d="M710.3 607.3 Q806.6 640.4 900.4 610.8" fill="none" stroke="#161616" stroke-width="5" transform="translate(0 -4)"/>
<path d="M710.3 607.3 Q806.6 640.4 900.4 610.8" fill="none" stroke="#6f6f6f" stroke-width="0.8" transform="translate(0 -6)"/>
<path d="M710.3 607.3 Q806.6 640.4 900.4 610.8" fill="none" stroke="#d6d6d6" stroke-width="1.2"/>
<path d="M710.3 620.4 Q806.6 666 900.4 626.5" fill="none" stroke="#f6f6f6" stroke-width="1.5"/>
<path d="M712.3 551.1 C713.6 548.5 713.8 546 716 543.4 C718.1 540.8 717.2 545.4 718.8 543.4 C720.5 541.4 718.5 541.1 721 537.3 C723.4 533.5 723.4 534.6 726.2 532 C729 529.3 727.2 530.7 729.4 529.4 C731.6 528 730.1 529.7 732.8 527.8 C735.5 526 734.7 525.8 737.5 523.9 C740.4 522 738.5 524.3 741.4 522.2 C744.2 520.1 743.6 519.6 746 517.5 C748.4 515.4 745.9 515.9 748.6 515.8 C751.2 515.7 750.4 517 753.9 517.3 C757.5 517.5 755.8 518 759.2 516.6 C762.7 515.1 760.7 514.8 764.2 513 C767.7 511.1 766 510.9 769.8 511.1 C773.5 511.2 772.4 513.8 775.4 513.4 C778.5 513.1 775.7 510.9 778.9 510.1 C782.1 509.4 781.4 512 785 511.3 C788.6 510.5 786.4 509 789.8 507.8 C793.2 506.5 791.8 506.9 795.3 507.6 C798.8 508.2 796.6 508.9 800.2 509.7 C803.8 510.4 802.7 510.1 806.1 509.9 C809.5 509.7 808.9 509.4 810.3 509.1" fill="none" stroke="#666" stroke-width="0.9"/>
<path d="M711.6 554.8 C713 553.2 714.4 552.2 715.7 549.9 C717 547.6 714.6 549.7 715.6 547.9 C716.7 546.2 716.6 546.3 718.8 544.7 C721.1 543.1 721.4 544.9 722.4 543.1 C723.5 541.4 721.1 541.7 721.9 539.5 C722.8 537.2 723 538.6 725 536.4 C726.9 534.2 725.8 535.2 727.8 532.8 C729.9 530.3 729.1 529.7 731 529 C733 528.2 732.1 531.7 733.8 530.4 C735.4 529.1 733.6 526.5 736.1 525 C738.6 523.6 738.8 527.5 741.3 526.1 C743.7 524.8 742.2 523.1 743.5 521.1 C744.9 519.1 743 520.7 745.4 520.2 C747.8 519.8 747.8 520.8 750.7 519.7 C753.7 518.6 752.3 517.6 754.1 517 C756 516.5 754 518.8 756.2 518.2 C758.4 517.5 758.1 515.7 760.9 515.2 C763.6 514.6 762.9 516.3 764.4 516.4 C766 516.5 763.7 515.6 765.6 515.5 C767.4 515.4 766.9 516.5 770 516.1 C773.2 515.8 772.4 515.4 775 514.4 C777.6 513.4 775.7 514.3 777.8 513.2 C780 512 779.2 511.8 781.6 510.9 C783.9 510 782.7 510.6 784.9 510.5 C787.2 510.4 786.1 510.7 788.2 510.6 C790.3 510.5 789 509.6 791.3 510.3 C793.6 510.9 792.4 512.2 795 512.5 C797.7 512.9 796.5 510.9 799.2 511.3 C801.9 511.7 800.8 513.4 803.1 513.7 C805.4 514 803.8 512.8 806.2 512.1 C808.6 511.4 809 511.7 810.3 511.5" fill="none" stroke="#4c4c4c" stroke-width="0.8"/>
<path d="M810.3 511.3 C811.8 511.1 811.8 511.4 814.9 510.8 C818.1 510.3 816.1 509.4 819.7 509.7 C823.3 510.1 822.4 511.8 825.8 512 C829.1 512.3 826.3 510.3 829.7 510.6 C833.1 510.9 832.3 511.7 835.9 512.9 C839.6 514 837.5 513.1 840.7 514 C843.8 514.9 842.1 513.8 845.4 515.4 C848.7 517.1 847.8 517.8 850.6 519.1 C853.3 520.3 851.4 518.1 853.7 519.2 C856.1 520.3 854.9 521.3 857.6 522.4 C860.2 523.5 858.3 522.1 861.6 522.4 C865 522.7 864.3 521.5 867.7 523.2 C871 525 869 525.4 871.7 527.7 C874.3 529.9 873.2 527.2 875.7 530.1 C878.2 533 876.1 533.3 879.1 536.3 C882.2 539.4 882 537.1 884.9 539.2 C887.7 541.2 885.9 540.7 887.7 542.5 C889.5 544.4 888.4 541.8 890.1 544.7 C891.9 547.6 891.7 547.3 893 551.3 C894.4 555.4 892.9 553.8 894.3 556.8 C895.7 559.8 896.3 559.2 897.3 560.4" fill="none" stroke="#666" stroke-width="0.9"/>
<path d="M810.6 513.7 C812.1 513.6 812.9 512.7 815 513.2 C817.1 513.7 814.8 515.6 816.9 515.2 C819.1 514.9 818.6 512.2 821.4 512.2 C824.2 512.2 823.4 514.9 825.3 515.2 C827.2 515.5 825.5 513.1 827.1 513.2 C828.6 513.2 827.6 514.9 829.9 515.4 C832.2 515.9 831.5 515 834 514.6 C836.5 514.3 835 514 837.5 514.3 C840 514.7 839.3 515.1 841.6 515.7 C844 516.4 842.3 514.5 844.5 516.4 C846.8 518.2 846.4 519.1 848.4 521.2 C850.5 523.3 848.2 522.1 850.7 522.7 C853.2 523.2 853.4 522 855.9 522.8 C858.4 523.6 856.4 523.9 858.3 525 C860.2 526.1 859 525 861.5 526.1 C864.1 527.2 863.9 528.4 865.9 528.3 C867.8 528.2 865.1 525.5 867.3 525.8 C869.5 526 869.9 527.4 872.4 529 C875 530.6 873.4 529.1 874.9 530.6 C876.4 532.2 875 530.8 876.9 533.7 C878.8 536.6 878.6 537.3 880.6 539.2 C882.5 541.1 881.2 539.2 882.8 539.4 C884.4 539.7 882.9 539.2 885.3 539.9 C887.6 540.6 887.9 538.9 889.9 541.5 C891.9 544.2 891.1 544.2 891.3 547.8 C891.4 551.4 890.1 550.4 890.3 552.3 C890.5 554.3 890.8 551.3 891.8 553.6 C892.9 555.9 892.2 556.5 893.3 559.2 C894.5 561.9 894 560.5 895.3 561.7 C896.6 562.9 896.6 562.5 897.3 562.8" fill="none" stroke="#4c4c4c" stroke-width="0.8"/>
<path d="M720.7 576.8 C721.4 577.4 721.1 575 723 578.6 C724.9 582.1 724.4 583.2 726.5 587.5 C728.5 591.8 727.2 589 729 591.6 C730.8 594.2 730.3 592.3 731.9 595.3 C733.5 598.2 733.2 598.7 733.8 600.4" fill="none" stroke="#666" stroke-width="0.9"/>
<path d="M720.5 578.6 C721.2 579.8 721.1 579.8 722.5 582.1 C723.9 584.4 723.6 582.8 724.7 585.4 C725.9 588.1 724.8 587.8 726 590.1 C727.2 592.3 727.3 590.4 728.4 592.3 C729.4 594.2 727.9 592.6 729.2 595.8 C730.5 599 730.7 599.6 732.2 602 C733.8 604.3 733.3 602.5 733.8 602.8" fill="none" stroke="#4c4c4c" stroke-width="0.8"/>
<path d="M706.9 556.9 C708.3 551.1 713.8 557.8 715.6 560.4 C717.3 563 717.3 567.9 717.3 572.6 C717.3 577.2 717.3 584.4 715.6 588.2 C713.8 592 708.3 600.4 706.9 595.2 C705.4 590 705.4 562.7 706.9 556.9Z" fill="#a4a4a4" stroke="#bdbdbd" stroke-width="0.8"/>
<path d="M735.6 555.2 C736.1 549.7 736.7 542.7 739 537.8 C741.4 532.9 744.8 528.7 749.5 525.6 C754.1 522.6 760.2 520.8 766.9 519.5 C773.5 518.2 781.7 518.1 789.5 517.8 C797.3 517.5 806 517.3 813.8 517.8 C821.7 518.2 829.5 518.8 836.4 520.4 C843.4 522 850.3 524.4 855.6 527.3 C860.8 530.2 864.7 533.4 867.7 537.8 C870.8 542.1 872.5 547.9 873.8 553.4 C875.1 558.9 875.6 565.3 875.6 570.8 C875.6 576.3 875.4 581.6 873.8 586.5 C872.2 591.4 869.3 596.6 866 600.4 C862.7 604.2 859 606.8 853.8 609.1 C848.6 611.4 841.9 613.3 834.7 614.3 C827.4 615.3 818.8 615.3 810.3 615.2 C801.9 615 792.1 614.4 784.3 613.4 C776.4 612.4 769.5 611.3 763.4 609.1 C757.3 606.9 751.8 604.2 747.7 600.4 C743.7 596.6 741.1 591.4 739 586.5 C737 581.6 736.1 576 735.6 570.8 C735 565.6 735 560.7 735.6 555.2Z" fill="#a5a5a5" stroke="#c6c6c6" stroke-width="1.1"/>
<path d="M744.3 555.2 C744.4 550 745.4 543.9 747.7 539.5 C750.1 535.2 754.1 531.6 758.2 529.1 C762.2 526.6 767.2 525.2 772.1 524.7 C777 524.3 782.2 525.2 787.7 526.5 C793.2 527.8 803.4 530.7 805.1 532.6 C806.9 534.4 800.5 536 798.2 537.8 C795.9 539.5 793 540.4 791.2 543 C789.5 545.6 787.4 550.5 787.7 553.4 C788 556.3 790.8 558.1 793 560.4 C795.1 562.7 799.2 565.3 800.8 567.3 C802.4 569.4 803.2 570.5 802.5 572.6 C801.8 574.6 798 576.9 796.4 579.5 C794.8 582.1 794.4 585.2 793 588.2 C791.5 591.3 790.1 595.9 787.7 597.8 C785.4 599.7 782.5 600 779 599.5 C775.6 599.1 770.9 597.6 766.9 595.2 C762.8 592.7 758 588.8 754.7 584.7 C751.4 580.7 748.6 575.8 746.9 570.8 C745.1 565.9 744.1 560.4 744.3 555.2Z" fill="#141414" stroke="#5a5a5a" stroke-width="0.5"/>
<path d="M778.4 534.8h0M762.5 549.8h0M774.1 568.9h0M786 570.6h0M786.2 563.6h0M779.6 581.4h0M769.1 549.8h0M791.1 544.4h0M779.9 564.1h0M764.7 575.2h0M772 542.3h0M797.9 537.9h0M753.4 543.7h0M773.4 583.3h0M764.5 542.6h0M784.1 544.2h0M776.1 543.8h0M797.6 538.5h0M758.4 547.3h0M764.3 579.1h0M785.3 583.8h0M777.1 530.6h0M790.7 543h0M757.5 555.7h0M761.7 569.1h0M789.4 560.3h0M774.6 553.2h0M785.5 590.7h0M771.9 552.6h0M755.5 550.7h0M776.3 565.1h0M778.8 581.7h0M774.9 536.7h0M764.4 567.2h0M762.2 584h0M781 588h0M772.6 539h0M789.1 540.6h0M784 559.5h0M760.1 571h0M766.7 560.1h0M782.2 548.5h0M779.6 555.9h0M777.1 559.2h0M754.2 562.8h0M758.6 568.4h0M786.1 550.7h0M778.3 561.9h0M774.5 544.9h0M779.2 572h0M772.4 531.5h0M774.5 560.8h0M761.3 557.8h0M770.2 566.3h0M773.6 546.5h0M765.1 539.4h0M792.8 578h0M762.7 543h0M775.4 550.4h0M792.5 570.4h0M784.9 532.9h0M763.2 538.6h0M786.5 581.4h0M791 583.5h0M797.4 567.3h0M774.2 553.5h0M758.2 573.6h0M791.5 576.7h0M775.7 548.4h0M760.9 538.7h0M783.7 576.1h0M761.3 563.8h0M773.1 580.4h0M759.5 539.6h0M779.6 542.8h0M783.2 555.7h0M769 542.3h0M751.7 557.1h0M786 581.8h0M778 572.7h0M759.5 565.2h0M777.8 545.1h0M788.1 579.1h0M763.7 582.1h0M783.7 577.5h0M772.1 557.1h0M750.7 560.2h0M760.7 576.7h0M770.9 534.3h0M770.2 567.6h0M783.8 575.7h0M787.5 534.4h0M768.1 559.8h0M780 548.3h0M762.8 541.3h0M769.2 554.6h0M792.4 577.7h0M771.6 552.1h0M770.9 558.6h0M763.5 571.4h0M769.3 547.5h0M773.1 590.5h0M771.9 552.9h0M785.1 580.1h0M762.3 578.9h0M785 557.3h0M784 541.6h0M791.2 565.1h0" stroke="#6e6e6e" stroke-width="0.9" stroke-linecap="round" fill="none"/>
<path d="M781.6 560.7L788.1 560.1M781.9 561.1L788.4 561.7M779.5 563.2L779.3 565.8M776.4 562.8L774.8 563.8M780.6 560.4L786.4 557.6M781.2 558.4L782.7 555.9M777 559.6L772.2 557.2" stroke="#8a8a8a" stroke-width="0.6" stroke-linecap="round" fill="none"/>
<path d="M803.4 530 C803.1 527.8 812.4 525.6 817.3 524.7 C822.2 523.9 827.7 523.9 833 524.7 C838.2 525.6 844.3 527.5 848.6 530 C853 532.4 856.3 535.6 859 539.5 C861.8 543.4 864 548.5 865.1 553.4 C866.3 558.4 866.6 564.2 866 569.1 C865.4 574 863.7 578.9 861.7 583 C859.6 587.1 857.2 590.7 853.8 593.4 C850.5 596.2 846 598.7 841.7 599.5 C837.3 600.4 831.5 600.2 827.7 598.7 C824 597.1 821.1 592.9 819 590 C817 587.1 815.3 583.9 815.6 581.3 C815.9 578.7 820.2 577.2 820.8 574.3 C821.4 571.4 818.2 567.9 819 563.9 C819.9 559.8 826 554.3 826 550 C826 545.6 822.8 541.1 819 537.8 C815.3 534.4 803.7 532.1 803.4 530Z" fill="#141414" stroke="#5a5a5a" stroke-width="0.5"/>
<path d="M850.1 568h0M819.1 577.5h0M838.5 565.4h0M852.3 549h0M836.5 561.8h0M859.3 574.3h0M821.5 585h0M829.7 535.6h0M841.3 559.2h0M825.5 581.5h0M846.7 576.4h0M855.3 553.2h0M826.8 573.9h0M819 538h0M853.1 580h0M847.2 549.9h0M833.1 548.2h0M831.1 585.5h0M839.1 570.3h0M824.8 557.6h0M830.4 586.6h0M847.6 540.9h0M837.4 568.4h0M841 589.2h0M845.2 576.8h0M823.6 559.7h0M822.8 569h0M820.2 533.2h0M856.4 559.8h0M835.4 548.1h0M842.4 574.1h0M846.7 562.2h0M829.3 553.9h0M835 559.8h0M836.5 564.6h0M853.3 571.1h0M821.3 539h0M846.2 576.5h0M850 558.7h0M828.3 566.1h0M835.6 547.9h0M857.4 563.4h0M830.7 581.8h0M840.4 568.3h0M837.4 549.9h0M839.6 572h0M844.5 540.8h0M838.4 532.3h0M843.3 544.4h0M854.4 578.9h0M823.5 544.1h0M843.2 570.7h0M838.7 553.4h0M855 543.6h0M848.2 538.6h0M856.3 577.1h0M842.7 553.4h0M848.3 561.6h0M827.4 564.4h0M824.1 535.8h0M840.5 593.1h0M834.7 582h0M838.8 542.6h0M832.7 587.9h0M842.2 580.5h0M851 578.8h0M858.3 553.2h0M856.4 569.7h0M815.3 533.1h0M813.9 537.4h0M836.9 552.8h0M835.2 553.8h0M841.9 539.2h0M859 568.7h0M827.9 565.3h0M827.4 577.7h0M826.7 577.6h0M850.4 583.4h0M849.8 589.5h0M826.1 570h0M839.5 591.3h0M838.7 534.6h0M842.8 545.7h0M823.6 570.1h0M846.8 538.9h0M838.2 550.1h0M848.2 542.1h0M833.5 578.8h0M829.7 548.5h0M828.3 548.1h0M849.8 559.4h0M846.3 536.1h0M829.3 538.4h0M849.1 567.5h0M855 575.9h0M837.7 588.8h0M826.7 533.2h0M836.7 534.3h0M841.2 586.4h0M825 533.7h0M845.4 579.2h0M858.7 566.2h0M839.8 589.3h0M821.4 582.6h0M843 559.8h0M835.3 562.9h0M841.4 575.7h0M835.1 584.9h0M833.7 554.5h0M833.4 551.5h0M828.4 530.7h0" stroke="#6e6e6e" stroke-width="0.9" stroke-linecap="round" fill="none"/>
<path d="M834.5 560.3L832.6 557.2M832.6 562.4L827.3 564.6M833.3 561.9L828.7 563.2M836.4 560.5L839 558.8M836.9 560.1L839.4 558.4M837.5 563.6L840.8 566.6M837.9 562.3L840.7 563.3" stroke="#8a8a8a" stroke-width="0.6" stroke-linecap="round" fill="none"/>
<path d="M793 524.7 C794.7 524.5 799.8 523.9 803.4 523.5 C807 523.1 812.8 522.7 814.7 522.5" fill="none" stroke="#d6d6d6" stroke-width="4.1" stroke-linecap="round" stroke-linejoin="round"/>
<ellipse cx="806" cy="581.3" rx="5.6" ry="6.3" fill="#c6c6c6" stroke="#f0f0f0" stroke-width="2"/>
<path d="M799 594.3 C800.2 594.9 803.7 597.8 806 597.8 C808.3 597.8 811.8 594.9 813 594.3" fill="none" stroke="#f1f1f1" stroke-width="2.7" stroke-linecap="round" stroke-linejoin="round"/>
<path d="M804.3 605.6 L804.3 606.7" fill="none" stroke="#f1f1f1" stroke-width="2.3" stroke-linecap="round" stroke-linejoin="round"/>
<path d="M742.9 550 L744.6 544.7" fill="none" stroke="#f1f1f1" stroke-width="2" stroke-linecap="round" stroke-linejoin="round"/>
<path d="M742.2 569.1 L742.2 563" fill="none" stroke="#f1f1f1" stroke-width="2" stroke-linecap="round" stroke-linejoin="round"/>
<path d="M867.4 563 L866.9 555.2" fill="none" stroke="#f1f1f1" stroke-width="2" stroke-linecap="round" stroke-linejoin="round"/>
<path d="M863.4 545.6 L860.8 540.4" fill="none" stroke="#f1f1f1" stroke-width="1.8" stroke-linecap="round" stroke-linejoin="round"/>
<path d="M856.4 595.2 L863.4 591.7" fill="none" stroke="#f1f1f1" stroke-width="2.3" stroke-linecap="round" stroke-linejoin="round"/>
<path d="M749.5 586.5 C750.6 587.6 754.1 591.4 756.4 593.4 C758.8 595.5 762.2 597.8 763.4 598.7" fill="none" stroke="#f1f1f1" stroke-width="1.6" stroke-linecap="round" stroke-linejoin="round"/>
<path d="M817.3 590 C818.8 591.6 822.5 597.5 826 599.5 C829.5 601.6 834.1 602.4 838.2 602.1 C842.2 601.8 848.3 598.5 850.3 597.8" fill="none" stroke="#f1f1f1" stroke-width="1.8" stroke-linecap="round" stroke-linejoin="round"/>
<path d="M863.4 584.7 L865.1 574.3" fill="none" stroke="#f1f1f1" stroke-width="1.6" stroke-linecap="round" stroke-linejoin="round"/>
<path d="M754.7 532.6 L759.9 529.1" fill="none" stroke="#f1f1f1" stroke-width="1.4" stroke-linecap="round" stroke-linejoin="round"/>
<path d="M775.6 554.3 C776.7 555.3 780.5 558.8 782.5 560.4 C784.6 562 786.9 563.3 787.7 563.9" fill="none" stroke="#c4c4c4" stroke-width="1.8" stroke-linecap="round" stroke-linejoin="round"/>
<path d="M782.5 560.4 C781.9 563 781.1 572.4 779 576 C777 579.7 771.8 581.1 770.3 582.1" fill="none" stroke="#a8a8a8" stroke-width="1.1" stroke-linecap="round" stroke-linejoin="round"/>
<ellipse cx="827.7" cy="568.2" rx="3.1" ry="3.1" fill="#222" stroke="#f0f0f0" stroke-width="2"/>
<path d="M831.2 563.9 L845.1 546.5" fill="none" stroke="#a0a0a0" stroke-width="0.9" stroke-linecap="round" stroke-linejoin="round"/>
</g>
<path d="M791 619.6 L793.6 603.5 L796.3 603.9 L792.4 595.5 L786.2 602.3 L788.8 602.7 L786.2 618.8Z" fill="#fff"/>
</g>
<rect x="72.7" y="677.2" width="197.8" height="148.4" fill="#020202"/>
<g clip-path="url(#ct5)"><g filter="url(#fct)">
<path d="M77.5 781.6 Q171.9 824.3 267 784.4 L267 804.6 Q171.9 843.1 77.5 800.9Z" fill="#171717"/>
<path d="M77.5 781.6 Q171.9 824.3 267 784.4" fill="none" stroke="#161616" stroke-width="5" transform="translate(0 -4)"/>
<path d="M77.5 781.6 Q171.9 824.3 267 784.4" fill="none" stroke="#6f6f6f" stroke-width="0.8" transform="translate(0 -6)"/>
<path d="M77.5 781.6 Q171.9 824.3 267 784.4" fill="none" stroke="#d6d6d6" stroke-width="1.2"/>
<path d="M77.5 800.9 Q171.9 843.1 267 804.6" fill="none" stroke="#f6f6f6" stroke-width="1.5"/>
<path d="M79.2 707.7 C80.5 707.7 80 709.5 83.2 707.8 C86.3 706 84.9 704.8 88.7 702.5 C92.6 700.1 91.7 701 94.7 700.8 C97.7 700.6 94.8 701.6 97.8 701.8 C100.8 702.1 99.9 703.2 103.8 701.5 C107.6 699.8 106.6 698 109.4 696.6 C112.3 695.3 109.5 698 112.4 697.4 C115.3 696.7 114.3 696.1 118.1 694.7 C121.9 693.3 120.6 694.3 123.9 693.1 C127.2 692 124.8 690.9 128 691.3 C131.1 691.7 130.2 694.7 133.4 694.3 C136.5 693.9 134.4 691 137.3 690.1 C140.3 689.2 138.9 692.2 142.3 691.7 C145.8 691.2 144.4 689.1 147.6 688.5 C150.9 687.9 148.9 687.8 152.1 689.9 C155.3 692 153.6 693.9 157.3 694.7 C161 695.5 159.8 692.6 163.2 692.2 C166.7 691.9 164.6 692.3 167.6 693.5 C170.6 694.7 168.4 695.6 172.2 695.8 C176.1 696.1 175.3 694.1 179.1 694.2 C183 694.3 180.2 695.8 183.8 696.2 C187.5 696.6 186.6 696.2 190.1 695.4 C193.5 694.7 190.6 693.7 194.1 694 C197.6 694.2 198.4 695.5 200.6 696.2" fill="none" stroke="#666" stroke-width="0.9"/>
<path d="M78.4 711.7 C79.9 711 80.4 711.2 83 709.5 C85.6 707.8 84.2 706.8 86.3 706.7 C88.4 706.6 86.7 710.4 89.4 709.1 C92.1 707.9 91.4 704.5 94.3 703 C97.3 701.5 95.9 704.1 98.3 704.6 C100.8 705.1 99.4 704.7 101.7 704.5 C104.1 704.3 102.6 705.4 105.4 704 C108.2 702.5 107.6 701.7 110.1 700.1 C112.6 698.4 110.9 699.6 112.8 699 C114.7 698.3 113.4 698.6 115.8 698 C118.3 697.3 117.8 696.7 120.2 697 C122.6 697.3 120.4 699 123 699 C125.6 699 125 698.6 128 697.1 C130.9 695.5 129.5 695.9 131.8 694.4 C134.1 693 132.9 693.9 134.9 692.7 C136.8 691.5 135 690.2 137.6 690.9 C140.2 691.6 140.2 694.4 142.7 694.8 C145.1 695.3 143.1 693.4 144.9 692.3 C146.7 691.2 145.2 690.1 148 691.6 C150.8 693 150.8 696 153.2 696.6 C155.6 697.3 152.7 694.4 155.3 693.5 C157.8 692.7 157.7 693.4 160.9 694 C164.1 694.6 162.8 695 164.9 695.4 C167.1 695.8 165.5 694.8 167.4 695.2 C169.3 695.6 168.3 695.5 170.6 696.7 C172.8 697.9 172 698.1 174.2 698.7 C176.4 699.2 174.2 699 177.1 698.4 C180.1 697.7 180.5 697.6 183.1 696.7 C185.7 695.9 183.2 694.7 185 695.7 C186.7 696.8 185.4 699.9 188.3 699.9 C191.1 699.8 190.7 695.8 193.5 695.5 C196.3 695.3 194.4 698.1 196.7 699.1 C199.1 700.2 199.3 698.9 200.6 698.8" fill="none" stroke="#4c4c4c" stroke-width="0.8"/>
<path d="M200.1 694 C202 695 201.7 695.5 205.9 697 C210.1 698.5 208.6 696.7 212.7 698.5 C216.8 700.3 214.7 701.8 218.1 702.4 C221.5 703 219.2 700.6 222.8 700.3 C226.4 700 225 701.4 228.8 701.6 C232.7 701.8 230.9 700.9 234.4 701 C237.9 701.1 235.6 700.9 239.4 701.9 C243.1 702.9 241.7 703 245.7 704.1 C249.6 705.1 247.6 704.4 251.2 705 C254.9 705.5 253.6 705.5 256.7 705.7 C259.9 705.9 257.9 705.2 260.6 705.7 C263.3 706.2 263.4 706.7 264.8 707.2" fill="none" stroke="#666" stroke-width="0.9"/>
<path d="M201.4 699.8 C202.1 699.8 201.2 699.6 203.5 700 C205.8 700.4 205 700 208.2 701 C211.3 702 210.2 701.8 213 703 C215.8 704.3 213.8 705.1 216.5 704.7 C219.2 704.2 219 702.4 221.2 701.6 C223.4 700.9 221.2 700 223.1 702.4 C225.1 704.8 224.4 707.8 227.1 708.8 C229.8 709.8 228.5 706.4 231.2 705.4 C234 704.4 232.9 705.3 235.4 705.8 C237.8 706.2 236.2 706.3 238.5 706.7 C240.8 707 239.3 708.4 242.3 706.7 C245.3 704.9 244.7 702.6 247.4 701.4 C250 700.1 247.8 702.1 250.3 703 C252.8 703.9 252.8 701.9 254.9 704 C257.1 706 254.6 707.3 256.8 709.2 C259 711.1 258.8 709.5 261.4 709.7 C264.1 709.9 263.7 709.8 264.8 709.8" fill="none" stroke="#4c4c4c" stroke-width="0.8"/>
<path d="M73.8 716.4 C77.5 708.8 88.5 715.3 95.9 714.6 C103.2 713.8 110.6 713 117.9 711.8 C125.3 710.6 132.9 708.3 140 707.2 C147 706.1 153.1 705.5 160.2 705.4 C167.2 705.2 174.8 705.7 182.2 706.3 C189.5 706.9 197.2 708 204.2 709.1 C211.3 710.1 217.4 711.7 224.4 712.7 C231.5 713.8 238.8 714.4 246.5 715.5 C254.1 716.6 266.4 710.7 270.3 719.2 C274.3 727.6 273.4 757 270.3 766 C267.3 775 258.7 771 252 773.3 C245.2 775.6 237.9 778.2 229.9 779.8 C222 781.3 213.4 781.9 204.2 782.5 C195 783.1 184.6 783.7 174.8 783.4 C165.1 783.1 154.6 781.9 145.5 780.7 C136.3 779.5 127.7 778.2 119.8 776.1 C111.8 773.9 105.4 770.4 97.7 767.8 C90.1 765.2 77.8 769.1 73.8 760.5 C69.9 751.9 70.2 724.1 73.8 716.4Z" fill="#a5a5a5" stroke="#c6c6c6" stroke-width="1.1"/>
<path d="M124.3 736.6 C125.4 734 127.9 730.3 130.8 728.3 C133.7 726.4 138.1 725.6 141.8 724.7 C145.5 723.8 149.7 722.4 152.8 722.8 C155.9 723.3 157.4 726 160.2 727.4 C162.9 728.8 166.9 729.6 169.3 731.1 C171.8 732.6 175.2 734.6 174.8 736.6 C174.5 738.6 169.6 740.6 167.5 743 C165.4 745.5 163.5 748.8 162 751.3 C160.5 753.7 160.5 756 158.3 757.7 C156.2 759.4 152.5 761.2 149.1 761.4 C145.8 761.6 141.5 760.3 138.1 758.6 C134.7 757 131.2 753.7 128.9 751.3 C126.6 748.8 125.1 746.4 124.3 744 C123.6 741.5 123.3 739.2 124.3 736.6Z" fill="#141414" stroke="#5a5a5a" stroke-width="0.5"/>
<path d="M145.2 742.9h0M134.6 740.7h0M137.3 748.9h0M134.3 743.4h0M143.5 729h0M132.7 731.8h0M148.3 727.7h0M142.1 732.1h0M157.1 750.6h0M163.5 739.7h0M147.4 740.9h0M143 740.4h0M159 750.3h0M140.8 744.7h0M143.9 736.7h0M140.3 737.1h0M140.1 728.1h0M154.2 755.2h0M143.6 729.6h0M163 731.7h0M140.3 752.5h0M161.6 734.5h0M147.2 736.5h0M148.2 753.4h0M137.6 754.1h0M130.5 734.5h0M146.7 755.2h0M158.7 730.7h0M138.8 734.1h0M154.4 754.4h0M161.3 736h0M151.9 738.3h0M152.9 734.1h0M141.3 741.8h0M143.4 733.2h0M142.5 739.9h0M152.4 741.9h0M141.7 751.8h0M149.8 753.4h0M147.7 743.4h0M153.6 743.1h0M155.5 745.9h0M148.3 737.3h0M152.8 728.4h0M162.4 741.7h0M161.5 734.7h0" stroke="#6e6e6e" stroke-width="0.9" stroke-linecap="round" fill="none"/>
<path d="M149.5 740.5L153.3 737.8M148.4 738.2L147.8 734M148.5 742L147.4 747.8M148.6 740.1L147.6 733.4M147.7 740.9L141.5 740M148.1 742L143.8 747.5M150 740.6L155.4 738.8" stroke="#8a8a8a" stroke-width="0.6" stroke-linecap="round" fill="none"/>
<path d="M184 736.6 C185.3 734.9 187.4 731.8 189.5 730.2 C191.7 728.6 193.8 726.9 196.9 727.1 C199.9 727.2 204.5 729.4 207.9 731.1 C211.3 732.8 214.8 735.1 217.1 737.5 C219.4 740 221.1 742.9 221.7 745.8 C222.3 748.7 222.1 752.4 220.8 755 C219.4 757.6 216.5 760 213.4 761.4 C210.4 762.8 205.8 763.5 202.4 763.2 C199 762.9 195.7 761.2 193.2 759.6 C190.8 757.9 188.9 755.4 187.7 753.1 C186.5 750.8 186.8 747.9 185.9 745.8 C184.9 743.6 182.5 741.8 182.2 740.3 C181.9 738.7 182.8 738.3 184 736.6Z" fill="#141414" stroke="#5a5a5a" stroke-width="0.5"/>
<path d="M193 751.4h0M186.5 739.1h0M198.4 744.2h0M199.4 748.6h0M191.2 735.9h0M200.3 750.3h0M206.1 739.7h0M191.6 735.8h0M210.5 744.2h0M211.7 754.8h0M202.3 736.9h0M202.9 751h0M195 750.2h0M190.5 735.2h0M211.1 757.3h0M201.5 759.4h0M208.9 751.1h0M209.6 740.4h0M217.7 753.2h0M213.9 743.8h0M190.3 743.4h0M209.1 746.9h0M197.9 735.9h0M191.1 735.1h0M198.6 752.2h0M206.2 753.5h0M206.4 739.9h0M208.6 749h0M206.5 750.2h0M216.3 749.2h0M215 749.7h0M215.9 755h0M197.8 737h0M194.3 741.3h0" stroke="#6e6e6e" stroke-width="0.9" stroke-linecap="round" fill="none"/>
<path d="M202.2 746.7L205.3 749.1M200.9 743.6L203.4 737.6M201.1 747.1L202.3 749.7M202.1 745.3L209.6 745.8M199.6 747L198.2 751M199.9 747.2L199.7 749.4M199.1 746.3L194.9 751" stroke="#8a8a8a" stroke-width="0.6" stroke-linecap="round" fill="none"/>
<ellipse cx="174.5" cy="729.6" rx="3.5" ry="3.7" fill="#060606"/>
<ellipse cx="88.9" cy="730.2" rx="9.2" ry="10.1" fill="#cfcfcf" stroke="#f0f0f0" stroke-width="2.4"/>
<path d="M96.2 744.9 C97.3 743.4 100.3 735.8 102.3 736.2 C104.3 736.7 109.4 746.2 108.4 747.6 C107.4 749.1 98.3 745.3 96.2 744.9" fill="none" stroke="#f1f1f1" stroke-width="2.9" stroke-linecap="round" stroke-linejoin="round"/>
<path d="M108.4 747.6 C110.6 749.8 116.6 756.8 121.6 760.5 C126.5 764.2 135.4 768.1 138.1 769.7" fill="none" stroke="#f1f1f1" stroke-width="1.7" stroke-linecap="round" stroke-linejoin="round"/>
<ellipse cx="159.8" cy="714.6" rx="4.8" ry="4.8" fill="#d5d5d5" stroke="#f0f0f0" stroke-width="2.1"/>
<ellipse cx="175.8" cy="712.7" rx="8.4" ry="3.3" fill="#c6c6c6" stroke="#f0f0f0" stroke-width="2.1"/>
<ellipse cx="192.3" cy="718.2" rx="6.6" ry="3.7" fill="#c6c6c6" stroke="#f0f0f0" stroke-width="2.1"/>
<path d="M139 723.4 C140.1 722.8 143.5 720.9 145.5 720.1 C147.5 719.3 150.1 718.9 151 718.6" fill="none" stroke="#f1f1f1" stroke-width="2.6" stroke-linecap="round" stroke-linejoin="round"/>
<ellipse cx="124.3" cy="729.3" rx="2.2" ry="3.3" fill="#c6c6c6" stroke="#f0f0f0" stroke-width="1.4"/>
<ellipse cx="174.8" cy="746.7" rx="5.9" ry="5.1" fill="#c6c6c6" stroke="#f0f0f0" stroke-width="2.4"/>
<path d="M167.5 756.8 C168.7 757.3 172.2 759.6 174.8 759.6 C177.4 759.6 181.7 757.3 183.1 756.8" fill="none" stroke="#f1f1f1" stroke-width="2.9" stroke-linecap="round" stroke-linejoin="round"/>
<path d="M174.8 759.6 L173.9 773" fill="none" stroke="#f1f1f1" stroke-width="2.6" stroke-linecap="round" stroke-linejoin="round"/>
<path d="M124.3 750.4 C125.7 752.1 129.1 758 132.6 760.5 C136.1 762.9 141.2 764.8 145.5 765.1 C149.7 765.4 155.9 762.8 158 762.3" fill="none" stroke="#f1f1f1" stroke-width="1.9" stroke-linecap="round" stroke-linejoin="round"/>
<path d="M189.5 761.4 C192 762.2 199.6 766.1 204.2 766.4 C208.8 766.7 213.9 764.6 217.1 763.2 C220.3 761.9 222.4 759.1 223.5 758.3" fill="none" stroke="#f1f1f1" stroke-width="1.9" stroke-linecap="round" stroke-linejoin="round"/>
<ellipse cx="226.3" cy="743.2" rx="2.6" ry="3.3" fill="#c6c6c6" stroke="#f0f0f0" stroke-width="1.7"/>
<ellipse cx="255.7" cy="739.4" rx="5.5" ry="5.5" fill="#dedede" stroke="#f0f0f0" stroke-width="2.1"/>
<path d="M249.2 746.7 C248 747.5 243.3 748.7 241.9 751.3 C240.5 753.9 241.6 759 241 762.3 C240.4 765.7 238.7 770 238.2 771.5" fill="none" stroke="#f1f1f1" stroke-width="3.3" stroke-linecap="round" stroke-linejoin="round"/>
<path d="M234.5 759 C232.5 760.5 226.1 765 222.6 767.8 C219.1 770.7 214.9 774.7 213.4 776.1" fill="none" stroke="#f1f1f1" stroke-width="1.9" stroke-linecap="round" stroke-linejoin="round"/>
<path d="M204.2 726.5 C205.5 727.3 209.7 729.7 211.6 731.1 C213.4 732.5 214.6 734.2 215.3 734.8" fill="none" stroke="#f1f1f1" stroke-width="1.9" stroke-linecap="round" stroke-linejoin="round"/>
<path d="M161.1 760.8 L162 764.2" fill="none" stroke="#f1f1f1" stroke-width="2.4" stroke-linecap="round" stroke-linejoin="round"/>
<path d="M187.7 762.3 L189.5 765.1" fill="none" stroke="#f1f1f1" stroke-width="2.4" stroke-linecap="round" stroke-linejoin="round"/>
</g>
</g>
<rect x="283.6" y="677.2" width="197.2" height="148.4" fill="#020202"/>
<g clip-path="url(#ct6)"><g filter="url(#fct)">
<path d="M288.4 779.8 Q382.8 824.3 478 782.5 L478 802.7 Q382.8 842.7 288.4 800Z" fill="#171717"/>
<path d="M288.4 779.8 Q382.8 824.3 478 782.5" fill="none" stroke="#161616" stroke-width="5" transform="translate(0 -4)"/>
<path d="M288.4 779.8 Q382.8 824.3 478 782.5" fill="none" stroke="#6f6f6f" stroke-width="0.8" transform="translate(0 -6)"/>
<path d="M288.4 779.8 Q382.8 824.3 478 782.5" fill="none" stroke="#d6d6d6" stroke-width="1.2"/>
<path d="M288.4 800 Q382.8 842.7 478 802.7" fill="none" stroke="#f6f6f6" stroke-width="1.5"/>
<path d="M293.7 711.9 C294.6 710.7 294.3 712.3 296.5 708.5 C298.6 704.7 298.2 703.4 300 700.5 C301.8 697.6 299.6 700.9 301.8 699.7 C304 698.4 303.4 699.2 306.7 696.7 C310 694.2 308.5 693.1 311.8 692.2 C315.1 691.3 313.2 694.3 316.5 693.9 C319.9 693.5 318 691.6 321.9 691 C325.7 690.5 324.8 691.3 328 692.3 C331.2 693.3 328.5 695.1 331.6 694 C334.6 693 333.3 690.7 337.1 689.2 C340.9 687.7 339.7 689.5 343 689.5 C346.4 689.6 343.7 689.5 347.1 689.3 C350.6 689.1 349.4 688.3 353.3 688.9 C357.1 689.6 354.8 690.7 358.6 691.3 C362.4 691.9 360.9 692.1 364.6 690.7 C368.3 689.4 366.6 688.1 369.6 687.2 C372.7 686.3 372.4 687.7 373.8 687.9" fill="none" stroke="#666" stroke-width="0.9"/>
<path d="M294 711.1 C294.6 709.9 294.8 708.2 295.8 707.7 C296.8 707.1 295.7 710.4 297 709.5 C298.3 708.5 297.5 708.9 299.6 704.8 C301.8 700.8 301 700.8 303.4 697.3 C305.8 693.8 304.3 694 306.7 694.4 C309.2 694.7 308.5 697.9 310.7 698.4 C312.8 699 311.6 696.4 313.2 695.9 C314.8 695.4 313.5 697.1 315.5 697 C317.5 696.9 315.9 695.9 319.2 695.6 C322.5 695.3 323 696 325.5 696.1 C328 696.3 324.6 697 326.8 696 C329 695.1 329.1 693.9 332.2 693.4 C335.3 692.8 333.9 694.3 336.1 694.5 C338.2 694.6 336.7 694.6 338.7 693.8 C340.6 693 339 692.6 341.9 692 C344.9 691.4 344.6 692.1 347.7 692 C350.7 692 349.3 692.7 351.2 691.8 C353.1 690.9 350.6 688.8 353.4 689.3 C356.2 689.8 356.2 692.4 359.6 693.4 C363 694.3 361.8 693.4 363.5 692.1 C365.3 690.7 363 689.4 364.7 689.2 C366.4 689 365.6 691.1 368.6 691.5 C371.6 691.9 372.1 690.8 373.8 690.5" fill="none" stroke="#4c4c4c" stroke-width="0.8"/>
<path d="M374.1 690.1 C375.7 689.4 375.5 688.4 378.9 687.9 C382.2 687.5 380.7 687.6 384.2 688.8 C387.6 690.1 385.4 690.6 389.2 691.8 C393.1 693 391.3 691.9 395.7 692.4 C400.1 693 398.5 692.4 402.5 693.5 C406.4 694.5 404.7 695.3 407.7 695.6 C410.7 695.9 407.9 693 411.4 694.3 C414.9 695.6 414.5 697.7 418.2 699.5 C421.8 701.3 419 699.3 422.3 699.7 C425.7 700.2 424.3 701 428.3 700.8 C432.3 700.6 431.2 701.2 434.3 699.1 C437.4 697.1 434.3 695.5 437.5 694.6 C440.7 693.6 440.2 697 443.8 696.4 C447.4 695.7 446 693.5 448.3 692.7 C450.6 692 447.8 693.4 450.8 694 C453.9 694.7 454.2 693.8 457.5 694.7 C460.7 695.7 457.5 694.9 460.6 696.8 C463.6 698.7 463.7 698.5 466.6 700.4 C469.5 702.3 466.5 700.9 469.2 702.6 C472 704.2 473 704.4 474.8 705.4" fill="none" stroke="#666" stroke-width="0.9"/>
<path d="M373 690.1 C374.7 690.9 375.6 691.5 378.1 692.4 C380.6 693.2 378.4 692.4 380.5 692.5 C382.6 692.7 381 692.8 384.3 692.9 C387.6 693 387.1 692.6 390.5 692.8 C393.8 693 392.2 691.9 394.5 693.6 C396.7 695.2 395.3 696.5 397.1 697.7 C398.9 699 397.2 696.8 399.9 697.3 C402.7 697.7 401.9 698.2 405.4 699 C409 699.8 408.2 700.1 410.6 699.7 C412.9 699.2 410.2 697.8 412.4 697.5 C414.5 697.2 414.1 698.5 417.1 698.8 C420 699.1 418.4 697.7 421.2 698.5 C424 699.3 423.4 700.6 425.6 701.2 C427.7 701.8 424.8 699.6 427.6 700.2 C430.4 700.8 430.6 703.5 433.9 703 C437.1 702.6 434.9 701.2 437.4 698.9 C439.9 696.5 439.1 696 441.4 696.1 C443.7 696.2 442.6 700.5 444.3 699.2 C446 697.9 444.6 693.8 446.4 692.2 C448.2 690.6 446.8 692 449.6 694.3 C452.5 696.5 452.4 697.8 455.1 698.9 C457.7 700.1 455.4 697.5 457.6 697.7 C459.7 697.8 459.5 697.4 461.5 699.4 C463.4 701.4 461.1 701.3 463.4 703.7 C465.7 706.1 465.4 706.3 468.4 706.5 C471.3 706.7 470.2 703.7 472.4 704.2 C474.5 704.7 474 706.7 474.8 708" fill="none" stroke="#4c4c4c" stroke-width="0.8"/>
<path d="M284.8 715.5 C288.3 707.7 299.3 714.1 305.9 712.7 C312.5 711.4 318.1 709.1 324.2 707.2 C330.4 705.4 335.9 703.1 342.6 701.7 C349.3 700.3 357 699.3 364.6 699 C372.3 698.6 380.9 699 388.5 699.5 C396.2 700 403.2 700.6 410.6 701.7 C417.9 702.8 425.6 704.5 432.6 706.3 C439.6 708.1 446.7 710.3 452.8 712.7 C458.9 715.2 464.6 718.2 469.3 721 C474.1 723.8 479.3 722.1 481.3 729.3 C483.3 736.5 483.9 756.8 481.3 764.2 C478.7 771.5 471.3 770.7 465.7 773.3 C460 775.9 454.6 778.1 447.3 779.8 C439.9 781.4 430.8 782.7 421.6 783.4 C412.4 784.2 402 784.5 392.2 784.4 C382.4 784.2 372 783.6 362.8 782.5 C353.6 781.4 345.4 780.1 337.1 777.9 C328.8 775.8 320.3 772.3 313.2 769.7 C306.2 767.1 299.6 764 294.9 762.3 C290.1 760.6 286.4 767.4 284.8 759.6 C283.1 751.8 281.2 723.3 284.8 715.5Z" fill="#a5a5a5" stroke="#c6c6c6" stroke-width="1.1"/>
<path d="M330.1 731.1 C330.6 727.7 331.6 723.3 333.4 720.1 C335.2 716.9 337.4 714 340.8 711.8 C344.1 709.7 349.6 707.5 353.6 707.2 C357.6 706.9 361.6 708.6 364.6 710 C367.7 711.4 371.1 713.5 372 715.5 C372.9 717.5 369.2 720.1 370.2 721.9 C371.1 723.8 375.8 724.4 377.5 726.5 C379.2 728.6 378.7 732.6 380.3 734.8 C381.8 736.9 386.8 737.8 386.7 739.4 C386.5 740.9 381.5 742 379.3 744 C377.2 745.9 375.4 748.8 373.8 751.3 C372.3 753.7 372.6 756.7 370.2 758.6 C367.7 760.6 363.1 763.1 359.1 763.2 C355.2 763.4 350.1 761.7 346.3 759.6 C342.5 757.4 338.8 753.6 336.2 750.4 C333.6 747.2 331.7 743.5 330.7 740.3 C329.7 737.1 329.7 734.5 330.1 731.1Z" fill="#141414" stroke="#5a5a5a" stroke-width="0.5"/>
<path d="M347.3 715.3h0M375.8 734.6h0M342.3 726.6h0M346.5 731.4h0M358.7 715.4h0M356.2 711.7h0M353.7 753h0M356 731.9h0M362.3 730.1h0M338.3 732.9h0M334.6 731h0M364.6 755.8h0M361.4 716.2h0M363.2 743.4h0M341.4 731.4h0M363.6 721.8h0M341.8 718.7h0M362.7 721h0M364.4 723.4h0M344.7 743.5h0M347.7 713.6h0M363 725.4h0M351.6 739.1h0M344.1 743.2h0M350.9 731.5h0M378 737.9h0M359.4 741.2h0M361.4 745.2h0M361.7 738.2h0M355 756.9h0M362.6 736.3h0M355.8 717.2h0M343 722.8h0M341.6 718.1h0M334.6 736.5h0M339.8 743.2h0M364.1 742.2h0M357.3 741.5h0M346.8 733.2h0M369.1 719.3h0M371.6 740h0M361.2 750.3h0M346.4 728.1h0M354.6 748.4h0M365.3 728.8h0M363.6 747.5h0M365 751.1h0M354.8 748.8h0M364.3 742.7h0M361.1 744.6h0M368.3 746.6h0M357.3 716.5h0M359 727.3h0M340.1 747.1h0M339.7 736.2h0M355.5 742.9h0M356.1 716.4h0M350.2 731.9h0M360.6 733.6h0M361.4 751.6h0M364 725.3h0M345.5 737.9h0M366.8 734.5h0M346.4 716.2h0M343.2 731.7h0M354 740.9h0M345.4 742h0M356.9 751.8h0M349.1 721.5h0M370.4 731.7h0M368.8 721.6h0M352.8 739.6h0M359.7 737.9h0M340.1 735h0M366.8 755.1h0" stroke="#6e6e6e" stroke-width="0.9" stroke-linecap="round" fill="none"/>
<path d="M356 732.8L352.1 730.8M359.2 736.1L359.6 740.4M362 736.4L364.8 738.2M359.9 736.3L361.9 741.3M358.7 736.6L358.3 738.8M359.2 735.7L359.5 740.5M358.5 733.2L355.9 728.2" stroke="#8a8a8a" stroke-width="0.6" stroke-linecap="round" fill="none"/>
<path d="M395.9 720.1 C396.8 717.9 399.8 715.6 403.2 714.6 C406.6 713.5 411.8 712.9 416.1 713.6 C420.4 714.4 425.3 716.9 428.9 719.2 C432.6 721.5 435.7 724.2 438.1 727.4 C440.6 730.6 442.9 734.8 443.6 738.4 C444.4 742.1 443.9 746.1 442.7 749.5 C441.5 752.8 439.2 756.2 436.3 758.6 C433.4 761.1 429.2 763.1 425.3 764.2 C421.3 765.2 416.4 765.8 412.4 765.1 C408.4 764.3 404.4 761.9 401.4 759.6 C398.3 757.3 395.7 754.1 394 751.3 C392.3 748.5 391 745.8 391.3 743 C391.6 740.3 394.8 737.4 395.9 734.8 C396.9 732.2 397.7 729.9 397.7 727.4 C397.7 725 394.9 722.2 395.9 720.1Z" fill="#141414" stroke="#5a5a5a" stroke-width="0.5"/>
<path d="M421.9 752.3h0M418 722.8h0M395.7 741.5h0M401.5 727.2h0M431.4 736.6h0M399 748.6h0M414.6 741.3h0M428.1 756.8h0M398 739.7h0M400.9 742.5h0M414 755.6h0M431.5 739h0M412.2 720h0M427.3 729.9h0M418.8 732h0M411.8 753.4h0M418.1 721.2h0M429.6 726.7h0M412.4 726.4h0M422.5 735.8h0M427.1 735.5h0M432.3 742h0M396.8 739h0M404.5 729h0M402.9 720.2h0M403.5 753.7h0M417.9 754.8h0M422.9 740.7h0M401.1 740.6h0M422.5 737.3h0M424.6 742.7h0M425.1 734.8h0M435.3 741h0M434.6 753.4h0M427.4 742h0M404.2 718.9h0M425.9 726.4h0M423.3 741.9h0M423.1 735.7h0M403.8 729.3h0M408 729.8h0M414.7 735.7h0M424.4 752.5h0M431.5 755.3h0M414.8 736.6h0M425.4 729.8h0M434.7 735.1h0M420.4 740.4h0M405.8 738.1h0M432.7 728h0M400.6 739.6h0M417.2 755.7h0M406.4 747.9h0M422 750.3h0M429.1 742.9h0M406.6 742h0M402 752.8h0M424.2 757.6h0M420.1 726.8h0M415.9 737.6h0M409.7 743.5h0M418.8 751.6h0M412.3 760h0M423.1 747.5h0" stroke="#6e6e6e" stroke-width="0.9" stroke-linecap="round" fill="none"/>
<path d="M414 742L413.3 744.4M415.8 738L420.3 732.7M414.2 738L411.3 732.8M416 740.5L418.7 743.7M413.8 740.6L411.9 743.1M413.8 739.7L407.6 743.3M412.9 741.1L410.5 743.7" stroke="#8a8a8a" stroke-width="0.6" stroke-linecap="round" fill="none"/>
<ellipse cx="384.3" cy="730.7" rx="4" ry="4.4" fill="#060606"/>
<path d="M362.8 707.6 C364.6 707.2 369.8 705.8 373.8 705.4 C377.8 705 382.1 705.1 386.7 705.4 C391.3 705.7 397 706.4 401.4 707.2 C405.7 708.1 410.9 710 412.8 710.5" fill="none" stroke="#f1f1f1" stroke-width="3.6" stroke-linecap="round" stroke-linejoin="round"/>
<ellipse cx="385.8" cy="748.5" rx="5.5" ry="5.9" fill="#e6e6e6" transform="rotate(0 385.8 748.5)"/>
<path d="M378.4 760.5 C379.5 760.9 382.6 763.2 384.8 763.2 C387.1 763.2 391 760.9 392.2 760.5" fill="none" stroke="#f1f1f1" stroke-width="2.6" stroke-linecap="round" stroke-linejoin="round"/>
<path d="M384.8 763.2 L384.8 774.3" fill="none" stroke="#f1f1f1" stroke-width="2.4" stroke-linecap="round" stroke-linejoin="round"/>
<path d="M331.2 745.8 C332.2 747.6 333.7 753.5 337.1 756.8 C340.5 760.1 346.6 764 351.8 765.6 C357 767.2 365.6 766.2 368.3 766.4" fill="none" stroke="#f1f1f1" stroke-width="1.9" stroke-linecap="round" stroke-linejoin="round"/>
<path d="M399.5 766.4 C402.6 766.8 412.4 769.1 417.9 768.7 C423.4 768.4 428.6 766.4 432.6 764.2 C436.6 761.9 440.6 756.5 442.1 755" fill="none" stroke="#f1f1f1" stroke-width="1.9" stroke-linecap="round" stroke-linejoin="round"/>
<path d="M316 752.2 C318.3 753.9 324.3 758.9 329.8 762.3 C335.2 765.7 345.4 771 348.5 772.8" fill="none" stroke="#f1f1f1" stroke-width="2.6" stroke-linecap="round" stroke-linejoin="round"/>
<path d="M463.8 748.5 C461.7 749.9 454.9 753 451 756.8 C447 760.6 443.9 768.2 439.9 771.5 C436 774.8 429.2 775.8 427.1 776.6" fill="none" stroke="#f1f1f1" stroke-width="2.6" stroke-linecap="round" stroke-linejoin="round"/>
<ellipse cx="295.2" cy="728.3" rx="5.5" ry="5.9" fill="#a8a8a8" stroke="#f0f0f0" stroke-width="1.9"/>
<path d="M326.6 734.8 L326.6 728.3" fill="none" stroke="#f1f1f1" stroke-width="1.9" stroke-linecap="round" stroke-linejoin="round"/>
<path d="M445.8 742.1 L445.8 735.7" fill="none" stroke="#f1f1f1" stroke-width="1.9" stroke-linecap="round" stroke-linejoin="round"/>
<path d="M428.9 718.2 L438.1 725.6" fill="none" stroke="#f1f1f1" stroke-width="2.1" stroke-linecap="round" stroke-linejoin="round"/>
<path d="M340.8 710.9 L346.3 707.2" fill="none" stroke="#f1f1f1" stroke-width="1.4" stroke-linecap="round" stroke-linejoin="round"/>
<path d="M372 764.2 L372.9 766.4" fill="none" stroke="#f1f1f1" stroke-width="2.1" stroke-linecap="round" stroke-linejoin="round"/>
<path d="M397.7 765.1 L399.5 767.3" fill="none" stroke="#f1f1f1" stroke-width="2.1" stroke-linecap="round" stroke-linejoin="round"/>
</g>
</g>
<rect x="495" y="677.3" width="197.2" height="148.2" fill="#020202"/>
<g clip-path="url(#ct7)"><g filter="url(#fct)">
<path d="M501.3 780.7 Q593.9 825.2 687.2 783.4 L687.2 803.6 Q593.9 843.6 501.3 800.9Z" fill="#171717"/>
<path d="M501.3 780.7 Q593.9 825.2 687.2 783.4" fill="none" stroke="#161616" stroke-width="5" transform="translate(0 -4)"/>
<path d="M501.3 780.7 Q593.9 825.2 687.2 783.4" fill="none" stroke="#6f6f6f" stroke-width="0.8" transform="translate(0 -6)"/>
<path d="M501.3 780.7 Q593.9 825.2 687.2 783.4" fill="none" stroke="#d6d6d6" stroke-width="1.2"/>
<path d="M501.3 800.9 Q593.9 843.6 687.2 803.6" fill="none" stroke="#f6f6f6" stroke-width="1.5"/>
<path d="M513.5 714.5 C514.8 713.3 514.4 713.1 517.4 710.7 C520.5 708.3 519.7 710.3 522.5 707.4 C525.4 704.6 523.5 705.5 525.9 702.2 C528.3 698.8 526.5 699 529.7 697.4 C532.9 695.8 532.1 697.6 535.6 697.3 C539 697.1 536.8 697.8 540 696.6 C543.3 695.4 541.6 694.5 545.5 693.7 C549.3 693 547.7 695.7 551.7 694.4 C555.6 693.1 553.6 691.6 557.3 689.8 C560.9 688 559.1 689.4 562.6 688.9 C566.1 688.5 564.1 688.5 567.7 688.4 C571.4 688.3 570.5 688.8 573.4 688.6 C576.4 688.4 573.4 688.1 576.7 687.9 C580 687.8 580 687.8 583.2 688.1 C586.5 688.5 583.4 688.1 586.4 689 C589.5 690 588.9 691 592.4 691 C595.8 690.9 595.3 689.6 596.8 688.9" fill="none" stroke="#666" stroke-width="0.9"/>
<path d="M511.1 714.3 C512.8 713.8 513.4 713.8 516.1 712.8 C518.7 711.9 517.6 713.9 519 711.4 C520.5 708.9 518.8 707.7 520.4 705.3 C521.9 703 521.5 705.5 523.7 704.4 C525.8 703.2 524.8 704 526.7 701.8 C528.7 699.6 527 698 529.6 697.8 C532.2 697.6 532 701.7 534.5 701.2 C537 700.7 534.4 698.3 537.1 696.4 C539.7 694.4 540 695.2 542.4 695.4 C544.9 695.5 542.3 696.1 544.4 696.9 C546.4 697.7 545.7 698.2 548.5 697.7 C551.3 697.1 550.3 697.3 552.8 695.2 C555.3 693.1 553.3 692.3 556.1 691.4 C558.8 690.5 558.2 693.1 561.1 692.6 C564 692.2 562.7 690.3 564.7 690 C566.8 689.7 565.5 692 567.3 691.7 C569.1 691.3 567.2 688.1 570.1 688.9 C573.1 689.7 572.8 693.1 576.1 694 C579.4 694.9 577.7 692.3 580 691.7 C582.2 691 580.9 692.8 582.8 692 C584.8 691.3 583.4 689.8 585.8 689.5 C588.1 689.2 587.3 691.3 589.9 691.1 C592.6 690.8 591.4 688.6 593.7 688.7 C596 688.8 595.8 690.5 596.8 691.4" fill="none" stroke="#4c4c4c" stroke-width="0.8"/>
<path d="M596.4 687 C598.4 687.7 599.1 687.8 602.5 689.1 C605.8 690.5 603.2 691 606.3 691 C609.4 690.9 608.4 690 611.9 689 C615.3 688.1 613.6 688.2 616.5 688.1 C619.5 687.9 616.9 687 620.7 688.6 C624.5 690.3 624.2 691.3 627.9 693 C631.6 694.7 629 693.4 631.8 693.7 C634.7 694 633.7 693.7 636.4 693.9 C639.1 694 636.9 693.6 640 694.1 C643.1 694.5 642.3 694.5 645.8 695.3 C649.3 696.1 647.4 695.8 650.5 696.4 C653.6 697 652.1 696.1 655.1 697.1 C658 698.2 656.4 698.6 659.3 699.5 C662.1 700.5 661 698 663.6 699.9 C666.3 701.8 664.7 703.1 667.2 705.2 C669.8 707.3 667.9 704.9 671.3 706.2 C674.8 707.5 674.3 707.1 677.6 709 C680.9 710.9 678.8 710.6 681.3 711.9 C683.7 713.1 683.8 712.4 685 712.7" fill="none" stroke="#666" stroke-width="0.9"/>
<path d="M598.2 690.8 C599 691.6 598.8 692.9 600.4 693.2 C602.1 693.6 600.7 692 603.2 691.9 C605.7 691.7 604.5 691.7 607.8 692.7 C611.1 693.7 610.2 694.3 613 694.8 C615.9 695.2 614.3 694.3 616.3 694.1 C618.2 693.9 615.9 694.1 618.9 694.2 C621.9 694.3 622.3 694.3 625.2 694.2 C628.2 694.2 625.8 694.6 627.8 693.9 C629.9 693.3 629.2 691.2 631.5 692.3 C633.8 693.3 632.1 696.6 634.8 697.1 C637.5 697.6 636.6 693 639.7 693.8 C642.7 694.7 641.1 698.6 643.9 699.7 C646.6 700.7 645 697.5 647.9 697 C650.9 696.5 650.3 696.9 652.7 698.2 C655.2 699.6 653.5 700.1 655.4 701 C657.2 702 656.1 700.6 658.3 701.1 C660.5 701.5 659.7 700.4 662 702.3 C664.4 704.3 662.4 705.6 665.3 707 C668.2 708.4 667.5 705.7 670.8 706.5 C674.1 707.3 673.1 706.8 675.3 709.3 C677.6 711.9 675.4 712.8 677.5 714.1 C679.7 715.4 679.3 712.9 681.8 713.3 C684.3 713.7 683.9 714.6 685 715.3" fill="none" stroke="#4c4c4c" stroke-width="0.8"/>
<path d="M497.7 720.1 C501 711.8 511.8 717.3 517.9 714.6 C524 711.8 528.3 706.8 534.4 703.5 C540.5 700.3 547.6 697.1 554.6 695.3 C561.6 693.4 569 692.9 576.6 692.5 C584.3 692.1 592.9 692.4 600.5 692.9 C608.2 693.4 615.5 693.8 622.6 695.3 C629.6 696.8 636.6 699.1 642.8 701.7 C648.9 704.3 654.4 707.2 659.3 710.9 C664.2 714.6 668.5 719.5 672.1 723.8 C675.8 728 679 732.3 681.3 736.6 C683.6 740.9 685.6 745.2 685.9 749.5 C686.2 753.7 685.2 758.3 683.2 762.3 C681.2 766.3 678 770.1 674 773.3 C670 776.6 665.4 779.5 659.3 781.6 C653.2 783.7 645.2 785.1 637.3 786.2 C629.3 787.3 620.1 787.9 611.5 788 C603 788.2 594.1 787.7 585.8 787.1 C577.6 786.5 569.6 785.9 562 784.4 C554.3 782.8 546.3 780.5 539.9 777.9 C533.5 775.3 527.4 772 523.4 768.7 C519.4 765.5 518.2 759.4 516 758.6 C513.9 757.9 513.6 763.2 510.5 764.2 C507.5 765.1 499.8 771.5 497.7 764.2 C495.5 756.8 494.3 728.3 497.7 720.1Z" fill="#a5a5a5" stroke="#c6c6c6" stroke-width="1.1"/>
<path d="M539.9 731.1 C540.4 727.4 540.8 722.2 542.7 718.2 C544.5 714.3 547.4 710.1 550.9 707.2 C554.5 704.3 559.5 702 563.8 700.8 C568.1 699.6 571.7 698.8 576.6 699.9 C581.5 700.9 591.6 704.8 593.2 707.2 C594.7 709.7 588 711.8 585.8 714.6 C583.7 717.3 581.2 720.7 580.3 723.8 C579.4 726.8 579.4 730.5 580.3 732.9 C581.2 735.4 583.8 736.6 585.8 738.4 C587.8 740.3 591.6 741.8 592.3 744 C592.9 746.1 590.9 748.2 589.5 751.3 C588.1 754.4 586.4 759.4 584 762.3 C581.5 765.2 578.2 767.7 574.8 768.7 C571.4 769.8 567.5 770 563.8 768.7 C560.1 767.5 556.1 764.6 552.8 761.4 C549.4 758.2 545.7 753 543.6 749.5 C541.4 745.9 540.5 743.3 539.9 740.3 C539.3 737.2 539.5 734.8 539.9 731.1Z" fill="#141414" stroke="#5a5a5a" stroke-width="0.5"/>
<path d="M579.7 750.9h0M578.9 751.4h0M571.9 707.9h0M579.6 711.9h0M582.4 742.7h0M573.8 705h0M559.4 750.4h0M561.9 758.6h0M573.5 715.7h0M584.8 748.2h0M550.9 751.6h0M579 752.4h0M574.5 757.1h0M563.7 743.8h0M581.9 740.3h0M571.9 742.6h0M578.5 752.2h0M548.9 745.8h0M563.3 714.8h0M554.5 724.9h0M579 737.9h0M581.9 751.8h0M564.6 720.3h0M583.8 714h0M572.2 741.5h0M569.8 735.9h0M556.1 715.2h0M548.2 733.2h0M559.5 740.2h0M575.8 718.9h0M572.3 717.7h0M579.6 713.9h0M571.6 750.6h0M554.1 743h0M558.1 721.9h0M560.2 753.2h0M544.2 732.5h0M576 705.3h0M566.9 753.8h0M573.7 738.9h0M571.6 740.2h0M561.2 724h0M559.7 741.3h0M562.5 724.2h0M550.4 731.4h0M567 736.9h0M551.2 740.1h0M556.5 748.3h0M563.8 711.8h0M555.4 743.1h0M551.7 728.2h0M549.4 737.5h0M574 709.7h0M551.6 741.5h0M576.9 759.7h0M551.2 721.2h0M571.9 742.3h0M573.3 738h0M552.4 716.3h0M570.9 705.8h0M560.3 724.7h0M563.8 733h0M580 753.4h0M558.7 750.9h0M558.6 711.8h0M562.2 707.7h0M578.2 717.2h0M566.4 755.6h0M571.8 762.5h0M578.6 747.6h0M579.4 747.4h0M575.1 737.7h0M555.9 713h0M566.6 721.3h0M577.9 743.7h0M572.9 727.2h0M576.1 732.2h0M572.7 742.1h0M572.5 734.7h0M583.2 745.8h0M565.8 761.1h0M578.4 740.3h0M555.4 742.2h0M580 720.1h0M578.6 719.2h0M553.7 739.2h0M557.1 710.1h0" stroke="#6e6e6e" stroke-width="0.9" stroke-linecap="round" fill="none"/>
<path d="M571.5 735.7L576.7 738.2M570.7 735.9L576 740M567.2 736.1L563.1 740M572.5 734.9L577.7 735.5M568.7 732.8L568.2 728.5M570 734.1L573.9 732.9M566.4 732.1L565.2 730.9" stroke="#8a8a8a" stroke-width="0.6" stroke-linecap="round" fill="none"/>
<path d="M602.4 710 C603 707.1 607.9 705.8 611.5 704.5 C615.2 703.1 620.1 701.6 624.4 701.7 C628.7 701.9 633.3 703.4 637.3 705.4 C641.2 707.4 645.2 710.3 648.3 713.6 C651.3 717 654.1 721.5 655.6 725.6 C657.1 729.7 657.5 734.2 657.5 738.4 C657.5 742.7 657.1 747.3 655.6 751.3 C654.1 755.3 651.3 759.3 648.3 762.3 C645.2 765.4 641.2 768.1 637.3 769.7 C633.3 771.2 628.4 772.1 624.4 771.5 C620.4 770.9 616 768 613.4 766 C610.8 764 608.5 761.4 608.8 759.6 C609.1 757.7 614 757.3 615.2 755 C616.4 752.7 616.7 749.5 616.1 745.8 C615.5 742.1 612.9 736.9 611.5 732.9 C610.2 729 609.4 725.7 607.9 721.9 C606.3 718.1 601.7 712.9 602.4 710Z" fill="#141414" stroke="#5a5a5a" stroke-width="0.5"/>
<path d="M645.8 741.1h0M625.2 725h0M622.5 760.8h0M635.3 744.6h0M617.2 738h0M636.6 710.7h0M617.9 733.1h0M632.4 747.3h0M621.6 716.3h0M643 727.3h0M614 715.1h0M625.5 760.1h0M626.5 758.5h0M628.3 742.3h0M616.4 730.3h0M627.4 719.4h0M618.4 725.3h0M616.9 714.3h0M648.3 749.6h0M612.7 723.6h0M630.4 759.9h0M620.9 731.6h0M613.9 723.9h0M614.5 718.9h0M642.9 726.5h0M637.4 717.6h0M629.2 761.9h0M646.2 753.4h0M644.9 739.4h0M629.3 738.4h0M624.1 761.2h0M612 726.1h0M616.9 755.6h0M618.5 708.3h0M625.9 742.1h0M633 753.7h0M616.4 754.1h0M632.4 713.8h0M645.9 752h0M633.6 728.7h0M619.6 758.7h0M641.2 716.9h0M645.4 751.5h0M620.7 732.3h0M642.2 751.1h0M637.2 763.4h0M613.1 730.2h0M618.5 736.5h0M624.8 735.9h0M622.9 718.7h0M637.3 731.7h0M640.3 744.4h0M629.6 737h0M625 765h0M646.1 723.7h0M620.6 731.9h0M618.7 754.7h0M641.7 725.7h0M642.5 726.5h0M619.8 740.8h0M636 734.1h0M615.1 708.8h0M634.8 762.8h0M637.1 725.6h0M638.5 745.7h0M622.7 765.5h0M628.1 757.5h0M612.4 726.4h0M646.4 722.2h0M642.6 743.5h0M623 721.2h0M640.7 735.5h0M636.7 728.9h0M617.5 722h0M645.4 748.4h0M643.2 716.1h0M621.4 734.9h0M609.9 715.8h0M648.9 723.9h0M644.3 756.6h0M641 731.2h0M627 762.5h0M641.4 735.4h0M620 722.9h0M646.2 747.1h0M618.2 729.7h0M646 753.2h0M631.6 753.3h0M647.4 738h0M639.8 761.3h0M611.4 712.5h0" stroke="#6e6e6e" stroke-width="0.9" stroke-linecap="round" fill="none"/>
<path d="M626.4 735.4L624.8 733.5M629.3 736.6L635.6 733.4M629.2 737L636 735.1M624.4 736.4L621.1 735.6M626.5 738.1L620.1 741.2M626.4 740.1L625.8 741.1M628.8 736.8L634.6 732.9" stroke="#8a8a8a" stroke-width="0.6" stroke-linecap="round" fill="none"/>
<ellipse cx="593.2" cy="737.5" rx="7.7" ry="2.9" fill="#060606"/>
<ellipse cx="597.8" cy="701.7" rx="5.1" ry="3.7" fill="#d4d4d4" transform="rotate(0 597.8 701.7)"/>
<ellipse cx="596.8" cy="755.9" rx="5.5" ry="7" fill="#c6c6c6" stroke="#f0f0f0" stroke-width="2.1"/>
<path d="M584 770 C586.1 769.7 592.3 767.6 596.8 767.8 C601.4 768.1 609.1 770.9 611.5 771.5" fill="none" stroke="#f1f1f1" stroke-width="3.1" stroke-linecap="round" stroke-linejoin="round"/>
<ellipse cx="595.9" cy="762.3" rx="2.6" ry="2.2" fill="#555" stroke="#f0f0f0" stroke-width="1.4"/>
<path d="M595.4 778.8 L595.4 779.8" fill="none" stroke="#f1f1f1" stroke-width="1.9" stroke-linecap="round" stroke-linejoin="round"/>
<path d="M538.1 729.3 L538.1 723.4" fill="none" stroke="#f1f1f1" stroke-width="1.9" stroke-linecap="round" stroke-linejoin="round"/>
<path d="M536.8 740.3 C537.2 741.8 537.9 746.7 539 749.5 C540.1 752.2 542.8 755.6 543.6 756.8" fill="none" stroke="#f1f1f1" stroke-width="1.4" stroke-linecap="round" stroke-linejoin="round"/>
<path d="M658 728.3 L658 734.8" fill="none" stroke="#f1f1f1" stroke-width="1.9" stroke-linecap="round" stroke-linejoin="round"/>
<path d="M649.2 715.5 L653.8 720.1" fill="none" stroke="#f1f1f1" stroke-width="1.9" stroke-linecap="round" stroke-linejoin="round"/>
<path d="M539 767.8 C540.4 768.7 544.3 771.5 547.3 773.3 C550.2 775.2 555.2 777.9 556.8 778.8" fill="none" stroke="#f1f1f1" stroke-width="2.6" stroke-linecap="round" stroke-linejoin="round"/>
<path d="M641.8 776.1 C644.1 774.7 651.5 771.1 655.6 767.8 C659.7 764.5 664.8 758.2 666.6 756.3" fill="none" stroke="#f1f1f1" stroke-width="2.4" stroke-linecap="round" stroke-linejoin="round"/>
<path d="M647.4 764.2 L653.8 755" fill="none" stroke="#f1f1f1" stroke-width="1.4" stroke-linecap="round" stroke-linejoin="round"/>
<ellipse cx="504.1" cy="733.9" rx="3.7" ry="4" fill="#999" stroke="#f0f0f0" stroke-width="1.9"/>
<path d="M567.5 742.1 C568.7 741.8 572.4 741.2 574.8 740.3 C577.3 739.4 580.9 737.2 582.2 736.6" fill="none" stroke="#bbb" stroke-width="1.4" stroke-linecap="round" stroke-linejoin="round"/>
<path d="M622.6 736.6 L626.2 744.9" fill="none" stroke="#d0d0d0" stroke-width="2.1" stroke-linecap="round" stroke-linejoin="round"/>
</g>
</g>
<rect x="707" y="677.3" width="197.3" height="148.2" fill="#020202"/>
<g clip-path="url(#ct8)"><g filter="url(#fct)">
<path d="M713.3 781.6 Q805 824.3 901 784.4 L901 803.6 Q805 843.6 713.3 800.9Z" fill="#171717"/>
<path d="M713.3 781.6 Q805 824.3 901 784.4" fill="none" stroke="#161616" stroke-width="5" transform="translate(0 -4)"/>
<path d="M713.3 781.6 Q805 824.3 901 784.4" fill="none" stroke="#6f6f6f" stroke-width="0.8" transform="translate(0 -6)"/>
<path d="M713.3 781.6 Q805 824.3 901 784.4" fill="none" stroke="#d6d6d6" stroke-width="1.2"/>
<path d="M713.3 800.9 Q805 843.6 901 803.6" fill="none" stroke="#f6f6f6" stroke-width="1.5"/>
<path d="M727.3 730.2 C727.4 728.6 727.6 728 727.8 725.2 C728 722.3 727.1 724.8 727.9 721.7 C728.8 718.6 729.4 720.8 730.3 716 C731.2 711.3 728.9 710.4 730.6 707.4 C732.3 704.5 732.5 709.7 735.5 707.3 C738.4 704.8 736.3 703.1 739.4 700.2 C742.4 697.3 741 699.5 744.6 698.6 C748.2 697.7 747.3 699.2 750.2 697.5 C753 695.9 750.4 695.2 753.1 693.7 C755.9 692.1 754.7 694.6 758.4 692.9 C762.1 691.2 760.7 689.8 764.1 688.6 C767.5 687.5 765.5 689.2 768.6 689.4 C771.8 689.6 770.1 689.8 773.6 689.1 C777.1 688.5 775.8 687.6 779.1 687.5 C782.5 687.3 780.4 689.5 783.7 688.6 C787 687.6 785.9 685.8 789.1 684.6 C792.3 683.4 789.4 684.7 793.3 685 C797.2 685.3 796.5 684.5 800.7 685.6 C805 686.7 802.6 688.3 806.1 688.3 C809.6 688.3 807.8 686.2 811.2 685.5 C814.5 684.7 814.5 685.9 816.2 686.1" fill="none" stroke="#666" stroke-width="0.9"/>
<path d="M726.9 733.7 C727.4 732.5 727.9 732.1 728.4 730 C729 727.9 728.1 730.5 728.4 727.4 C728.7 724.3 728.8 723.7 729.3 720.8 C729.9 717.8 729.4 719.8 730.1 718.6 C730.7 717.3 731.1 719.5 731.3 716.9 C731.6 714.4 729.9 712.5 730.8 710.9 C731.8 709.2 731.8 713.4 734.1 712 C736.5 710.6 735.2 708.5 738 706.6 C740.8 704.7 740.1 707.7 742.5 706.2 C745 704.7 744.1 704.6 745.4 702.2 C746.6 699.8 745 700.8 746.4 699.1 C747.7 697.3 747 698.2 749.4 696.9 C751.8 695.5 750.4 695.7 753.6 695 C756.8 694.2 756.7 695.6 759 694.6 C761.3 693.5 758.2 692.3 760.5 691.8 C762.8 691.3 763.1 692.9 765.9 693.1 C768.7 693.2 766.7 692.4 769 692.2 C771.3 692 770.1 693.9 772.9 692.6 C775.6 691.2 774.6 689.5 777.3 688.2 C780 686.8 778.3 688.3 780.9 688.6 C783.5 689 782.2 688.2 785 689.2 C787.9 690.1 786.7 691.3 789.4 691.4 C792.2 691.5 790.9 691 793.3 689.4 C795.7 687.7 793.9 687.2 796.5 686.4 C799.1 685.6 798.6 686 801.1 686.9 C803.6 687.8 801.9 687.9 804 689.2 C806.2 690.5 804.8 690 807.6 690.8 C810.4 691.6 809.5 692.2 812.4 691.5 C815.2 690.7 814.9 689.6 816.2 688.7" fill="none" stroke="#4c4c4c" stroke-width="0.8"/>
<path d="M815.1 685.9 C817 686.3 817 686.5 821 687.1 C825 687.8 823.1 687.6 827 687.8 C831 688.1 829.7 687.1 833 687.8 C836.3 688.5 833.7 689.8 836.9 689.9 C840.1 690.1 838.6 688.7 842.6 688.3 C846.5 687.9 845.6 687.9 848.7 688.7 C851.8 689.6 848.6 689 851.9 690.9 C855.2 692.7 854.8 692.9 858.5 694.2 C862.1 695.6 860.1 694.6 862.9 694.9 C865.6 695.2 864.2 694.2 866.7 695.2 C869.3 696.2 867.2 696.1 870.5 697.8 C873.8 699.4 873 698.3 876.7 700.1 C880.4 701.9 879.2 701.1 881.6 703.1 C884 705.2 882.1 703.3 883.9 706.2 C885.6 709.1 884.5 709.7 886.9 711.7 C889.3 713.8 888.6 710 891.2 712.3 C893.8 714.6 892.8 715.1 894.7 718.7 C896.5 722.3 895.9 719.9 896.7 723.1 C897.4 726.3 896.7 724.9 896.8 728.3 C896.9 731.8 896.6 729.6 897 733.6 C897.4 737.5 898 737 898 740.3 C898 743.6 897.3 740.4 897 743.4 C896.6 746.5 897 747.4 897 749.5" fill="none" stroke="#666" stroke-width="0.9"/>
<path d="M816.8 689.7 C817.4 689.5 816.7 688.9 818.7 689.2 C820.7 689.5 820.4 690.6 822.9 690.5 C825.4 690.4 823.8 689.3 826.2 688.9 C828.7 688.4 827.3 687.8 830.2 689.2 C833 690.6 831.9 692.1 834.8 693.1 C837.6 694.1 836 692.9 838.6 692.3 C841.3 691.7 840.4 690.9 842.7 691.2 C844.9 691.6 843.5 692.2 845.4 693.2 C847.3 694.3 845.5 693.5 848.4 694.3 C851.3 695 851.9 694.6 854.2 695.5 C856.4 696.4 853.5 697.6 855.1 697.1 C856.7 696.5 856.2 694 859 693.8 C861.8 693.6 861.3 694.6 863.6 696.5 C865.9 698.3 863.5 698.1 865.8 699.4 C868 700.7 867.6 699.4 870.2 700.4 C872.9 701.3 871.1 700.9 873.6 702.2 C876.2 703.5 875.4 702.9 877.8 704.2 C880.3 705.5 879.4 704.9 881.1 706.2 C882.7 707.5 881.8 707.5 882.7 708 C883.7 708.5 882.5 705.6 884.1 707.6 C885.6 709.6 885.7 710.4 887.4 714 C889.1 717.6 887.7 717 889.1 718.5 C890.6 720.1 889.9 716.7 891.7 718.7 C893.5 720.6 893.1 722.9 894.5 724.4 C896 725.8 895 721.9 896 723 C896.9 724.1 897.2 725.2 897.4 727.6 C897.6 730 896.3 727.4 896.5 730.2 C896.8 733 898 733.1 898.2 736 C898.5 738.8 897.2 736.8 897.2 738.7 C897.2 740.7 898.2 739.6 898.3 741.8 C898.4 744.1 898 742.1 897.6 745.5 C897.2 748.9 897.2 749.9 897 752" fill="none" stroke="#4c4c4c" stroke-width="0.8"/>
<path d="M709.7 726.5 C711.7 720.7 719.2 727 721.6 729.3 C724.1 731.6 724.2 736 724.4 740.3 C724.5 744.6 723.4 751.3 722.5 755 C721.6 758.6 721 760.8 718.9 762.3 C716.7 763.8 711.2 770.1 709.7 764.2 C708.1 758.2 707.7 732.3 709.7 726.5Z" fill="#a4a4a4" stroke="#bdbdbd" stroke-width="0.8"/>
<path d="M733.5 736.6 C733.9 731.4 733.5 723.8 735.4 718.2 C737.2 712.7 740.3 707.4 744.6 703.5 C748.9 699.7 754.7 697.2 761.1 695.3 C767.5 693.4 775.2 692.8 783.1 692.2 C791.1 691.5 800.3 691.4 808.8 691.6 C817.4 691.8 826.6 692.4 834.6 693.4 C842.5 694.5 850.2 695.7 856.6 698 C863 700.3 868.8 703.5 873.1 707.2 C877.4 710.9 879.9 715.5 882.3 720.1 C884.8 724.7 886.6 729.9 887.8 734.8 C889 739.7 889.8 744.9 889.7 749.5 C889.5 754.1 888.7 758 886.9 762.3 C885.1 766.6 882.5 771.7 878.6 775.2 C874.8 778.7 870.1 781.3 863.9 783.4 C857.8 785.6 849.9 787.1 841.9 788 C833.9 788.9 824.8 788.9 816.2 788.9 C807.6 788.9 798.4 788.8 790.5 788 C782.5 787.3 775.2 786.2 768.4 784.4 C761.7 782.5 755.1 780.4 750.1 777 C745 773.6 740.9 768.7 738.1 764.2 C735.4 759.6 734.3 754.1 733.5 749.5 C732.8 744.9 733.2 741.8 733.5 736.6Z" fill="#a5a5a5" stroke="#c6c6c6" stroke-width="1.1"/>
<path d="M746.4 734.8 C746.7 730.8 747 724.5 749.2 720.1 C751.3 715.6 755.1 711.2 759.3 708.1 C763.4 705.1 768.7 702.8 774 701.7 C779.2 700.6 784.7 700.5 790.5 701.7 C796.3 702.9 807.3 706.8 808.8 709.1 C810.4 711.4 802.4 713.3 799.7 715.5 C796.9 717.6 793.8 719 792.3 721.9 C790.8 724.8 789.6 729.9 790.5 732.9 C791.4 736 795.4 737.8 797.8 740.3 C800.3 742.7 804.4 745.2 805.2 747.6 C805.9 750.1 803.6 752.2 802.4 755 C801.2 757.7 800.1 761.4 797.8 764.2 C795.5 766.9 792.3 770.1 788.6 771.5 C785 772.9 780.1 773.3 775.8 772.4 C771.5 771.5 766.9 769.2 762.9 766 C759 762.8 754.5 756.8 751.9 753.1 C749.3 749.5 748.2 747 747.3 744 C746.4 740.9 746.1 738.7 746.4 734.8Z" fill="#141414" stroke="#5a5a5a" stroke-width="0.5"/>
<path d="M779.6 724.7h0M762.6 727.4h0M779.3 728.7h0M765.4 735.3h0M775.7 714.7h0M778.8 742.5h0M782.2 754h0M774.7 716.8h0M765.4 731.2h0M772.2 716.6h0M780.6 744.8h0M754.6 732.2h0M754.7 740.1h0M792 762.1h0M775.1 748.8h0M777.3 763.2h0M789.9 760.9h0M777.3 762.4h0M790.6 738.2h0M761.1 756.6h0M765.3 737.4h0M770.3 740.6h0M773.5 755.4h0M787.5 721.4h0M758.8 718.5h0M766.8 731.7h0M777.9 755.8h0M764.8 738.4h0M783.1 728.8h0M761.4 753.9h0M801.5 713.2h0M760.7 742.1h0M779.7 757.6h0M785.9 750.5h0M782.3 716.7h0M765.6 719.7h0M794.6 747.6h0M778 730.5h0M781.8 766.2h0M783.7 754.5h0M775.5 764.2h0M765.2 723h0M773.1 744h0M776.5 760.3h0M780.5 740.3h0M781.5 739.5h0M769.1 734.1h0M763.3 733.2h0M787.9 708.4h0M763.4 740.6h0M764.6 752.9h0M762.9 747.2h0M768.9 737.6h0M763.6 739.9h0M786.9 761.5h0M762.4 742h0M781.8 763.5h0M776.4 762.8h0M782.6 739.2h0M795 744.5h0M778.8 748.2h0M762.7 728.4h0M797.8 753.8h0M792.1 747.9h0M787 755.7h0M781.3 709.9h0M761.7 753.4h0M754.1 728.3h0M755.9 747.7h0M768.2 757.6h0M769.2 760.3h0M798 714.3h0M780.5 733.2h0M767.8 745h0M775.7 735.2h0M799.2 744.4h0M793 754h0M771.5 740.6h0M765.3 748h0M773.3 757.1h0M764.6 728.7h0M772.9 728.5h0M761.7 744.9h0M762.2 756.1h0M767.8 738.2h0M763.8 730.8h0M774.6 759.2h0M779.8 726.4h0M791.4 747.9h0M791.4 751.9h0M776 754.7h0M792.6 750.9h0M777.7 756.2h0M776.6 710.2h0M779.1 755h0M756.7 734.3h0M769.1 751.1h0M782.2 722.1h0M756.1 731.5h0M791.2 750.9h0M779.1 730.2h0M775.9 740.7h0M775.6 742.8h0M771.7 725h0M799.9 749.8h0" stroke="#6e6e6e" stroke-width="0.9" stroke-linecap="round" fill="none"/>
<path d="M782.9 738.7L784.4 739.8M779.9 735L779.7 732.5M779.1 735.5L774.9 730.3M781.3 738.8L783.1 741.9M781.8 737.1L786.3 738.2M780.5 734L781.5 729M780.8 737.8L783.5 741.4" stroke="#8a8a8a" stroke-width="0.6" stroke-linecap="round" fill="none"/>
<path d="M811.6 706.3 C811.6 704 820.6 701.7 825.4 700.8 C830.1 699.9 835.2 699.9 840.1 700.8 C845 701.7 850.5 703.7 854.8 706.3 C859 708.9 862.9 712.3 865.8 716.4 C868.7 720.5 871 726.2 872.2 731.1 C873.4 736 873.7 741.2 873.1 745.8 C872.5 750.4 870.7 754.7 868.5 758.6 C866.4 762.6 863.8 766.8 860.3 769.7 C856.7 772.6 851.7 775.3 847.4 776.1 C843.1 776.9 838.2 775.9 834.6 774.3 C830.9 772.6 827.2 768.3 825.4 766 C823.5 763.7 822.9 762 823.5 760.5 C824.2 759 828.3 759 829 756.8 C829.8 754.7 829 750.4 828.1 747.6 C827.2 744.9 823.1 743.6 823.5 740.3 C824 736.9 830.6 731.7 830.9 727.4 C831.2 723.1 828.6 718.1 825.4 714.6 C822.2 711 811.6 708.6 811.6 706.3Z" fill="#141414" stroke="#5a5a5a" stroke-width="0.5"/>
<path d="M831.3 716.3h0M844.6 710.8h0M830.9 722.8h0M856.9 733.1h0M859 755.3h0M842.8 755.2h0M857.2 761.1h0M844.8 769.9h0M831.1 739.7h0M846.1 742.2h0M843.9 731.2h0M831.4 725.6h0M834.2 731.9h0M833.9 737.3h0M844.7 740.1h0M854.1 728.5h0M861.9 751.6h0M829.8 712.1h0M863.9 727.9h0M841.1 759.9h0M830.2 748.5h0M842.5 738.3h0M850.8 754.3h0M853.6 761h0M863.5 733.6h0M862.5 720.9h0M860.4 729.5h0M846.2 752.3h0M855.8 716.4h0M852.9 713.3h0M826.7 759.4h0M827.8 708.8h0M849.7 712.4h0M822.5 711.6h0M857.2 749.9h0M828.6 742h0M846.6 710.8h0M833.5 748.3h0M847 715h0M863 748.9h0M831.6 716.5h0M846.1 738.2h0M858.4 743.1h0M839.3 713.8h0M860.8 748.1h0M840.2 756.6h0M850.4 720.3h0M851.3 754.9h0M828.3 758.9h0M864.6 735.4h0M846.4 750.1h0M850.8 765.2h0M828.1 713.4h0M837.4 713.1h0M827.5 737.6h0M843.7 714h0M852.2 743.3h0M843.7 721.2h0M828.8 706.5h0M854.1 750.2h0M828.5 718.2h0M854.5 719.3h0M842.9 709.2h0M831.3 725.1h0M830.1 713h0M831 752.9h0M833.3 718.1h0M830 721.2h0M863 736.6h0M824.7 714.4h0M834.6 760.5h0M845 747.9h0M859.2 749.7h0M862.6 754.7h0M833.1 721h0M854.5 713.1h0M840 738.5h0M831 759.8h0M858.7 748.2h0M833.6 753.4h0M842.1 728.5h0M836.7 763.7h0M836.2 742.8h0M852 755h0M835.6 729.5h0M831.9 760h0M862.2 727.6h0M839.6 742.4h0M839.8 736.2h0M845.1 720.2h0M828.2 709.1h0M838.6 734.8h0M841.5 735.1h0M854.9 743.7h0M829.6 721.5h0M841.2 732.3h0M818.2 710.5h0M848.1 715.7h0M849.2 738.1h0M829 761.3h0M856.5 737.7h0M842.9 724h0M835.4 709.5h0M841 740.7h0M866.6 734.3h0M854.5 741.8h0M838.9 761.4h0M844.7 733.1h0M836.3 728.5h0M831.1 750.8h0" stroke="#6e6e6e" stroke-width="0.9" stroke-linecap="round" fill="none"/>
<path d="M839.6 736.9L837.2 733.6M840.6 738.1L837.6 733.6M840 736.5L837.9 732M841.7 741.8L842.6 746.6M838.6 736.9L836.7 735.6M841.7 740.1L844 744.5M842.7 737.8L848.7 734" stroke="#8a8a8a" stroke-width="0.6" stroke-linecap="round" fill="none"/>
<path d="M803.3 700.2 C804.6 700.1 808.1 699.7 810.7 699.5 C813.3 699.3 817.6 699.2 818.9 699.1" fill="none" stroke="#d8d8d8" stroke-width="4.3" stroke-linecap="round" stroke-linejoin="round"/>
<ellipse cx="808.8" cy="758.6" rx="5.9" ry="7.3" fill="#c6c6c6" stroke="#f0f0f0" stroke-width="2.1"/>
<ellipse cx="808.8" cy="766" rx="2.6" ry="2.2" fill="#555" stroke="#f0f0f0" stroke-width="1.4"/>
<path d="M796 775.5 C798.1 774.9 804.3 771.4 808.8 771.5 C813.4 771.6 821.1 775.3 823.5 776.1" fill="none" stroke="#f1f1f1" stroke-width="3.1" stroke-linecap="round" stroke-linejoin="round"/>
<path d="M806.1 780.7 L806.1 782.2" fill="none" stroke="#f1f1f1" stroke-width="2.1" stroke-linecap="round" stroke-linejoin="round"/>
<path d="M744.2 738.4 L744.6 732" fill="none" stroke="#f1f1f1" stroke-width="2.1" stroke-linecap="round" stroke-linejoin="round"/>
<path d="M746.8 720.1 L749.2 715.5" fill="none" stroke="#f1f1f1" stroke-width="1.9" stroke-linecap="round" stroke-linejoin="round"/>
<path d="M872.2 724.7 L872.8 731.1" fill="none" stroke="#f1f1f1" stroke-width="1.9" stroke-linecap="round" stroke-linejoin="round"/>
<path d="M873.5 743 L872.8 749.5" fill="none" stroke="#f1f1f1" stroke-width="1.9" stroke-linecap="round" stroke-linejoin="round"/>
<path d="M866.7 767.3 L878.6 756.8" fill="none" stroke="#f1f1f1" stroke-width="2.6" stroke-linecap="round" stroke-linejoin="round"/>
<path d="M749.2 753.1 C750.2 755 753 761.1 755.6 764.2 C758.2 767.2 763.2 770.3 764.8 771.5" fill="none" stroke="#f1f1f1" stroke-width="1.7" stroke-linecap="round" stroke-linejoin="round"/>
<path d="M841.9 777.9 C843.7 777.3 849.4 776.2 852.9 774.3 C856.4 772.3 861.3 767.4 863 766" fill="none" stroke="#f1f1f1" stroke-width="1.9" stroke-linecap="round" stroke-linejoin="round"/>
<path d="M774 726.5 C775.5 727.9 780.4 732.2 783.1 734.8 C785.9 737.4 789.3 740.9 790.5 742.1" fill="none" stroke="#cdcdcd" stroke-width="2.1" stroke-linecap="round" stroke-linejoin="round"/>
<ellipse cx="786.8" cy="742.1" rx="2.9" ry="2.9" fill="#222" stroke="#f0f0f0" stroke-width="1.9"/>
<ellipse cx="832.7" cy="745.4" rx="3.3" ry="3.3" fill="#222" stroke="#f0f0f0" stroke-width="2.1"/>
<path d="M834.6 740.3 C836.4 738 841.9 729.1 845.6 726.5 C849.3 723.9 854.8 725 856.6 724.7" fill="none" stroke="#c4c4c4" stroke-width="1.4" stroke-linecap="round" stroke-linejoin="round"/>
<path d="M761.1 709.1 L766.6 705.4" fill="none" stroke="#f1f1f1" stroke-width="1.4" stroke-linecap="round" stroke-linejoin="round"/>
</g>
</g>
</svg>
</body></html>
